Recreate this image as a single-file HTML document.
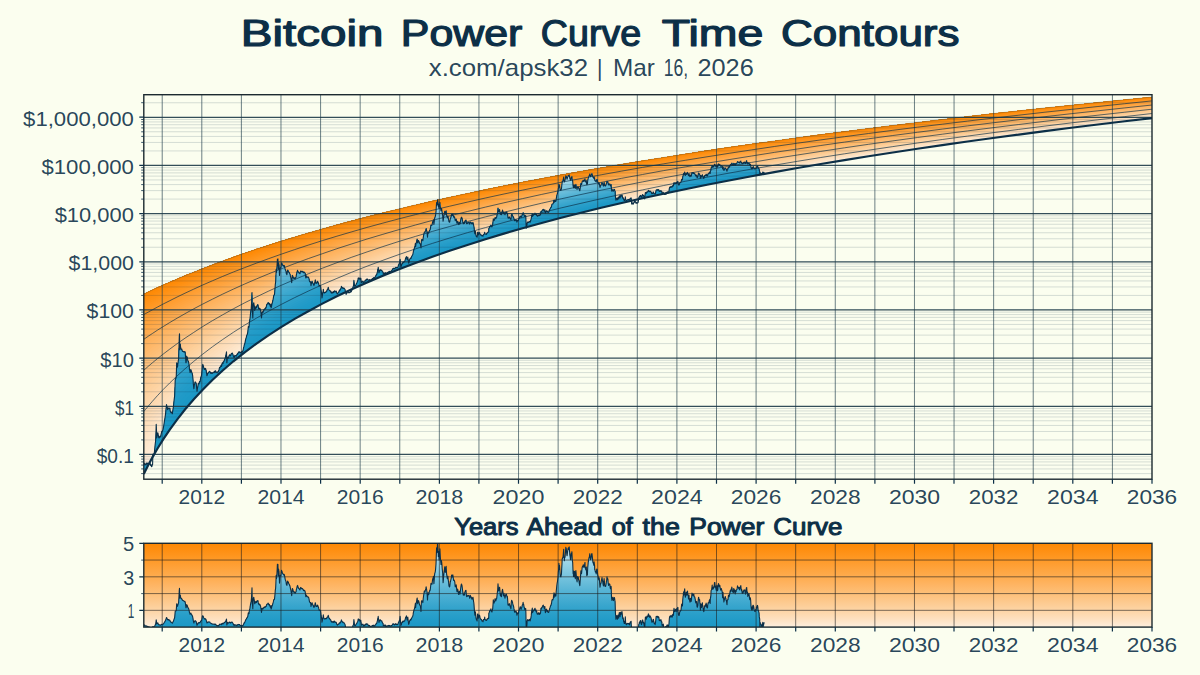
<!DOCTYPE html>
<html><head><meta charset="utf-8"><title>Bitcoin Power Curve Time Contours</title>
<style>
html,body{margin:0;padding:0;background:#fbfeef;}
body{width:1200px;height:675px;position:relative;overflow:hidden;font-family:"Liberation Sans",sans-serif;color:#0c2f47;}
.t{position:absolute;left:0;width:1200px;text-align:center;white-space:nowrap;}
#title{top:11px;font-size:35px;font-weight:bold;letter-spacing:1.2px;}
#sub{top:55px;font-size:22.5px;letter-spacing:0.4px;}
#bt{top:514px;font-size:19.5px;font-weight:bold;letter-spacing:0.4px;left:143.8px;width:1008.2px;}
</style></head><body>
<svg width="1200" height="675" viewBox="0 0 1200 675" style="position:absolute;left:0;top:0">
<defs>
<clipPath id="cm"><rect x="143.8" y="94.7" width="1008.2" height="384.5"/></clipPath>
<clipPath id="cb"><rect x="143.8" y="543.3" width="1008.2" height="83.80000000000007"/></clipPath>
<clipPath id="up"><polygon points="143.2,464.4 143.6,464.3 143.9,464.9 144.2,463.7 144.5,463.2 144.9,463.3 145.2,464.5 145.5,464.8 145.8,464.8 146,464.4 146.2,464.7 146.5,463 146.8,463.6 147.1,463.1 147.5,463.8 147.8,463.3 148.1,463.6 148.4,463.9 148.8,463.9 149,464.4 149.1,464.1 149.4,462.8 149.7,463.1 150.1,463.3 150.4,464.5 150.7,465.5 151,464.5 151.4,466.3 151.7,466.7 152,466 152.3,464.9 152.6,464.4 152.7,460.3 152.8,454.9 153,454 153.3,454.5 153.6,454.7 154,454 154.3,453.4 154.6,450.1 154.9,446.9 155.3,443.2 155.6,441 155.9,433.4 156,431.5 156.2,424.4 156.6,432.7 156.8,437.9 156.9,437.4 157.2,435.6 157.5,433.7 157.7,432.9 157.9,432.9 158.2,434.7 158.5,436.1 158.8,437.9 159.2,437.9 159.5,437.5 159.8,436.3 160.1,436.2 160.4,436.1 160.5,436.9 160.8,436 161.1,434.1 161.4,433.1 161.8,431.3 162.1,431.5 162.4,431.2 162.8,430.1 163.1,429.2 163.4,427.6 163.7,426 164.1,423.3 164.4,421.2 164.7,419.6 165,417.8 165.4,414.8 165.6,413.7 165.7,412.5 166,408.9 166.3,406.8 166.5,404.5 166.7,405.4 167,406.5 167.3,407.8 167.6,409.7 168,408.4 168.3,408.1 168.6,408 168.9,408.8 169.3,408.6 169.6,408.2 169.9,408.1 170.2,410.9 170.6,411.7 170.7,412 170.9,412.6 171.2,412.1 171.5,412 171.9,412.8 172.2,413.8 172.4,413.7 172.5,412.4 172.8,410.6 173.2,407.8 173.5,406.3 173.8,402.8 174.1,400 174.5,396.8 174.6,396.4 174.8,391.4 175.1,383 175.2,380.1 175.4,378.9 175.8,378.7 176.1,377.3 176.2,377.3 176.4,371.8 176.7,362.8 177.1,364.1 177.4,366.3 177.5,367.1 177.7,364.9 178,362.9 178.4,360.1 178.6,359.2 178.7,355.2 179,347 179.2,339.8 179.3,336.5 179.5,333.8 179.7,343.7 179.8,349.6 180,345.6 180.1,344.1 180.3,344.1 180.6,346.9 180.9,348.3 181,349 181.3,349.2 181.6,349.6 181.8,349.1 181.9,349.6 182.3,351 182.6,351.5 182.9,351.5 183.3,351.6 183.4,351.4 183.6,351.7 183.9,352 184.2,351.8 184.6,352.2 184.9,351.6 185.2,352.6 185.5,356.4 185.9,362.2 186,362.8 186.2,361.6 186.5,358.7 186.7,356.1 186.8,356.4 187.2,357.3 187.5,358.8 187.8,360.5 188.1,361.2 188.5,361.5 188.6,362.3 188.8,363 189.1,365.3 189.4,368.7 189.5,369.5 189.8,370.5 190.1,372.6 190.4,371.1 190.7,370 190.8,369.5 191.1,370.5 191.4,371.7 191.7,371.9 191.8,372.6 192,372.7 192.4,374.3 192.7,375.9 192.8,377.3 193,378.9 193.3,383.7 193.7,387.4 193.9,388.8 194,387.9 194.3,385.2 194.6,384.3 195,382.1 195.2,381.9 195.3,382 195.6,382.6 195.9,382.8 196.2,383.3 196.3,384 196.6,387.6 196.9,390 197,391.3 197.2,390.1 197.6,387.6 197.9,386.1 198.2,383.9 198.4,383.3 198.5,383.5 198.9,383.8 199.2,383.4 199.5,381.6 199.8,381.7 200,381.9 200.2,381.2 200.5,378.9 200.8,377.3 201,376.8 201.1,376.8 201.5,375.5 201.7,373.9 201.8,372.9 202.1,369.7 202.4,365.9 202.6,365.3 202.8,364.4 203.1,365.5 203.3,365.9 203.4,366 203.7,367.6 204.1,368.6 204.4,369.5 204.7,369.1 205,368.3 205.2,368.8 205.4,369.6 205.7,368.8 206,369.7 206.1,369.9 206.3,371.3 206.7,373.8 206.9,375.8 207,375.4 207.3,374.9 207.6,373.7 208,372.9 208.3,373 208.6,372.4 208.9,371.9 209.3,371.7 209.6,371.4 209.8,371.4 209.9,371.4 210.2,372.3 210.6,373.3 210.9,373.1 211.2,372.5 211.5,373.2 211.6,373 211.9,373.5 212.2,373.5 212.5,373.1 212.8,372.6 213.2,372.8 213.5,372.6 213.8,372.3 214.1,371.6 214.5,371.3 214.8,372.2 214.9,372.6 215.1,371.8 215.4,370.7 215.8,371.1 216.1,371.9 216.4,372.4 216.7,372.6 217.1,372.9 217.4,372.1 217.7,372.1 218,371.4 218.2,371.4 218.4,371.6 218.7,370.3 219,370.2 219.3,368.5 219.6,367.2 219.8,367.4 220,367.6 220.3,367.1 220.6,366.4 220.9,365.8 221.3,365.1 221.5,366.5 221.6,366.1 221.9,364.1 222.2,363.3 222.6,362.7 222.9,363.8 223,363.8 223.2,362.1 223.5,361.7 223.9,361.4 224.2,360.8 224.5,359.6 224.8,359.2 225.2,358 225.5,357.3 225.8,355.4 226.1,354.1 226.5,351.8 226.8,362.8 227.1,360.8 227.4,357.1 227.8,357.6 228.1,357.8 228.2,358.1 228.4,357.6 228.7,357.1 229.1,355.5 229.4,355.6 229.7,354.8 230,354.8 230.4,355.9 230.7,355.5 231,354.6 231.3,353.8 231.4,353.6 231.7,353.3 232,353.5 232.3,353 232.6,353.8 233,354.6 233.3,355.9 233.6,356.4 233.9,357.3 234.3,357.5 234.6,355.7 234.8,356.3 234.9,355.4 235.2,355.5 235.6,355.8 235.9,355.9 236.2,356.1 236.3,355.9 236.5,355 236.8,354.7 237.2,354.6 237.5,353.5 237.8,354 238,353.3 238.1,353 238.5,352.3 238.8,351.9 239.1,352.2 239.4,352.1 239.6,351.8 239.8,352.5 240.1,352.9 240.4,352.7 240.7,352.4 241.1,352.8 241.3,351.8 241.4,352.8 241.7,352.4 242,351.4 242.4,352.1 242.7,351.5 242.9,350.6 243,350.7 243.3,349 243.7,347.2 244,346.4 244.3,344.5 244.6,344.5 244.8,343.2 245,342.8 245.3,341.2 245.6,339.6 245.9,338.6 246.3,337.3 246.6,335.9 246.9,335 247.2,334.7 247.6,332.9 247.8,332.2 247.9,331 248.2,327.8 248.3,326.6 248.6,326.8 248.9,327.3 249,327.1 249.2,324.3 249.5,321.4 249.9,319.3 250.2,316.8 250.5,313.5 250.7,312.1 250.8,311.2 251.2,309.1 251.5,304.4 251.6,302.6 251.8,297.4 252,292.5 252.1,299 252.3,312.1 252.5,312.5 252.8,318 253.1,308.9 253.2,305.3 253.4,304.1 253.8,302.7 254.1,305.4 254.4,306.6 254.7,310.4 255.1,308.4 255.4,308.8 255.7,306.9 255.9,307.2 256,306.7 256.4,307.9 256.7,305.9 257,306 257.3,305.5 257.7,304.7 257.8,304.6 258,304.9 258.3,307.3 258.6,308.6 258.7,308.7 259,308.1 259.3,309.3 259.6,308.5 259.8,308.3 259.9,308.4 260.3,309.3 260.6,310.4 260.9,312.8 261,312.6 261.2,315.3 261.5,318 261.6,316.6 261.9,313.8 262,312.6 262.2,311.9 262.5,312.7 262.9,312.6 263.1,311.7 263.2,311.2 263.5,311.3 263.8,309.8 264.2,309.8 264.4,309.1 264.5,309.7 264.8,309.7 265.1,308.4 265.5,308.5 265.8,307.5 265.9,307.9 266.1,307.6 266.4,306.1 266.8,304.5 267.1,304.3 267.4,304 267.8,303.2 268.1,302.6 268.4,302.8 268.7,303.8 269.1,304.1 269.3,304.4 269.4,303.3 269.7,304.3 270,305.4 270.4,306.5 270.7,306.1 271,304 271.1,307.9 271.3,307.3 271.7,305.4 271.8,304.9 272,303.7 272.3,303.1 272.5,302.2 272.6,301.5 273,299.8 273.3,298.3 273.6,296.5 273.9,295.1 274.3,294.8 274.4,295 274.6,293.4 274.9,289.9 275.2,286 275.3,284.3 275.6,282.5 275.7,280.9 275.9,276.5 276.2,269.2 276.5,272.4 276.9,268.5 277,266.4 277.2,263 277.4,259.2 277.5,260.8 277.6,262.8 277.8,260.1 277.9,258.8 278.2,266 278.3,269.2 278.5,265.3 278.6,262.8 278.8,264.1 279,264.7 279.1,266.6 279.5,275.4 279.8,273.1 279.9,271.8 280.1,269.2 280.3,267.8 280.4,268 280.8,267.7 280.9,267.8 281.1,266.3 281.4,263.3 281.5,262.8 281.7,263.2 282.1,263.8 282.4,264.8 282.5,265.2 282.7,265 283,265.7 283.4,265.7 283.6,266.2 283.7,265.8 284,265.5 284.3,265.7 284.7,267.1 285,268.7 285.3,269.8 285.6,270.5 285.8,270.8 286,271.3 286.3,273.4 286.4,273.9 286.6,273.9 286.9,274.7 287.3,272.1 287.6,270.1 287.9,270.6 288.3,270.9 288.4,271.6 288.6,271.9 288.9,272.4 289.2,272.5 289.4,273 289.6,273.5 289.9,273.9 290.2,275 290.5,276.5 290.7,277.1 290.9,277.8 291.2,279.9 291.5,281.2 291.7,282.8 291.8,281.3 292.2,277 292.3,275.4 292.5,275.5 292.8,276.2 293.1,276.9 293.3,278 293.5,277.9 293.8,278.5 294,278.1 294.1,277.7 294.4,278.4 294.8,278.4 295,278.9 295.1,279 295.4,278.1 295.7,277.6 296.1,276.9 296.4,274.6 296.7,273.8 296.8,273.2 297,272 297.4,270.8 297.6,270.3 297.7,270.7 298,271.4 298.3,272.3 298.7,272.8 298.9,272.8 299,272.9 299.3,272.8 299.6,273.4 300,273.7 300.3,272.1 300.6,271.1 300.9,270.9 301.3,271.6 301.6,271.7 301.9,271.6 302.1,271.8 302.2,271.4 302.6,271.4 302.9,272 303.2,271.8 303.5,272.8 303.9,272.7 304,272.6 304.2,272.4 304.5,272.2 304.8,272.8 305,272.8 305.2,273.4 305.5,275.8 305.8,278 306.1,277.1 306.5,275.9 306.6,275.8 306.8,277.1 307.1,277 307.3,277.2 307.5,277.2 307.8,277.1 308.1,277.3 308.3,277.1 308.4,277.1 308.8,277.9 309.1,279.1 309.4,280.9 309.7,281.7 310.1,281.8 310.4,282.2 310.6,281.7 310.7,282.5 311,285.6 311.4,283.5 311.7,282.8 312,281.4 312.1,281.2 312.3,282 312.7,282.8 313,283.6 313.2,283.7 313.3,283.7 313.6,284.8 314,285.3 314.3,284.4 314.5,283.7 314.6,283.6 314.9,281.9 315.3,279.9 315.6,281.3 315.9,282.7 316,283.4 316.2,283.1 316.6,283.1 316.9,283.1 317.2,282 317.5,281.3 317.9,281.9 318.2,282.9 318.5,283 318.7,284 318.8,284.3 319.2,286 319.5,285.5 319.8,285.6 320.1,285.9 320.5,285.6 320.8,287.6 321,289.2 321.1,290.5 321.4,292.4 321.8,295.4 322,297.9 322.1,297 322.4,295.5 322.6,293.9 322.7,292.9 323.1,291.5 323.3,289.2 323.4,289.7 323.7,291.9 323.9,292.8 324,292.4 324.4,293 324.7,292.9 325,292.6 325.3,292.3 325.5,292.1 325.7,292.3 326,291.7 326.3,291.8 326.7,291.5 327,289.9 327.3,289.9 327.6,289.4 328,288.5 328.2,287.3 328.3,287.4 328.6,289 328.9,289.8 329,289.9 329.3,290.1 329.6,290.4 329.9,290.8 330.2,291 330.3,291.2 330.6,291 330.9,292 331.2,292.8 331.5,292.1 331.9,293.2 332.2,292.6 332.5,292.8 332.8,292.3 333.2,291.6 333.5,292.6 333.6,292.3 333.8,292.2 334.1,291.8 334.5,290.8 334.8,291.7 335.1,291.9 335.4,291.3 335.8,291.2 336.1,291.1 336.4,291.7 336.7,292.9 337,293 337.1,293.5 337.4,293.8 337.7,293.2 338,292.8 338.4,292.2 338.5,292.1 338.7,292.2 339,291.6 339.3,290.5 339.7,290.6 340,289.5 340.2,290.1 340.3,289.7 340.6,289 341,288 341.3,287.1 341.4,286.3 341.6,286.7 341.9,287.3 342.3,288.1 342.6,288.2 342.8,287.8 342.9,287.7 343.2,288.4 343.6,288.4 343.9,288.1 344.2,288.2 344.5,288.7 344.9,289.3 345.1,289.8 345.2,290.3 345.5,292 345.8,293.1 346.1,294.4 346.2,294.3 346.5,293.1 346.8,292.6 346.9,292.7 347.2,292.7 347.5,292.9 347.8,292.7 348.1,292.6 348.5,292.3 348.8,292.8 349.1,292.6 349.4,292.8 349.8,292.3 350.1,292.2 350.2,291.9 350.4,292.2 350.7,291.4 351.1,291.9 351.4,291.5 351.7,290.3 352,290.1 352.4,289.2 352.7,288.3 352.8,288 353,286.8 353.3,286.2 353.6,285.3 353.7,283.8 353.9,280.4 354,281.3 354.3,283.6 354.6,286.3 355,285.9 355.3,286.2 355.6,285.3 355.9,284.9 356.3,283.8 356.6,283.4 356.8,283 356.9,282.7 357.2,281.9 357.6,281.1 357.9,280.2 358,279.2 358.2,278.5 358.3,277.8 358.5,278.2 358.9,278.8 359.2,278.6 359.4,278.2 359.5,278 359.8,279.1 360.1,279.4 360.2,279.1 360.5,278.4 360.8,278.1 361.1,280.4 361.5,282.3 361.7,282.8 361.8,282.5 362.1,282 362.4,281.6 362.8,281.2 363.1,281.6 363.4,281.8 363.5,282.4 363.7,282.7 364.1,282 364.4,282 364.7,281.4 365,280.7 365.4,280.2 365.7,280.7 366,280.2 366.3,279.5 366.7,279.2 367,279.6 367.3,279.1 367.6,279.1 368,279.7 368.2,280.1 368.3,280.2 368.6,280.2 368.9,280.4 369.3,279.8 369.6,279.6 369.9,280.1 370,280.1 370.2,280.2 370.6,280.4 370.9,280 371.2,279.8 371.5,279.5 371.9,279.5 372.2,278.6 372.5,278.4 372.8,278.5 373.1,278.7 373.3,278.4 373.5,277.9 373.8,277.5 374.1,278.4 374.4,278.4 374.8,278.1 375.1,277.3 375.4,276.3 375.7,276 376.1,275.2 376.2,275.2 376.4,274.5 376.7,274.7 377,273.3 377.4,271.9 377.7,269.7 378,268.8 378.2,267.3 378.3,268.4 378.7,270.4 378.9,272.4 379,272.8 379.3,271.5 379.6,271.1 379.9,270 380,269.9 380.3,269.8 380.6,270 380.9,270.2 381.3,270.5 381.4,270.3 381.6,270.3 381.9,270.3 382.2,271.4 382.6,271.8 382.9,272.2 383.2,272.3 383.3,274.3 383.5,273.9 383.9,274 384.2,273.5 384.5,273.8 384.7,273.5 384.8,272.9 385.2,272.6 385.5,273 385.8,273.9 386.1,273.4 386.5,273 386.6,273.4 386.8,273.2 387.1,272.8 387.4,272.6 387.8,272.7 388.1,272.2 388.4,271.9 388.7,271.7 389.1,272.1 389.4,271.4 389.7,271.4 389.8,272 390,271.7 390.3,271.7 390.7,271.5 391,271 391.3,271.1 391.6,270.6 392,270.1 392.3,269.7 392.6,269.5 392.9,268.4 393.2,268.3 393.3,268.6 393.6,268.3 393.9,268.4 394.1,268.8 394.2,268.6 394.6,268.8 394.9,268.2 395.2,267.8 395.5,268 395.9,267.2 396.2,267.5 396.4,267.6 396.5,267.7 396.8,267.8 397.2,267.5 397.5,267.5 397.8,267.2 397.9,267 398.1,266.2 398.5,265.1 398.8,264.4 399,264.1 399.1,264.2 399.4,263 399.7,262.5 399.8,261.7 400.1,259.2 400.4,262.6 400.7,265.6 400.8,267 401.1,266.4 401.4,266 401.7,264.4 401.8,264.1 402,263.5 402.4,263.7 402.7,262.8 403,262.2 403.1,262.1 403.3,262.1 403.7,262.6 404,261.8 404.3,261.7 404.6,261.6 405,260.4 405.3,259.4 405.6,258.3 405.9,257.7 406.3,257.1 406.4,256.5 406.6,257.9 406.9,258.6 407.1,259.5 407.2,259.6 407.6,258.2 407.8,257.1 407.9,257.8 408.2,259.8 408.5,262.1 408.7,263.1 408.9,262.6 409.2,261.6 409.5,260.1 409.8,259.2 410.2,258.7 410.5,258 410.8,258.5 411,258.3 411.1,258 411.5,256.9 411.8,256.2 412.1,255.7 412.5,255 412.8,254.4 413.1,253 413.4,251.3 413.8,250.1 414.1,248.6 414.4,248.3 414.7,247 414.8,246.7 415.1,245.4 415.4,243.4 415.6,246.7 415.7,246 416,243.7 416.1,243.4 416.4,242.6 416.7,241.1 417,239.4 417.2,239.1 417.3,240 417.7,243 418,241.8 418.2,240.8 418.3,240.8 418.6,240.5 419,241.6 419.3,242.6 419.4,243.2 419.6,243.2 419.9,243.6 420.3,244 420.4,244 420.6,245.4 420.9,247.1 421,248 421.2,243.8 421.5,239.7 421.6,239.9 421.9,239.8 422.2,239.6 422.5,240.1 422.8,240.8 422.9,240.2 423.2,237.8 423.5,236 423.8,234.5 424.2,232.7 424.3,232 424.5,232.1 424.8,231.9 425,232.3 425.1,231.7 425.5,231 425.8,230.1 426.1,228.5 426.4,229.6 426.8,231.1 426.9,231.2 427.1,233.1 427.4,235.9 427.5,237.2 427.7,234.6 428,232.3 428.1,232.1 428.4,232.9 428.7,233.1 429,232.1 429.4,230.8 429.7,230 430,230.1 430.3,229 430.7,226.6 430.9,225.4 431,225 431.3,225.5 431.7,225.1 432,225.2 432.3,223.6 432.6,222.1 432.7,221.8 433,221.1 433.3,220.6 433.5,219.7 433.6,220.9 433.9,224.5 434.3,221.1 434.5,219.1 434.6,218.6 434.9,217.3 435.2,216.9 435.3,216.4 435.6,214.9 435.9,212.5 436,211.8 436.2,208.7 436.5,203.7 436.6,202.5 436.9,203.9 437,205.1 437.2,203.6 437.5,200.2 437.6,199.7 437.8,200.8 437.9,201.6 438.2,204.7 438.3,206.9 438.5,205.4 438.7,204 438.8,205.1 439.1,208.8 439.2,206.4 439.5,205.3 439.8,203.5 439.9,202.4 440.1,204.5 440.4,207.5 440.8,209.6 441,210.8 441.1,210.6 441.4,208.4 441.7,209.4 442,211.2 442.1,212.2 442.4,214.1 442.7,215.6 443,219.9 443.1,221.2 443.4,219.2 443.7,216.7 444,215.1 444.2,213.6 444.3,213.6 444.7,211.4 444.8,211.2 445,212.8 445.3,214.4 445.6,213 446,211.4 446.2,210.7 446.3,212.1 446.6,215.1 446.9,216.1 447.3,217.6 447.6,216.6 447.9,216 448.2,218 448.6,219.5 448.9,221.5 449.2,222 449.5,222.2 449.7,222.1 449.9,221 450.2,219.4 450.3,218.5 450.5,218.5 450.8,217.6 451.2,216.5 451.5,215.1 451.6,214.3 451.8,214.8 452.2,215.3 452.3,215.2 452.5,214.8 452.8,213.9 453.1,214.9 453.5,216.7 453.6,217.1 453.8,216.8 454.1,216.8 454.4,217 454.8,217.9 455.1,219.9 455.3,220.7 455.4,220.4 455.7,219.8 456.1,219.3 456.2,219.2 456.4,220.1 456.7,222.1 457,223.3 457.4,221.7 457.7,221.4 457.8,221.8 458,222.3 458.3,223.6 458.7,224.6 459,224.3 459.3,222.7 459.4,222.3 459.6,222.4 460,223.9 460.2,223.4 460.3,222.4 460.6,220.6 460.7,220 460.9,219 461.3,217.5 461.5,217.2 461.6,217.4 461.9,217.8 462.2,218.9 462.6,221 462.9,222.3 463.2,223.3 463.3,223.8 463.5,223.6 463.9,222.8 464.2,223.5 464.4,223.3 464.5,223.2 464.8,221.4 465.2,220.9 465.3,220.8 465.5,220.2 465.8,220.1 466,220 466.1,220.8 466.5,223.6 466.8,223.7 467.1,223.5 467.4,223.4 467.8,222.6 468.1,223 468.4,222.9 468.7,222.8 469,222.3 469.1,222.8 469.4,223.1 469.7,224.1 470,223.4 470.4,222 470.5,222.3 470.7,222.7 471,222.6 471.4,223.3 471.7,223.6 472,224 472.3,223 472.7,223.2 473,222.5 473.3,223.9 473.6,225.2 473.7,225.3 474,227 474.3,229.7 474.4,230.5 474.6,232.2 474.9,233.8 475.3,232 475.4,231.4 475.6,232.6 475.9,234.9 476.2,236.2 476.6,236.5 476.9,237 477.1,237.2 477.2,236.5 477.5,233.4 477.6,232.3 477.9,232.2 478.1,232.5 478.2,233.5 478.4,235 478.5,234.5 478.8,234.2 479.2,232.9 479.5,232.6 479.8,233.2 480.1,234.1 480.5,235 480.8,234.9 481.1,235 481.4,234.9 481.8,235.7 481.9,235.9 482.1,235.7 482.4,235.6 482.7,235.7 483,236.2 483.1,235.7 483.3,234.7 483.4,234.5 483.7,234.5 484,234.2 484.4,233.8 484.7,232.2 484.9,233.8 485,233.9 485.3,233.9 485.7,234.1 486,234.3 486.3,233.9 486.6,234.1 486.9,233.3 487,233.3 487.3,232.7 487.6,232.8 487.9,232.3 488.3,232 488.6,231.8 488.7,232 488.8,228.5 488.9,228.6 489.2,228 489.6,227 489.7,226.9 489.9,226.3 490.2,226.6 490.6,225.9 490.9,225.1 491.1,225.9 491.2,225.9 491.5,226.4 491.9,226.9 492.2,226 492.5,224.9 492.7,224.5 492.8,223.4 493.2,220.1 493.3,218.8 493.5,219.5 493.7,220.2 493.8,220 494.1,220.5 494.5,219.3 494.8,218.7 495.1,217.5 495.4,218 495.8,218.8 496.1,217.7 496.4,217.5 496.7,216.9 496.8,216.3 497.1,214.8 497.4,212.8 497.6,212.2 497.7,211.5 498,208.1 498.3,210 498.4,210.6 498.7,212 499,210.9 499.3,210.4 499.6,209.6 499.7,210.3 500,211.9 500.3,214.2 500.6,214.4 500.9,213 501,213.5 501.3,214.5 501.5,214.7 501.6,213.6 501.9,211.9 502.3,210.9 502.5,210.1 502.6,210.3 502.9,211.3 503.2,212.6 503.5,213.6 503.6,213.6 503.9,212.7 504,212.1 504.2,212.7 504.5,213.3 504.9,214.6 505,214.7 505.2,213.8 505.5,213.2 505.7,212.4 505.8,212.4 506.2,211.9 506.5,212.1 506.8,212.8 507.1,213.6 507.4,213.2 507.5,213.9 507.8,216.3 508,218 508.1,217.9 508.4,218.1 508.8,218 509.1,217 509.4,217.1 509.5,216.9 509.7,217.4 510.1,218.3 510.4,218.9 510.7,219 510.9,219.6 511.1,218.3 511.3,215.2 511.4,215 511.7,214.2 512,214.5 512.4,215.1 512.7,215.9 513,216.5 513.3,217.2 513.4,217 513.7,217.7 514,218.9 514.3,219.4 514.5,220.6 514.6,220.7 515,220.7 515.3,220.6 515.6,219.9 515.9,219.7 516.3,220 516.6,220.8 516.9,222.1 517.2,221.4 517.6,220.5 517.8,220.3 517.9,220.8 518.2,220.4 518.4,220.5 518.5,220.1 518.9,218.7 519.2,218.4 519.3,218.1 519.5,217.8 519.8,216.9 520.2,216 520.4,216 520.5,216.8 520.8,216.7 521.1,217.4 521.5,216.4 521.8,216 522.1,215 522.3,214.4 522.4,214.3 522.8,214 523.1,212.6 523.2,213 523.4,213.5 523.7,213.7 523.9,214.4 524.1,215.2 524.4,215.5 524.7,216.5 524.8,216.5 525,216 525.4,216.2 525.7,215.6 525.9,218.5 526,221.4 526.2,228.2 526.3,227.7 526.4,227.3 526.6,228 527,224.7 527.1,223.6 527.3,222.7 527.6,222 527.9,222.4 528.3,222.3 528.4,222.3 528.6,222.5 528.9,221.7 529.2,222 529.4,221.4 529.6,221.8 529.9,221.9 530.2,222.1 530.4,221.5 530.5,221 530.9,220 531.2,218.7 531.5,216.6 531.8,215.2 532.2,214.2 532.3,213.7 532.5,215.6 532.6,216.4 532.8,215.9 533.1,215.1 533.5,215.1 533.7,214.7 533.8,214.4 534.1,214.5 534.4,214.4 534.8,213.4 535,213.2 535.1,213.4 535.4,214.3 535.7,214.5 536.1,214 536.4,215.1 536.5,214.9 536.7,214.5 537,215.7 537.4,216.2 537.7,216 537.9,215.6 538,215.7 538.3,215.1 538.7,215.7 539,214.8 539.3,215 539.6,215.6 539.7,215.3 540,214.9 540.3,215 540.5,214.7 540.6,214.2 540.9,211.8 541,211.6 541.3,212.1 541.6,211.2 541.7,211.4 541.9,210.8 542.2,210.9 542.6,209.8 542.9,210 543.2,209.6 543.3,209.3 543.5,209.6 543.8,210.1 544.2,210.9 544.5,210.2 544.8,209.8 544.9,209.9 545.1,211.8 545.4,213.2 545.5,212.9 545.8,212.3 546.1,211.1 546.4,210.8 546.8,211.4 547,211.8 547.1,212 547.4,211.3 547.7,211.7 548.1,212.2 548.2,212.4 548.4,212.3 548.7,212.1 549,211.4 549.1,211 549.4,210.6 549.7,209.5 550,209.2 550.3,208.4 550.7,207.7 551,207.5 551.3,206.6 551.4,206.9 551.6,206 552,204.3 552.3,204.1 552.6,203.9 552.9,204 553,203.8 553.3,203.3 553.6,201.6 553.9,200.6 554,200.1 554.2,202.4 554.6,200.8 554.8,200.4 554.9,201.1 555.2,200.8 555.5,201.4 555.9,201.2 556.2,198.9 556.4,197.8 556.5,197.3 556.8,195.7 557.2,194.1 557.5,193.3 557.8,192 558,191.3 558.1,190.3 558.3,188.6 558.5,187.9 558.8,185.2 558.9,184.3 559.1,186.1 559.2,187.1 559.4,185.7 559.5,185.1 559.8,187 560.1,189.4 560.3,190.1 560.4,190.4 560.7,190.2 560.9,190.3 561.1,189.6 561.4,189 561.5,188.3 561.7,186.2 562,183.8 562.2,181.6 562.4,181.5 562.7,180.9 563,180.8 563.3,179.2 563.7,177 563.9,180.4 564,180.6 564.3,181.1 564.4,182 564.6,180.6 565,180.4 565.3,179 565.6,177 565.8,175.7 565.9,175.9 566.3,176.3 566.4,177 566.6,177.7 566.9,179 567.1,179.2 567.2,178.8 567.6,177.3 567.9,176.5 568.2,175.6 568.5,176.1 568.9,175.3 569.2,174.9 569.5,176.6 569.7,177.5 569.8,178.3 570.2,179.2 570.5,180.3 570.8,180.3 571.1,177.7 571.4,177.1 571.5,177.1 571.8,176.8 571.9,176.5 572.1,178.3 572.3,180.2 572.4,180.6 572.7,181.3 572.8,182.5 573.1,186.2 573.3,186.1 573.4,186.3 573.5,187.6 573.7,185.8 573.9,185 574.1,186.7 574.2,187.6 574.4,186.1 574.7,185 575,186.6 575.3,188.4 575.4,188 575.7,185.4 575.9,184.3 576,185 576.4,186.9 576.7,187.8 576.8,188.9 577,189.1 577.1,189.5 577.3,188.2 577.5,186.9 577.7,186.9 578,187.1 578.1,187.2 578.3,187 578.6,188.2 579,188.5 579.3,189.8 579.6,190.3 579.8,190.7 579.9,190.2 580.3,187.7 580.4,187.1 580.6,185.4 580.9,183.5 581.2,184.2 581.4,184.7 581.6,184.4 581.9,182.9 582.1,181.8 582.2,181.6 582.5,181.1 582.6,181.2 582.9,181.2 583.2,180.3 583.4,180.2 583.5,180.9 583.8,181.3 584.2,180.5 584.5,180.4 584.8,179.1 585,178.9 585.1,181.3 585.5,181.3 585.8,182.1 586.1,180.9 586.3,180.7 586.4,181.7 586.7,184.2 586.8,184.6 587.1,184.2 587.4,184.1 587.7,180.7 588.1,178.9 588.3,177.8 588.4,177.8 588.7,176.9 589,176.1 589.3,175.6 589.4,175.7 589.7,174.3 589.8,174.1 590,174.9 590.3,176.1 590.6,176.6 590.7,176.5 591,176.1 591.1,175.8 591.3,174.9 591.6,174 591.9,173.6 592,173.8 592.3,174.7 592.6,176.2 592.9,177.2 593.3,177.6 593.4,177.4 593.6,177.9 593.8,178.4 593.9,178.1 594.1,176.9 594.2,177.2 594.6,178.5 594.7,180.3 594.9,180.1 595.2,180.7 595.3,181.1 595.6,181 595.7,181.3 595.9,180.9 596.1,181.6 596.2,181.9 596.5,180.6 596.7,179.6 596.9,179.6 597.2,179.6 597.5,181.3 597.6,181.5 597.8,182.3 598.2,182.7 598.4,183.8 598.5,183.5 598.8,184.1 599.1,183.1 599.2,183 599.5,184.5 599.8,186.4 600,187.4 600.1,187.2 600.4,186 600.6,185.8 600.8,185.4 601.1,185 601.4,183.8 601.7,183.2 602,182.5 602.1,182.9 602.4,183.4 602.7,184.3 602.8,184.3 603,185.2 603.4,185.9 603.5,186.1 603.7,184.2 604,183 604.1,182.5 604.3,183.4 604.7,185.3 604.8,185.7 605,185.9 605.3,185.9 605.4,185.8 605.6,185.9 606,184.8 606.3,183.8 606.4,183.4 606.6,183.2 606.9,181.6 607,181.2 607.3,181.8 607.6,182.1 607.9,181.9 608.2,183.8 608.6,184.9 608.9,184.4 609.2,184.1 609.5,183.9 609.9,184.1 610.2,185.6 610.5,186 610.7,185.4 610.8,185 611.1,184.7 611.2,185.5 611.5,189.6 611.6,190.4 611.8,190.9 611.9,191.3 612.1,190.4 612.3,189.7 612.5,189.8 612.8,190.3 613.1,190.7 613.4,191.1 613.8,190.1 613.9,189.5 614.1,189.7 614.4,189.4 614.6,189.7 614.7,190.4 615.1,191.2 615.4,196.6 615.7,198.6 615.9,200.2 616.1,199.7 616.3,198.4 616.4,198.2 616.7,198.2 616.8,198.1 617,198.3 617.4,199.8 617.7,198.8 618,197.5 618.3,198.2 618.7,198.9 619,196.9 619.3,195.9 619.4,195.9 619.6,196.8 620,197.7 620.1,197.9 620.3,195.8 620.4,195.5 620.6,196.3 620.9,196.7 621.1,195.9 621.3,195.7 621.6,195.4 621.9,194.8 622,194.9 622.2,195.8 622.6,197.5 622.7,198.2 622.9,198.3 623.2,197.7 623.5,199 623.6,199.5 623.9,199.5 624.2,200.5 624.5,200.2 624.6,200.4 624.8,199.8 625.2,197.9 625.3,196.7 625.5,198.6 625.6,199.4 625.8,200.2 626.1,200.2 626.2,200.7 626.5,200.7 626.8,200 626.9,200.1 627.1,200.1 627.3,199.8 627.4,199.8 627.8,199.8 628.1,199.7 628.4,199.6 628.6,199.7 628.7,199.8 629.1,199.3 629.4,200.1 629.7,199.5 629.9,199 630,199 630.4,198.3 630.7,198.3 631,197.9 631.1,197.8 631.3,200 631.5,200.7 631.6,203.9 631.7,201.8 632,202.5 632.1,203 632.3,202.8 632.6,203.9 632.9,204 633,204.3 633.3,203.9 633.6,203.3 633.8,202.3 633.9,202.7 634.3,202.5 634.4,202.5 634.6,201.1 634.9,201.9 635.3,201.5 635.4,201.5 635.6,202.1 635.9,203.2 636.2,203.3 636.6,202.6 636.9,203.1 637.2,203.1 637.5,202.7 637.9,202.8 638.1,202.4 638.2,201.8 638.5,200.3 638.7,198.1 638.8,197.7 639.2,197.3 639.4,196.4 639.5,197 639.8,196.2 640.1,196 640.3,195.5 640.5,195.4 640.7,195.5 640.8,195.9 641.1,196.9 641.4,197.1 641.5,197.3 641.8,196.5 642.1,195.5 642.2,195 642.4,195.1 642.7,194.5 643.1,195.6 643.2,196 643.4,195.7 643.7,195.6 644,196.6 644.4,197.5 644.5,197.4 644.7,198.9 645,195.1 645.3,193.2 645.4,192.5 645.7,192.5 646,192.6 646.3,193.4 646.5,192.7 646.6,192.4 647,191.8 647.3,192.2 647.5,191.9 647.6,192 647.9,191.6 648.3,190.8 648.4,190.3 648.6,190.7 648.9,190.9 649,191.5 649.2,191.1 649.6,191.5 649.7,191.8 649.9,191 650.2,191.1 650.5,191.5 650.9,191.5 651,191.7 651.2,192 651.4,192.8 651.5,192.6 651.8,193.8 652.2,193.7 652.5,193.1 652.8,193.4 653.1,192.1 653.3,192 653.5,192.1 653.7,193 653.8,192.8 654.1,193.8 654.5,193.8 654.8,193.7 655.1,194.3 655.4,193.5 655.8,191.8 656.1,190.1 656.4,190.1 656.7,189.8 657.1,189.9 657.2,189.8 657.4,190.1 657.7,189.6 658,190.2 658.2,189.6 658.4,189.8 658.7,189.7 659,190.3 659.3,191.5 659.4,191.2 659.7,191 660,191 660.2,191.2 660.3,190.9 660.6,191.1 661,190.6 661.1,190.8 661.3,191.7 661.6,191.4 661.9,191.5 662,193.1 662.3,192.9 662.6,192.8 662.9,193.1 663.2,193.5 663.3,192.3 663.6,193.3 663.7,193.8 663.9,194.2 664.2,193.8 664.5,194.5 664.8,194.3 664.9,194.1 665.2,194 665.5,193 665.8,194.5 666.2,193.9 666.5,192.7 666.6,192.8 666.8,192.4 666.9,192.1 667.1,192.4 667.5,191.8 667.8,192.7 668,192.9 668.1,192.9 668.4,192.7 668.8,191.4 669,190.8 669.1,190.1 669.4,188.1 669.7,187.3 670.1,187.1 670.3,187.1 670.4,187.4 670.7,187.2 671,186.4 671.2,186.4 671.4,186.8 671.7,187.1 672,187.1 672.3,186.9 672.7,185.6 672.8,185.8 673,185.9 673.3,186 673.4,185.8 673.6,184.3 674,182.5 674.3,183.2 674.6,183.9 675,183.5 675.3,183.7 675.6,182.8 675.9,183.4 676.3,182.5 676.6,183.1 676.8,183.4 676.9,183.1 677,182.1 677.2,182 677.6,181.6 677.9,181.4 678.1,183.2 678.2,183.5 678.5,184.9 678.9,184.8 679.2,184.9 679.5,183.8 679.8,183 679.9,182.9 680.1,182.4 680.5,182.5 680.8,182.3 681,182 681.1,181.7 681.4,180.3 681.7,179.2 681.8,179.4 682.1,179.4 682.4,179.9 682.5,179.4 682.7,177.3 683.1,175.5 683.2,175.3 683.4,174.2 683.7,173.4 683.8,174.8 684,174 684.4,173 684.7,172 685,174.3 685.3,175.5 685.7,174.8 686,173.8 686.2,173 686.3,173.2 686.6,173.9 686.9,174.3 687,174.1 687.3,173.1 687.5,172.4 687.6,172.9 687.9,173.7 688.3,174.3 688.5,175.7 688.6,175.4 688.9,174.5 689,173.8 689.2,175 689.6,176 689.9,176.5 690,176.7 690.2,175.7 690.5,175 690.9,176 691.2,176.2 691.4,175.6 691.5,174.8 691.8,173.5 692,172.5 692.2,172.6 692.5,172.7 692.8,173.1 693.1,173.4 693.5,172.7 693.8,172.6 694.1,173.5 694.4,173.7 694.8,173.7 695.1,174.6 695.2,174.4 695.4,175.3 695.7,175.8 695.8,176 696.1,175.8 696.4,175.5 696.6,175.1 696.7,175.5 697,177.3 697.3,177.6 697.7,176.9 697.8,176.9 698,175.7 698.2,174.4 698.3,173.8 698.6,173 698.8,173.4 699,173.9 699.2,174.2 699.3,173.9 699.6,173.9 699.9,175.3 700.1,175.6 700.3,177.7 700.4,178.3 700.6,176.3 700.7,175.5 700.9,175.6 701.2,176.4 701.5,177 701.6,176.8 701.9,176.1 702.2,175 702.4,174.7 702.5,175.7 702.9,176 703,176.3 703.2,177.2 703.5,178 703.8,178.3 704.2,177 704.5,176.3 704.6,175.9 704.8,175.4 705.1,175.5 705.5,175 705.8,175.6 706.1,174.2 706.4,174.6 706.8,175.8 707.1,176 707.4,175.8 707.5,176 707.7,174.8 708.1,173.8 708.4,173.6 708.7,173.7 709,173.3 709.4,172.3 709.6,172.1 709.7,172.7 710,172.9 710.2,173.5 710.3,172.1 710.4,171.3 710.7,170.8 710.9,170 711,169.1 711.1,168.1 711.3,167.8 711.6,167.7 712,166.3 712.2,165.6 712.3,166.4 712.6,167.2 712.9,166.5 713.3,167 713.6,166.1 713.9,166.4 714,166 714.2,165.5 714.5,164.2 714.9,164.2 715.2,165.9 715.5,165.5 715.8,166.3 716.2,167 716.3,167 716.5,166.7 716.6,166.1 716.8,165 717,165 717.1,165.2 717.4,167.1 717.5,167 717.8,166.6 718.1,165 718.2,164.5 718.4,163.9 718.7,164.2 718.8,164.3 719.1,164.7 719.3,165 719.4,164.6 719.6,164.5 719.8,164.4 720.1,165.1 720.4,165.8 720.7,166.2 721.1,165.9 721.3,165.9 721.4,165.5 721.7,165.9 722,166.3 722.4,167.3 722.6,169 722.7,168.9 722.8,169 723,166.7 723.2,168.3 723.3,168.3 723.7,169.6 723.9,170.5 724,170.1 724.3,169.7 724.6,169.1 725,168.3 725.3,168 725.4,168.2 725.6,168.5 725.9,168.6 726.1,169.4 726.3,169.4 726.4,169.4 726.6,170 726.9,171 727,171.1 727.2,169.9 727.3,169.2 727.6,168.9 727.9,168.7 728,168.8 728.2,168 728.5,166.8 728.9,167.5 729.2,167.2 729.4,166.7 729.5,166.7 729.8,165.9 730.2,164.9 730.3,164.8 730.5,164.6 730.8,165.1 731,164.7 731.1,164 731.5,164.2 731.8,163.1 732.1,163.6 732.4,164.7 732.7,164.6 732.8,164.6 733.1,164.9 733.3,165.1 733.4,164.8 733.7,163.4 734.1,163.5 734.4,163.8 734.6,164.5 734.7,164.6 735,164.8 735.2,165.2 735.4,164.7 735.5,163.9 735.7,163.7 736,164.1 736.1,164.3 736.3,163.6 736.7,163.3 737,163.2 737.3,162.2 737.5,161.6 737.6,162 738,162 738.2,162.1 738.3,162.2 738.6,162.5 738.9,162.6 739.3,161.9 739.4,162.4 739.6,163 739.9,162.2 740.3,162.2 740.6,161.3 740.8,161 740.9,161.4 741.2,162.4 741.4,162.9 741.6,162.4 741.9,162.7 742.1,163.4 742.2,163.8 742.5,163.7 742.9,163.8 743.2,162.8 743.3,163.3 743.5,162.9 743.8,162.3 744,162.3 744.2,162.3 744.5,162.4 744.7,162.1 744.8,162.1 745.1,162.9 745.5,163.6 745.8,163.1 746.1,161.9 746.4,161 746.7,160.8 746.8,161.4 747.1,162.9 747.4,162.5 747.7,163.7 747.8,164.1 748.1,163.6 748.3,163.7 748.4,163.6 748.7,163.1 748.9,162.7 749,162.9 749.3,163.8 749.4,164.1 749.7,164.9 749.8,165.1 750,164.5 750.3,164.4 750.4,164.2 750.7,165.4 750.9,166.6 751,167.3 751.3,168.4 751.6,168.8 752,169 752.3,167.5 752.4,167.4 752.6,168.1 752.7,168.5 752.9,166.8 753.3,166.8 753.6,167 753.9,167.7 754.2,168.5 754.6,168.7 754.9,169 755.2,169 755.4,168.3 755.5,168.5 755.9,168.5 756,168.2 756.2,167.9 756.5,166.8 756.8,167.1 757.2,166.2 757.5,166.1 757.8,166.6 758.1,168 758.5,167.9 758.7,168.5 758.8,168.4 759.1,168.9 759.3,170.5 759.5,170.9 759.7,171.3 759.8,173.1 759.9,175.1 760,172.7 760.1,172.6 760.4,173.2 760.8,173.2 761,173.3 761.1,173.3 761.4,173.7 761.5,173.5 761.7,174 761.9,174.8 762.1,174.3 762.4,173.8 762.7,172.3 762.8,172.1 763,173 763.2,173.7 763.4,173.3 763.7,172.7 764,172.3 764.1,171.9 764.1,484.2 143.2,484.2"/></clipPath>
<clipPath id="ub"><polygon points="143.2,624.8 143.6,624.9 143.9,625.2 144.2,625.1 144.5,625.1 144.9,625.3 145.2,625.7 145.5,625.9 145.8,626 146,626 146.2,626.1 146.5,625.9 146.8,626.2 147.1,626.2 147.5,626.5 147.8,626.5 148.1,626.7 148.4,626.9 148.8,627 149,627.3 149.1,627.2 149.4,627.1 149.7,627.3 150.1,627.5 150.4,627.9 150.7,628.2 151,628.2 151.4,628.7 151.7,628.9 152,628.9 152.3,628.8 152.6,628.8 152.7,627.9 152.8,626.6 153,626.5 153.3,626.8 153.6,627 154,627 154.3,626.9 154.6,626.3 154.9,625.6 155.3,624.7 155.6,624.3 155.9,622.3 156,621.8 156.2,619.8 156.6,622.4 156.8,624 156.9,623.9 157.2,623.5 157.5,623.1 157.7,622.9 157.9,623 158.2,623.7 158.5,624.2 158.8,624.8 159.2,625 159.5,625 159.8,624.8 160.1,624.9 160.4,625 160.5,625.3 160.8,625.1 161.1,624.7 161.4,624.6 161.8,624.2 162.1,624.4 162.4,624.4 162.8,624.3 163.1,624.1 163.4,623.8 163.7,623.4 164.1,622.8 164.4,622.2 164.7,621.9 165,621.4 165.4,620.6 165.6,620.3 165.7,619.9 166,618.8 166.3,618.2 166.5,617.5 166.7,617.9 167,618.4 167.3,619 167.6,619.8 168,619.5 168.3,619.5 168.6,619.6 168.9,620.1 169.3,620.1 169.6,620.1 169.9,620.2 170.2,621.3 170.6,621.7 170.7,621.9 170.9,622.2 171.2,622.2 171.5,622.3 171.9,622.7 172.2,623.1 172.4,623.2 172.5,622.8 172.8,622.3 173.2,621.5 173.5,621.1 173.8,619.9 174.1,619.1 174.5,618 174.6,617.9 174.8,616 175.1,612.6 175.2,611.4 175.4,611 175.8,611 176.1,610.5 176.2,610.6 176.4,608.1 176.7,603.9 177.1,604.7 177.4,605.9 177.5,606.3 177.7,605.4 178,604.5 178.4,603.2 178.6,602.8 178.7,600.7 179,596.3 179.2,592.1 179.3,590.1 179.5,588.4 179.7,594.7 179.8,598.1 180,595.9 180.1,595.1 180.3,595.2 180.6,596.9 180.9,597.8 181,598.3 181.3,598.5 181.6,598.9 181.8,598.7 181.9,599 182.3,600 182.6,600.3 182.9,600.5 183.3,600.7 183.4,600.6 183.6,600.9 183.9,601.2 184.2,601.2 184.6,601.6 184.9,601.4 185.2,602.1 185.5,604.3 185.9,607.4 186,607.8 186.2,607.3 186.5,605.9 186.7,604.6 186.8,604.8 187.2,605.4 187.5,606.3 187.8,607.4 188.1,607.9 188.5,608.2 188.6,608.6 188.8,609.1 189.1,610.4 189.4,612.2 189.5,612.6 189.8,613.2 190.1,614.3 190.4,613.7 190.7,613.3 190.8,613.1 191.1,613.7 191.4,614.4 191.7,614.7 191.8,615 192,615.1 192.4,616 192.7,616.9 192.8,617.6 193,618.4 193.3,620.6 193.7,622.3 193.9,623 194,622.7 194.3,621.7 194.6,621.5 195,620.6 195.2,620.7 195.3,620.8 195.6,621.1 195.9,621.3 196.2,621.7 196.3,622 196.6,623.6 196.9,624.8 197,625.3 197.2,625 197.6,624.1 197.9,623.6 198.2,622.8 198.4,622.6 198.5,622.8 198.9,623 199.2,623 199.5,622.4 199.8,622.6 200,622.7 200.2,622.4 200.5,621.6 200.8,621 201,620.8 201.1,620.9 201.5,620.5 201.7,619.8 201.8,619.4 202.1,618 202.4,616.3 202.6,616 202.8,615.7 203.1,616.4 203.3,616.7 203.4,616.8 203.7,617.7 204.1,618.3 204.4,618.9 204.7,618.8 205,618.6 205.2,618.9 205.4,619.3 205.7,619.1 206,619.6 206.1,619.8 206.3,620.6 206.7,621.9 206.9,622.9 207,622.7 207.3,622.7 207.6,622.2 208,622 208.3,622.2 208.6,622.1 208.9,621.9 209.3,622 209.6,622 209.8,622.1 209.9,622.1 210.2,622.7 210.6,623.3 210.9,623.3 211.2,623.2 211.5,623.7 211.6,623.6 211.9,623.9 212.2,624.1 212.5,624 212.8,623.9 213.2,624.2 213.5,624.2 213.8,624.2 214.1,624 214.5,624 214.8,624.6 214.9,624.8 215.1,624.5 215.4,624.1 215.8,624.5 216.1,625 216.4,625.3 216.7,625.6 217.1,625.9 217.4,625.6 217.7,625.8 218,625.5 218.2,625.6 218.4,625.8 218.7,625.3 219,625.4 219.3,624.7 219.6,624.2 219.8,624.4 220,624.6 220.3,624.4 220.6,624.2 220.9,624.1 221.3,623.9 221.5,624.7 221.6,624.5 221.9,623.7 222.2,623.4 222.6,623.2 222.9,623.9 223,624 223.2,623.2 223.5,623.1 223.9,623.1 224.2,622.9 224.5,622.4 224.8,622.4 225.2,621.9 225.5,621.7 225.8,620.8 226.1,620.2 226.5,619.1 226.8,625 227.1,624.2 227.4,622.4 227.8,622.8 228.1,623 228.2,623.2 228.4,623.1 228.7,622.9 229.1,622.2 229.4,622.4 229.7,622.1 230,622.2 230.4,623 230.7,622.9 231,622.5 231.3,622.2 231.4,622.2 231.7,622.1 232,622.4 232.3,622.2 232.6,622.8 233,623.4 233.3,624.2 233.6,624.6 233.9,625.2 234.3,625.5 234.6,624.6 234.8,625.1 234.9,624.7 235.2,624.8 235.6,625.1 235.9,625.3 236.2,625.6 236.3,625.5 236.5,625.1 236.8,625.1 237.2,625.1 237.5,624.7 237.8,625.1 238,624.8 238.1,624.7 238.5,624.5 238.8,624.4 239.1,624.7 239.4,624.7 239.6,624.6 239.8,625.1 240.1,625.5 240.4,625.5 240.7,625.5 241.1,625.8 241.3,625.4 241.4,626 241.7,625.9 242,625.5 242.4,626 242.7,625.8 242.9,625.4 243,625.5 243.3,624.7 243.7,623.8 244,623.5 244.3,622.5 244.6,622.7 244.8,621.9 245,621.8 245.3,620.9 245.6,620.1 245.9,619.6 246.3,619 246.6,618.2 246.9,617.8 247.2,617.8 247.6,616.7 247.8,616.4 247.9,615.6 248.2,613.6 248.3,612.9 248.6,613.1 248.9,613.6 249,613.5 249.2,611.7 249.5,609.8 249.9,608.4 250.2,606.7 250.5,604.4 250.7,603.5 250.8,602.8 251.2,601.3 251.5,597.7 251.6,596.3 251.8,592 252,587.8 252.1,593.5 252.3,604.2 252.5,604.5 252.8,608.7 253.1,602 253.2,599.1 253.4,598.3 253.8,597.3 254.1,599.7 254.4,600.8 254.7,603.8 255.1,602.4 255.4,602.9 255.7,601.5 255.9,601.8 256,601.5 256.4,602.6 256.7,601.1 257,601.3 257.3,601.1 257.7,600.6 257.8,600.5 258,600.8 258.3,602.9 258.6,604.1 258.7,604.2 259,603.9 259.3,604.9 259.6,604.4 259.8,604.4 259.9,604.5 260.3,605.4 260.6,606.3 260.9,608.3 261,608.2 261.2,610.3 261.5,612.4 261.6,611.4 261.9,609.5 262,608.6 262.2,608.2 262.5,608.9 262.9,609 263.1,608.4 263.2,608 263.5,608.2 263.8,607.3 264.2,607.4 264.4,606.9 264.5,607.4 264.8,607.6 265.1,606.7 265.5,606.9 265.8,606.3 265.9,606.6 266.1,606.5 266.4,605.4 266.8,604.2 267.1,604.3 267.4,604.1 267.8,603.6 268.1,603.2 268.4,603.6 268.7,604.5 269.1,604.9 269.3,605.3 269.4,604.4 269.7,605.3 270,606.3 270.4,607.4 270.7,607.2 271,605.6 271.1,608.9 271.3,608.5 271.7,607 271.8,606.7 272,605.8 272.3,605.5 272.5,604.8 272.6,604.3 273,603 273.3,601.9 273.6,600.5 273.9,599.4 274.3,599.2 274.4,599.5 274.6,598.2 274.9,595.2 275.2,591.7 275.3,590.1 275.6,588.5 275.7,587 275.9,582.7 276.2,575.2 276.5,578.7 276.9,574.7 277,572.4 277.2,568.7 277.4,564.4 277.5,566.4 277.6,568.7 277.8,565.7 277.9,564.2 278.2,572.5 278.3,576 278.5,571.9 278.6,569.1 278.8,570.6 279,571.4 279.1,573.5 279.5,583.1 279.8,580.8 279.9,579.4 280.1,576.8 280.3,575.3 280.4,575.6 280.8,575.5 280.9,575.6 281.1,574 281.4,570.8 281.5,570.3 281.7,570.8 282.1,571.7 282.4,573 282.5,573.4 282.7,573.3 283,574.2 283.4,574.3 283.6,575 283.7,574.6 284,574.4 284.3,574.7 284.7,576.4 285,578.3 285.3,579.7 285.6,580.5 285.8,580.9 286,581.5 286.3,583.9 286.4,584.4 286.6,584.5 286.9,585.4 287.3,582.9 287.6,581 287.9,581.6 288.3,582.1 288.4,582.8 288.6,583.3 288.9,584 289.2,584.1 289.4,584.7 289.6,585.4 289.9,585.9 290.2,587.2 290.5,588.8 290.7,589.6 290.9,590.3 291.2,592.5 291.5,593.9 291.7,595.6 291.8,594.2 292.2,590 292.3,588.5 292.5,588.7 292.8,589.5 293.1,590.3 293.3,591.6 293.5,591.5 293.8,592.2 294,591.9 294.1,591.6 294.4,592.4 294.8,592.5 295,593.2 295.1,593.3 295.4,592.5 295.7,592.1 296.1,591.6 296.4,589.3 296.7,588.6 296.8,588.1 297,586.9 297.4,585.8 297.6,585.4 297.7,585.8 298,586.8 298.3,587.8 298.7,588.5 298.9,588.6 299,588.8 299.3,588.8 299.6,589.6 300,590 300.3,588.4 300.6,587.5 300.9,587.4 301.3,588.3 301.6,588.6 301.9,588.6 302.1,588.8 302.2,588.5 302.6,588.7 302.9,589.4 303.2,589.4 303.5,590.5 303.9,590.6 304,590.5 304.2,590.4 304.5,590.3 304.8,591 305,591.1 305.2,591.9 305.5,594.4 305.8,596.8 306.1,596.1 306.5,595 306.6,595 306.8,596.3 307.1,596.4 307.3,596.7 307.5,596.7 307.8,596.8 308.1,597.1 308.3,597 308.4,597 308.8,598 309.1,599.3 309.4,601.3 309.7,602.2 310.1,602.4 310.4,603 310.6,602.5 310.7,603.3 311,606.4 311.4,604.6 311.7,604.1 312,602.9 312.1,602.7 312.3,603.5 312.7,604.4 313,605.3 313.2,605.6 313.3,605.5 313.6,606.7 314,607.4 314.3,606.7 314.5,606.1 314.6,606 314.9,604.6 315.3,602.7 315.6,604.2 315.9,605.7 316,606.5 316.2,606.2 316.6,606.4 316.9,606.5 317.2,605.6 317.5,605.1 317.9,605.8 318.2,606.9 318.5,607.2 318.7,608.2 318.8,608.5 319.2,610.3 319.5,610 319.8,610.2 320.1,610.6 320.5,610.4 320.8,612.4 321,614 321.1,615.2 321.4,617.1 321.8,619.9 322,622.1 322.1,621.5 322.4,620.3 322.6,619 322.7,618.1 323.1,617 323.3,614.9 323.4,615.5 323.7,617.6 323.9,618.5 324,618.2 324.4,618.9 324.7,618.9 325,618.8 325.3,618.7 325.5,618.5 325.7,618.8 326,618.4 326.3,618.6 326.7,618.5 327,617.2 327.3,617.4 327.6,617 328,616.3 328.2,615.3 328.3,615.5 328.6,617 328.9,617.9 329,618.1 329.3,618.3 329.6,618.7 329.9,619.2 330.2,619.5 330.3,619.8 330.6,619.7 330.9,620.7 331.2,621.6 331.5,621.1 331.9,622.3 332.2,621.9 332.5,622.1 332.8,621.8 333.2,621.3 333.5,622.4 333.6,622.2 333.8,622.1 334.1,622 334.5,621.1 334.8,622.1 335.1,622.4 335.4,622.1 335.8,622.1 336.1,622.2 336.4,622.8 336.7,624 337,624.2 337.1,624.7 337.4,625.1 337.7,624.7 338,624.5 338.4,624.1 338.5,624 338.7,624.2 339,623.8 339.3,623 339.7,623.2 340,622.3 340.2,623 340.3,622.6 340.6,622.1 341,621.3 341.3,620.6 341.4,619.9 341.6,620.4 341.9,621.1 342.3,622 342.6,622.2 342.8,622 342.9,621.9 343.2,622.7 343.6,622.8 343.9,622.7 344.2,622.9 344.5,623.5 344.9,624.2 345.1,624.7 345.2,625.3 345.5,627 345.8,628 346.1,629.3 346.2,629.3 346.5,628.4 346.8,628 346.9,628.1 347.2,628.3 347.5,628.5 347.8,628.5 348.1,628.6 348.5,628.5 348.8,629 349.1,629 349.4,629.3 349.8,629 350.1,629.1 350.2,628.8 350.4,629.2 350.7,628.6 351.1,629.2 351.4,628.9 351.7,628.1 352,627.9 352.4,627.3 352.7,626.6 352.8,626.4 353,625.4 353.3,625 353.6,624.1 353.7,622.8 353.9,619.6 354,620.5 354.3,622.9 354.6,625.5 355,625.3 355.3,625.7 355.6,625 355.9,624.8 356.3,623.9 356.6,623.6 356.8,623.4 356.9,623.1 357.2,622.4 357.6,621.8 357.9,621 358,620.1 358.2,619.5 358.3,618.8 358.5,619.4 358.9,620.1 359.2,620 359.4,619.8 359.5,619.6 359.8,620.8 360.1,621.2 360.2,621 360.5,620.4 360.8,620.2 361.1,622.7 361.5,624.6 361.7,625.3 361.8,624.9 362.1,624.6 362.4,624.4 362.8,624.1 363.1,624.7 363.4,624.9 363.5,625.6 363.7,626 364.1,625.5 364.4,625.6 364.7,625.1 365,624.6 365.4,624.2 365.7,624.9 366,624.5 366.3,623.9 366.7,623.8 367,624.3 367.3,624 367.6,624.1 368,624.8 368.2,625.3 368.3,625.5 368.6,625.6 368.9,625.9 369.3,625.5 369.6,625.4 369.9,626.1 370,626.1 370.2,626.3 370.6,626.6 370.9,626.4 371.2,626.3 371.5,626.2 371.9,626.3 372.2,625.5 372.5,625.4 372.8,625.7 373.1,626 373.3,625.8 373.5,625.4 373.8,625.1 374.1,626.2 374.4,626.3 374.8,626.2 375.1,625.4 375.4,624.6 375.7,624.4 376.1,623.7 376.2,623.8 376.4,623.2 376.7,623.5 377,622.2 377.4,620.8 377.7,618.7 378,617.8 378.2,616.3 378.3,617.5 378.7,619.8 378.9,622.1 379,622.4 379.3,621.2 379.6,621 379.9,619.9 380,619.8 380.3,619.8 380.6,620.2 380.9,620.6 381.3,621 381.4,620.8 381.6,620.9 381.9,621 382.2,622.4 382.6,622.9 382.9,623.5 383.2,623.7 383.3,625.8 383.5,625.6 383.9,625.7 384.2,625.4 384.5,625.9 384.7,625.7 384.8,625.1 385.2,624.9 385.5,625.5 385.8,626.5 386.1,626.1 386.5,625.9 386.6,626.4 386.8,626.2 387.1,625.9 387.4,625.8 387.8,626.1 388.1,625.7 388.4,625.5 388.7,625.4 389.1,626 389.4,625.4 389.7,625.5 389.8,626.2 390,626 390.3,626.1 390.7,626 391,625.6 391.3,625.9 391.6,625.5 392,625.2 392.3,624.8 392.6,624.7 392.9,623.7 393.2,623.7 393.3,624.1 393.6,623.9 393.9,624.1 394.1,624.6 394.2,624.4 394.6,624.8 394.9,624.3 395.2,624 395.5,624.3 395.9,623.6 396.2,624.1 396.4,624.3 396.5,624.4 396.8,624.7 397.2,624.5 397.5,624.6 397.8,624.4 397.9,624.2 398.1,623.5 398.5,622.4 398.8,621.8 399,621.5 399.1,621.6 399.4,620.4 399.7,620 399.8,619.1 400.1,616.4 400.4,620.4 400.7,623.9 400.8,625.5 401.1,624.9 401.4,624.6 401.7,623 401.8,622.7 402,622.1 402.4,622.5 402.7,621.6 403,621.1 403.1,621 403.3,621 403.7,621.8 404,621 404.3,621 404.6,621 405,619.8 405.3,618.8 405.6,617.6 405.9,617 406.3,616.5 406.4,615.8 406.6,617.5 406.9,618.6 407.1,619.7 407.2,619.9 407.6,618.4 407.8,617.1 407.9,618 408.2,620.5 408.5,623.3 408.7,624.4 408.9,623.9 409.2,623 409.5,621.4 409.8,620.4 410.2,620 410.5,619.3 410.8,620.1 411,619.9 411.1,619.6 411.5,618.4 411.8,617.7 412.1,617.3 412.5,616.6 412.8,616 413.1,614.4 413.4,612.4 413.8,611 414.1,609.4 414.4,609.1 414.7,607.6 414.8,607.3 415.1,605.6 415.4,603.2 415.6,607.6 415.7,606.7 416,603.7 416.1,603.5 416.4,602.5 416.7,600.5 417,598.5 417.2,598.1 417.3,599.4 417.7,603.6 418,602.1 418.2,600.9 418.3,600.9 418.6,600.6 419,602.2 419.3,603.7 419.4,604.5 419.6,604.7 419.9,605.3 420.3,606 420.4,606 420.6,608 420.9,610.3 421,611.5 421.2,606.2 421.5,600.7 421.6,601.1 421.9,601 422.2,600.9 422.5,601.7 422.8,602.7 422.9,601.9 423.2,598.8 423.5,596.5 423.8,594.4 424.2,592 424.3,591 424.5,591.2 424.8,591.2 425,591.9 425.1,590.9 425.5,590.1 425.8,588.9 426.1,586.7 426.4,588.4 426.8,590.7 426.9,591 427.1,593.8 427.4,598 427.5,599.9 427.7,596.2 428,593.1 428.1,592.8 428.4,594.1 428.7,594.6 429,593.2 429.4,591.4 429.7,590.4 430,590.6 430.3,589.2 430.7,585.7 430.9,584 431,583.4 431.3,584.3 431.7,583.9 432,584.1 432.3,581.8 432.6,579.6 432.7,579.2 433,578.2 433.3,577.5 433.5,576.2 433.6,578.2 433.9,583.8 434.3,578.7 434.5,575.5 434.6,574.7 434.9,572.7 435.2,572.2 435.3,571.5 435.6,569.1 435.9,565.3 436,564 436.2,558.8 436.5,550 436.6,547.8 436.9,550.5 437,552.7 437.2,550 437.5,543.9 437.6,543 437.8,545.2 437.9,546.8 438.2,552.5 438.3,556.4 438.5,553.9 438.7,551.5 438.8,553.5 439.1,560.1 439.2,556 439.5,554.1 439.8,550.9 439.9,548.9 440.1,552.9 440.4,558.4 440.8,562.2 441,564.5 441.1,564.2 441.4,560.5 441.7,562.3 442,565.6 442.1,567.3 442.4,570.7 442.7,573.3 443,580.5 443.1,582.6 443.4,579.6 443.7,575.6 444,573 444.2,570.6 444.3,570.7 444.7,567 444.8,566.8 445,569.6 445.3,572.5 445.6,570.3 446,567.6 446.2,566.4 446.3,569 446.6,574.2 446.9,575.9 447.3,578.6 447.6,577 447.9,576.2 448.2,579.6 448.6,582.2 448.9,585.5 449.2,586.5 449.5,586.9 449.7,586.8 449.9,585.1 450.2,582.7 450.3,581.3 450.5,581.4 450.8,580.1 451.2,578.3 451.5,576.1 451.6,575 451.8,575.8 452.2,576.9 452.3,576.7 452.5,576 452.8,574.8 453.1,576.6 453.5,579.7 453.6,580.4 453.8,579.9 454.1,580.2 454.4,580.6 454.8,582.2 455.1,585.6 455.3,586.9 455.4,586.5 455.7,585.7 456.1,585 456.2,584.9 456.4,586.4 456.7,589.8 457,591.7 457.4,589.5 457.7,589.1 457.8,589.8 458,590.6 458.3,592.8 458.7,594.5 459,594.2 459.3,591.8 459.4,591.2 459.6,591.5 460,594 460.2,593.3 460.3,591.8 460.6,589 460.7,588.2 460.9,586.6 461.3,584.3 461.5,584 461.6,584.4 461.9,585 462.2,587 462.6,590.5 462.9,592.7 463.2,594.4 463.3,595.2 463.5,595 463.9,594 464.2,595.2 464.4,594.8 464.5,594.8 464.8,592 465.2,591.5 465.3,591.3 465.5,590.5 465.8,590.4 466,590.4 466.1,591.7 466.5,596.2 466.8,596.6 467.1,596.3 467.4,596.3 467.8,595.2 468.1,596 468.4,596 468.7,595.9 469,595.2 469.1,596.1 469.4,596.7 469.7,598.3 470,597.5 470.4,595.4 470.5,595.9 470.7,596.7 471,596.6 471.4,597.8 471.7,598.5 472,599.3 472.3,597.8 472.7,598.2 473,597.3 473.3,599.6 473.6,601.8 473.7,602 474,604.6 474.3,608.9 474.4,610.1 474.6,612.7 474.9,615.1 475.3,612.7 475.4,611.8 475.6,613.6 475.9,617.1 476.2,619 476.6,619.7 476.9,620.5 477.1,620.9 477.2,619.8 477.5,615.6 477.6,614.1 477.9,614 478.1,614.5 478.2,616 478.4,618.2 478.5,617.6 478.8,617.3 479.2,615.6 479.5,615.2 479.8,616.3 480.1,617.7 480.5,619.1 480.8,619.1 481.1,619.4 481.4,619.4 481.8,620.7 481.9,620.9 482.1,620.9 482.4,620.8 482.7,621 483,621.8 483.1,621.3 483.3,619.9 483.4,619.6 483.7,619.8 484,619.5 484.4,619.1 484.7,617 484.9,619.4 485,619.5 485.3,619.6 485.7,620 486,620.5 486.3,620 486.6,620.4 486.9,619.4 487,619.4 487.3,618.7 487.6,619.1 487.9,618.5 488.3,618.1 488.6,618 488.7,618.4 488.8,613.2 488.9,613.3 489.2,612.6 489.6,611.2 489.7,611.1 489.9,610.4 490.2,610.9 490.6,610 490.9,608.9 491.1,610.2 491.2,610.2 491.5,611.2 491.9,612 492.2,610.8 492.5,609.3 492.7,608.7 492.8,607.2 493.2,602 493.3,599.9 493.5,601.1 493.7,602.4 493.8,602.1 494.1,603 494.5,601.3 494.8,600.4 495.1,598.6 495.4,599.6 495.8,601 496.1,599.4 496.4,599.1 496.7,598.3 496.8,597.3 497.1,595 497.4,591.8 497.6,590.8 497.7,589.6 498,583.9 498.3,587.2 498.4,588.4 498.7,590.9 499,589.2 499.3,588.5 499.6,587.2 499.7,588.4 500,591.2 500.3,595.4 500.6,595.8 500.9,593.5 501,594.4 501.3,596.4 501.5,596.6 501.6,594.9 501.9,592.2 502.3,590.5 502.5,589.3 502.6,589.7 502.9,591.6 503.2,593.9 503.5,595.7 503.6,595.8 503.9,594.3 504,593.3 504.2,594.4 504.5,595.6 504.9,598 505,598.1 505.2,596.8 505.5,595.8 505.7,594.6 505.8,594.7 506.2,594 506.5,594.5 506.8,595.8 507.1,597.2 507.4,596.6 507.5,597.8 507.8,602.1 508,604.9 508.1,604.8 508.4,605.3 508.8,605.2 509.1,603.8 509.4,604.1 509.5,603.7 509.7,604.7 510.1,606.3 510.4,607.4 510.7,607.6 510.9,608.8 511.1,606.6 511.3,601.7 511.4,601.4 511.7,600.2 512,600.9 512.4,601.9 512.7,603.4 513,604.6 513.3,605.8 513.4,605.6 513.7,606.8 514,608.9 514.3,609.8 514.5,611.9 514.6,612.1 515,612.2 515.3,612.1 515.6,611.2 515.9,611.1 516.3,611.7 516.6,613.1 516.9,615.3 517.2,614.3 517.6,613 517.8,612.8 517.9,613.5 518.2,613 518.4,613.3 518.5,612.7 518.9,610.7 519.2,610.3 519.3,609.9 519.5,609.4 519.8,608.2 520.2,606.7 520.4,606.9 520.5,608.3 520.8,608.3 521.1,609.4 521.5,607.9 521.8,607.4 522.1,605.9 522.3,605.1 522.4,604.9 522.8,604.5 523.1,602.3 523.2,603 523.4,604 523.7,604.5 523.9,605.8 524.1,607.1 524.4,607.7 524.7,609.5 524.8,609.6 525,608.9 525.4,609.3 525.7,608.4 525.9,613.3 526,618 526.2,628.6 526.3,627.8 526.4,627.3 526.6,628.4 527,623.6 527.1,621.9 527.3,620.5 527.6,619.6 527.9,620.4 528.3,620.4 528.4,620.4 528.6,620.8 528.9,619.7 529.2,620.3 529.4,619.3 529.6,620.1 529.9,620.4 530.2,620.9 530.4,620 530.5,619.2 530.9,617.8 531.2,615.9 531.5,612.6 531.8,610.4 532.2,608.8 532.3,608 532.5,611.4 532.6,612.7 532.8,611.9 533.1,610.7 533.5,610.9 533.7,610.3 533.8,609.8 534.1,610.2 534.4,610.1 534.8,608.6 535,608.3 535.1,608.7 535.4,610.4 535.7,610.8 536.1,610.1 536.4,612.1 536.5,611.8 536.7,611.2 537,613.4 537.4,614.3 537.7,614.1 537.9,613.5 538,613.9 538.3,612.9 538.7,614.2 539,612.8 539.3,613.3 539.6,614.4 539.7,613.9 540,613.3 540.3,613.7 540.5,613.1 540.6,612.5 540.9,608.5 541,608.2 541.3,609.2 541.6,607.7 541.7,608.1 541.9,607.2 542.2,607.4 542.6,605.7 542.9,606.2 543.2,605.7 543.3,605.1 543.5,605.8 543.8,606.7 544.2,608.4 544.5,607.2 544.8,606.6 544.9,606.8 545.1,610.2 545.4,612.7 545.5,612.3 545.8,611.4 546.1,609.5 546.4,609.1 546.8,610.3 547,611 547.1,611.4 547.4,610.4 547.7,611.1 548.1,612.2 548.2,612.5 548.4,612.4 548.7,612.3 549,611.2 549.1,610.6 549.4,609.9 549.7,608.3 550,607.7 550.3,606.6 550.7,605.5 551,605.3 551.3,603.7 551.4,604.3 551.6,602.8 552,599.9 552.3,599.7 552.6,599.5 552.9,599.8 553,599.4 553.3,598.6 553.6,595.7 553.9,593.9 554,592.9 554.2,597.3 554.6,594.5 554.8,593.9 554.9,595.2 555.2,594.8 555.5,596.1 555.9,595.9 556.2,591.6 556.4,589.6 556.5,588.8 556.8,585.8 557.2,582.8 557.5,581.3 557.8,578.8 558,577.6 558.1,575.6 558.3,572.2 558.5,570.8 558.8,565.3 558.9,563.3 559.1,567.2 559.2,569.4 559.4,566.5 559.5,565.2 559.8,569.4 560.1,574.5 560.3,576 560.4,576.6 560.7,576.4 560.9,576.8 561.1,575.4 561.4,574.3 561.5,572.8 561.7,568.6 562,563.7 562.2,558.9 562.4,558.7 562.7,557.5 563,557.4 563.3,554.1 563.7,549.3 563.9,556.9 564,557.5 564.3,558.6 564.4,560.8 564.6,557.7 565,557.4 565.3,554.5 565.6,550.1 565.8,547.2 565.9,547.7 566.3,548.8 566.4,550.3 566.6,552.1 566.9,555.2 567.1,555.7 567.2,554.8 567.6,551.7 567.9,549.8 568.2,548.1 568.5,549.4 568.9,547.5 569.2,546.9 569.5,550.9 569.7,552.9 569.8,554.7 570.2,556.9 570.5,559.6 570.8,559.6 571.1,554.1 571.4,552.8 571.5,552.8 571.8,552.2 571.9,551.7 572.1,555.7 572.3,560 572.4,561 572.7,562.7 572.8,565.4 573.1,573.4 573.3,573.2 573.4,573.8 573.5,576.4 573.7,572.9 573.9,571.1 574.1,574.8 574.2,576.8 574.4,573.7 574.7,571.6 575,575 575.3,578.8 575.4,578.1 575.7,572.7 575.9,570.6 576,572.1 576.4,576.2 576.7,578.2 576.8,580.6 577,581 577.1,582 577.3,579.3 577.5,576.6 577.7,576.8 578,577.4 578.1,577.6 578.3,577.3 578.6,579.8 579,580.8 579.3,583.4 579.6,584.7 579.8,585.6 579.9,584.6 580.3,579.5 580.4,578.4 580.6,574.9 580.9,570.9 581.2,572.6 581.4,573.8 581.6,573.1 581.9,570.1 582.1,567.9 582.2,567.4 582.5,566.4 582.6,566.7 582.9,566.7 583.2,564.8 583.4,564.8 583.5,566.3 583.8,567.3 584.2,565.7 584.5,565.8 584.8,563 585,562.5 585.1,568 585.5,568.1 585.8,570 586.1,567.5 586.3,567.1 586.4,569.4 586.7,574.9 586.8,575.7 587.1,575.1 587.4,574.9 587.7,567.8 588.1,563.9 588.3,561.5 588.4,561.6 588.7,559.5 589,557.9 589.3,556.8 589.4,557.3 589.7,554.2 589.8,553.7 590,555.5 590.3,558.5 590.6,559.8 590.7,559.6 591,558.8 591.1,558.1 591.3,556.1 591.6,554.2 591.9,553.5 592,554 592.3,556.2 592.6,559.6 592.9,562.2 593.3,563.2 593.4,562.8 593.6,564 593.8,565.3 593.9,564.6 594.1,561.9 594.2,562.7 594.6,565.7 594.7,569.7 594.9,569.5 595.2,571 595.3,571.9 595.6,571.7 595.7,572.5 595.9,571.6 596.1,573.2 596.2,574 596.5,571.2 596.7,569.1 596.9,569.1 597.2,569.4 597.5,573.3 597.6,573.7 597.8,575.5 598.2,576.6 598.4,579 598.5,578.5 598.8,579.9 599.1,577.7 599.2,577.7 599.5,580.9 599.8,585 600,587.2 600.1,586.8 600.4,584.5 600.6,584.1 600.8,583.5 601.1,582.7 601.4,580.3 601.7,579.1 602,577.6 602.1,578.7 602.4,579.9 602.7,581.9 602.8,582 603,583.9 603.4,585.5 603.5,585.9 603.7,582.1 604,579.6 604.1,578.5 604.3,580.6 604.7,584.8 604.8,585.7 605,586.2 605.3,586.4 605.4,586.2 605.6,586.4 606,584.4 606.3,582.4 606.4,581.4 606.6,581.2 606.9,577.7 607,576.9 607.3,578.5 607.6,579.3 607.9,578.9 608.2,583.2 608.6,585.5 608.9,584.8 609.2,584.2 609.5,583.9 609.9,584.5 610.2,587.8 610.5,588.8 610.7,587.6 610.8,586.8 611.1,586.4 611.2,588.1 611.5,596.8 611.6,598.4 611.8,599.4 611.9,600.4 612.1,598.6 612.3,597.3 612.5,597.4 612.8,598.7 613.1,599.7 613.4,600.6 613.8,598.6 613.9,597.4 614.1,597.9 614.4,597.6 614.6,598.1 614.7,599.7 615.1,601.6 615.4,612.3 615.7,616.3 615.9,619.3 616.1,618.4 616.3,616.1 616.4,615.8 616.7,616 616.8,615.7 617,616.2 617.4,619.3 617.7,617.5 618,615.1 618.3,616.7 618.7,618.1 619,614.4 619.3,612.6 619.4,612.6 619.6,614.5 620,616.4 620.1,616.7 620.3,612.8 620.4,612.2 620.6,614 620.9,614.8 621.1,613.4 621.3,613 621.6,612.6 621.9,611.6 622,611.8 622.2,613.6 622.6,617.1 622.7,618.4 622.9,618.7 623.2,617.7 623.5,620.3 623.6,621.4 623.9,621.4 624.2,623.5 624.5,623.1 624.6,623.4 624.8,622.3 625.2,618.9 625.3,616.7 625.5,620.4 625.6,622 625.8,623.6 626.1,623.7 626.2,624.7 626.5,624.8 626.8,623.5 626.9,623.8 627.1,623.9 627.3,623.5 627.4,623.4 627.8,623.7 628.1,623.7 628.4,623.6 628.6,623.9 628.7,624 629.1,623.2 629.4,624.9 629.7,624 629.9,623 630,623.1 630.4,621.8 630.7,622 631,621.4 631.1,621.2 631.3,625.6 631.5,626.9 631.6,632.1 631.7,629 632,630.4 632.1,631.4 632.3,631.2 632.6,632.1 632.9,632.1 633,632.1 633.3,632.1 633.6,632.1 633.8,630.9 633.9,631.6 634.3,631.4 634.4,631.5 634.6,629 634.9,630.5 635.3,630 635.4,630.1 635.6,631.3 635.9,632.1 636.2,632.1 636.6,632.1 636.9,632.1 637.2,632.1 637.5,632.1 637.9,632.1 638.1,632.1 638.2,631.7 638.5,629.1 638.7,625 638.8,624.4 639.2,623.8 639.4,622.1 639.5,623.3 639.8,621.9 640.1,621.6 640.3,620.7 640.5,620.6 640.7,620.9 640.8,621.6 641.1,623.8 641.4,624.2 641.5,624.7 641.8,623.2 642.1,621.4 642.2,620.6 642.4,620.8 642.7,619.9 643.1,622 643.2,622.9 643.4,622.4 643.7,622.4 644,624.4 644.4,626.4 644.5,626.1 644.7,629.1 645,621.9 645.3,618.3 645.4,617 645.7,617 646,617.3 646.3,619.1 646.5,617.9 646.6,617.3 647,616.1 647.3,617.1 647.5,616.6 647.6,616.8 647.9,616.2 648.3,614.7 648.4,613.8 648.6,614.6 648.9,615.1 649,616.4 649.2,615.7 649.6,616.7 649.7,617.4 649.9,615.8 650.2,616.2 650.5,617 650.9,617.2 651,617.7 651.2,618.5 651.4,620.1 651.5,619.8 651.8,622.3 652.2,622.1 652.5,621.1 652.8,621.8 653.1,619.5 653.3,619.3 653.5,619.5 653.7,621.4 653.8,621 654.1,623.2 654.5,623.4 654.8,623.3 655.1,624.7 655.4,623.1 655.8,620 656.1,616.6 656.4,616.7 656.7,616.3 657.1,616.6 657.2,616.5 657.4,617.1 657.7,616.2 658,617.5 658.2,616.5 658.4,617 658.7,617 659,618.2 659.3,620.7 659.4,620.2 659.7,620 660,620 660.2,620.5 660.3,619.9 660.6,620.5 661,619.7 661.1,620.1 661.3,622 661.6,621.6 661.9,622 662,625.2 662.3,624.9 662.6,624.8 662.9,625.6 663.2,626.5 663.3,624.1 663.6,626.2 663.7,627.2 663.9,628.2 664.2,627.5 664.5,629.1 664.8,628.6 664.9,628.3 665.2,628.4 665.5,626.5 665.8,629.5 666.2,628.5 666.5,626.2 666.6,626.5 666.8,625.8 666.9,625.1 667.1,625.9 667.5,624.9 667.8,626.7 668,627.4 668.1,627.4 668.4,627 668.8,624.6 669,623.5 669.1,622 669.4,618 669.7,616.7 670.1,616.2 670.3,616.5 670.4,617 670.7,616.9 671,615.3 671.2,615.3 671.4,616.2 671.7,616.9 672,617.2 672.3,616.8 672.7,614.3 672.8,614.8 673,615 673.3,615.4 673.4,615.1 673.6,612 674,608.3 674.3,609.8 674.6,611.6 675,610.7 675.3,611.3 675.6,609.4 675.9,610.9 676.3,609.1 676.6,610.5 676.8,611.4 676.9,610.8 677,608.7 677.2,608.4 677.6,607.7 677.9,607.4 678.1,611.4 678.2,612 678.5,615.2 678.9,615.3 679.2,615.4 679.5,613.4 679.8,611.7 679.9,611.6 680.1,610.6 680.5,611 680.8,610.7 681,610 681.1,609.4 681.4,606.5 681.7,604.1 681.8,604.8 682.1,604.8 682.4,606 682.5,604.9 682.7,600.3 683.1,596.4 683.2,595.9 683.4,593.6 683.7,591.8 683.8,595.2 684,593.4 684.4,591.1 684.7,588.9 685,594.5 685.3,597.3 685.7,595.9 686,593.8 686.2,592 686.3,592.6 686.6,594.3 686.9,595.2 687,594.7 687.3,592.7 687.5,591.1 687.6,592.4 687.9,594.4 688.3,595.8 688.5,599 688.6,598.6 688.9,596.5 689,595.1 689.2,597.9 689.6,600.3 689.9,601.6 690,602.1 690.2,599.8 690.5,598.4 690.9,600.9 691.2,601.4 691.4,600.1 691.5,598.4 691.8,595.4 692,593.1 692.2,593.6 692.5,593.9 692.8,594.9 693.1,595.8 693.5,594.2 693.8,594.1 694.1,596.3 694.4,597 694.8,597.1 695.1,599.3 695.2,598.9 695.4,601 695.7,602.5 695.8,602.9 696.1,602.6 696.4,602 696.6,601.3 696.7,602.2 697,606.4 697.3,607.3 697.7,605.7 697.8,605.7 698,603.2 698.2,600.3 698.3,598.9 698.6,597.2 698.8,598.2 699,599.3 699.2,600.2 699.3,599.6 699.6,599.6 699.9,603.1 700.1,603.9 700.3,608.6 700.4,610.1 700.6,605.5 700.7,603.9 700.9,604.1 701.2,606.2 701.5,607.6 701.6,607.2 701.9,605.8 702.2,603.3 702.4,602.7 702.5,605 702.9,606 703,606.7 703.2,608.7 703.5,610.8 703.8,611.7 704.2,608.7 704.5,607.4 704.6,606.4 704.8,605.5 705.1,605.7 705.5,604.6 705.8,606.3 706.1,603.1 706.4,604.2 706.8,607.2 707.1,607.6 707.4,607.5 707.5,607.9 707.7,605.3 708.1,603 708.4,602.7 708.7,603 709,602.2 709.4,600 709.6,599.7 709.7,601.1 710,601.8 710.2,603.4 710.3,600.1 710.4,598.1 710.7,597 710.9,595.1 711,593 711.1,590.7 711.3,590.1 711.6,589.9 712,586.7 712.2,585.1 712.3,587 712.6,589.2 712.9,587.5 713.3,589 713.6,586.8 713.9,587.7 714,586.8 714.2,585.8 714.5,582.6 714.9,582.6 715.2,587.1 715.5,586.1 715.8,588.4 716.2,590.2 716.3,590.3 716.5,589.5 716.6,588.1 716.8,585.6 717,585.6 717.1,586.2 717.4,590.8 717.5,590.7 717.8,589.9 718.1,586 718.2,584.9 718.4,583.6 718.7,584.2 718.8,584.6 719.1,585.8 719.3,586.6 719.4,585.7 719.6,585.4 719.8,585.3 720.1,587.3 720.4,589.1 720.7,590.1 721.1,589.6 721.3,589.8 721.4,588.6 721.7,589.9 722,590.8 722.4,593.6 722.6,597.8 722.7,597.5 722.8,597.8 723,592.3 723.2,596.3 723.3,596.5 723.7,599.6 723.9,601.9 724,601.1 724.3,600.2 724.6,598.8 725,597.2 725.3,596.6 725.4,597.1 725.6,598 725.9,598.4 726.1,600.4 726.3,600.3 726.4,600.5 726.6,602 726.9,604.4 727,604.7 727.2,601.8 727.3,600.3 727.6,599.8 727.9,599.2 728,599.7 728.2,597.6 728.5,595.1 728.9,596.7 729.2,596.3 729.4,595 729.5,595.1 729.8,593.3 730.2,590.9 730.3,590.6 730.5,590.2 730.8,591.6 731,590.7 731.1,589 731.5,589.7 731.8,587.1 732.1,588.5 732.4,591.4 732.7,591.2 732.8,591.4 733.1,592.3 733.3,592.8 733.4,592.1 733.7,588.6 734.1,589.1 734.4,589.9 734.6,591.7 734.7,592.1 735,592.9 735.2,593.9 735.4,592.5 735.5,590.8 735.7,590.2 736,591.5 736.1,591.8 736.3,590.2 736.7,589.7 737,589.5 737.3,587.2 737.5,585.8 737.6,586.8 738,587 738.2,587.2 738.3,587.4 738.6,588.3 738.9,588.8 739.3,587.2 739.4,588.4 739.6,590 739.9,588.2 740.3,588.3 740.6,586.1 740.8,585.6 740.9,586.5 741.2,589.2 741.4,590.6 741.6,589.5 741.9,590.2 742.1,592.2 742.2,593.3 742.5,593.2 742.9,593.5 743.2,591.2 743.3,592.5 743.5,591.4 743.8,590.1 744,590.2 744.2,590.2 744.5,590.7 744.7,590 744.8,589.9 745.1,592.3 745.5,594.2 745.8,593 746.1,589.9 746.4,587.9 746.7,587.5 746.8,589.1 747.1,592.9 747.4,592.1 747.7,595.2 747.8,596.4 748.1,595.3 748.3,595.6 748.4,595.4 748.7,594.3 748.9,593.2 749,594 749.3,596.1 749.4,597.1 749.7,599.2 749.8,599.7 750,598.4 750.3,598.2 750.4,597.8 750.7,600.8 750.9,604 751,605.7 751.3,608.5 751.6,609.7 752,610.2 752.3,606.8 752.4,606.6 752.6,608.3 752.7,609.3 752.9,605.3 753.3,605.4 753.6,606.1 753.9,608 754.2,609.9 754.6,610.6 754.9,611.5 755.2,611.6 755.4,609.9 755.5,610.5 755.9,610.6 756,610 756.2,609.2 756.5,606.7 756.8,607.8 757.2,605.5 757.5,605.4 757.8,606.9 758.1,610.4 758.5,610.3 758.7,611.8 758.8,611.8 759.1,613.1 759.3,616.9 759.5,618.1 759.7,618.9 759.8,623.2 759.9,628 760,622.5 760.1,622.2 760.4,623.9 760.8,623.9 761,624.2 761.1,624.2 761.4,625.3 761.5,625 761.7,626.3 761.9,628.1 762.1,627 762.4,626.1 762.7,622.6 762.8,622.3 763,624.5 763.2,626.2 763.4,625.2 763.7,624.1 764,623.2 764.1,622.2 764.1,632.1 143.2,632.1"/></clipPath>
<linearGradient id="go" x1="0" y1="0" x2="0" y2="1"><stop offset="0.0000" stop-color="#fe8802"/><stop offset="0.0833" stop-color="#fe8f12"/><stop offset="0.1667" stop-color="#fe9721"/><stop offset="0.2500" stop-color="#fe9e32"/><stop offset="0.3333" stop-color="#fea642"/><stop offset="0.4167" stop-color="#fead52"/><stop offset="0.5000" stop-color="#feb564"/><stop offset="0.5833" stop-color="#fdbe75"/><stop offset="0.6667" stop-color="#fdc687"/><stop offset="0.7500" stop-color="#fdcf9a"/><stop offset="0.8333" stop-color="#fdd8ad"/><stop offset="0.9167" stop-color="#fde2c3"/><stop offset="1.0000" stop-color="#fdeedd"/></linearGradient><linearGradient id="gb" x1="0" y1="0" x2="0" y2="1"><stop offset="0.0000" stop-color="#d2eef5"/><stop offset="0.0833" stop-color="#bee4f0"/><stop offset="0.1667" stop-color="#aadbeb"/><stop offset="0.2500" stop-color="#97d2e6"/><stop offset="0.3333" stop-color="#85cae1"/><stop offset="0.4167" stop-color="#73c2dd"/><stop offset="0.5000" stop-color="#63bad8"/><stop offset="0.5833" stop-color="#53b2d4"/><stop offset="0.6667" stop-color="#45acd1"/><stop offset="0.7500" stop-color="#37a5cd"/><stop offset="0.8333" stop-color="#2ba0ca"/><stop offset="0.9167" stop-color="#219bc8"/><stop offset="1.0000" stop-color="#1b98c6"/></linearGradient>
</defs>
<g clip-path="url(#cm)">
<defs>
<path id="b0" d="M143.8,473.9 145.3,470.9 148.3,465 152.4,457.4 157.4,448.8 163.2,439.4 169.8,429.6 177.1,419.6 185,409.5 193.6,399.5 202.7,389.7 212.4,380 222.7,370.5 233.4,361.3 244.7,352.3 256.5,343.6 268.8,335.1 281.5,326.9 294.7,318.9 308.3,311.2 322.4,303.6 336.9,296.3 351.8,289.3 367.1,282.4 382.9,275.7 399,269.2 415.5,262.9 432.4,256.7 449.7,250.7 467.4,244.9 485.4,239.2 503.9,233.6 522.6,228.2 541.7,223 561.2,217.8 581,212.8 601.2,207.8 621.7,203 642.5,198.3 663.7,193.7 685.2,189.2 707,184.8 729.1,180.5 751.6,176.2 774.3,172.1 797.4,168 820.8,164 844.5,160.1 868.5,156.3 892.8,152.5 917.4,148.8 942.3,145.1 967.5,141.5 993,138 1018.8,134.6 1044.9,131.1 1071.2,127.8 1097.9,124.5 1124.8,121.2 1152,118.1 L1152,97 1124.8,99.7 1097.9,102.4 1071.2,105.2 1044.9,107.9 1018.8,110.8 993,113.6 967.5,116.5 942.3,119.4 917.4,122.4 892.8,125.4 868.5,128.4 844.5,131.5 820.8,134.6 797.4,137.7 774.3,140.9 751.6,144.1 729.1,147.3 707,150.6 685.2,154 663.7,157.4 642.5,160.8 621.7,164.2 601.2,167.7 581,171.3 561.2,174.8 541.7,178.5 522.6,182.1 503.9,185.8 485.4,189.6 467.4,193.4 449.7,197.2 432.4,201 415.5,204.9 399,208.9 382.9,212.8 367.1,216.8 351.8,220.8 336.9,224.8 322.4,228.9 308.3,232.9 294.7,237 281.5,241.1 268.8,245.1 256.5,249.1 244.7,253.1 233.4,257.1 222.7,261 212.4,264.8 202.7,268.5 193.6,272.2 185,275.6 177.1,279 169.8,282.1 163.2,285 157.4,287.6 152.4,289.9 148.3,291.8 145.3,293.3 143.8,294Z"/>
<path id="b1" d="M143.8,466 145.3,463.2 148.3,457.7 152.4,450.5 157.4,442.3 163.2,433.4 169.8,424 177.1,414.4 185,404.8 193.6,395.1 202.7,385.6 212.4,376.2 222.7,367 233.4,358.1 244.7,349.3 256.5,340.8 268.8,332.5 281.5,324.4 294.7,316.6 308.3,309 322.4,301.6 336.9,294.4 351.8,287.4 367.1,280.7 382.9,274.1 399,267.6 415.5,261.4 432.4,255.3 449.7,249.4 467.4,243.6 485.4,238 503.9,232.5 522.6,227.1 541.7,221.9 561.2,216.8 581,211.8 601.2,206.9 621.7,202.1 642.5,197.5 663.7,192.9 685.2,188.4 707,184 729.1,179.7 751.6,175.5 774.3,171.4 797.4,167.3 820.8,163.4 844.5,159.5 868.5,155.6 892.8,151.9 917.4,148.2 942.3,144.6 967.5,141 993,137.5 1018.8,134 1044.9,130.6 1071.2,127.3 1097.9,124 1124.8,120.8 1152,117.6 L1152,97 1124.8,99.7 1097.9,102.4 1071.2,105.2 1044.9,107.9 1018.8,110.8 993,113.6 967.5,116.5 942.3,119.4 917.4,122.4 892.8,125.4 868.5,128.4 844.5,131.5 820.8,134.6 797.4,137.7 774.3,140.9 751.6,144.1 729.1,147.3 707,150.6 685.2,154 663.7,157.4 642.5,160.8 621.7,164.2 601.2,167.7 581,171.3 561.2,174.8 541.7,178.5 522.6,182.1 503.9,185.8 485.4,189.6 467.4,193.4 449.7,197.2 432.4,201 415.5,204.9 399,208.9 382.9,212.8 367.1,216.8 351.8,220.8 336.9,224.8 322.4,228.9 308.3,232.9 294.7,237 281.5,241.1 268.8,245.1 256.5,249.1 244.7,253.1 233.4,257.1 222.7,261 212.4,264.8 202.7,268.5 193.6,272.2 185,275.6 177.1,279 169.8,282.1 163.2,285 157.4,287.6 152.4,289.9 148.3,291.8 145.3,293.3 143.8,294Z"/>
<path id="b2" d="M143.8,458.6 145.3,456 148.3,450.8 152.4,444 157.4,436.2 163.2,427.7 169.8,418.7 177.1,409.5 185,400.2 193.6,390.9 202.7,381.7 212.4,372.6 222.7,363.7 233.4,354.9 244.7,346.4 256.5,338 268.8,329.9 281.5,322 294.7,314.3 308.3,306.9 322.4,299.6 336.9,292.5 351.8,285.7 367.1,279 382.9,272.5 399,266.1 415.5,259.9 432.4,253.9 449.7,248.1 467.4,242.3 485.4,236.8 503.9,231.3 522.6,226 541.7,220.8 561.2,215.8 581,210.8 601.2,206 621.7,201.2 642.5,196.6 663.7,192 685.2,187.6 707,183.2 729.1,179 751.6,174.8 774.3,170.7 797.4,166.7 820.8,162.7 844.5,158.8 868.5,155 892.8,151.3 917.4,147.6 942.3,144 967.5,140.4 993,136.9 1018.8,133.5 1044.9,130.1 1071.2,126.8 1097.9,123.5 1124.8,120.3 1152,117.1 L1152,97 1124.8,99.7 1097.9,102.4 1071.2,105.2 1044.9,107.9 1018.8,110.8 993,113.6 967.5,116.5 942.3,119.4 917.4,122.4 892.8,125.4 868.5,128.4 844.5,131.5 820.8,134.6 797.4,137.7 774.3,140.9 751.6,144.1 729.1,147.3 707,150.6 685.2,154 663.7,157.4 642.5,160.8 621.7,164.2 601.2,167.7 581,171.3 561.2,174.8 541.7,178.5 522.6,182.1 503.9,185.8 485.4,189.6 467.4,193.4 449.7,197.2 432.4,201 415.5,204.9 399,208.9 382.9,212.8 367.1,216.8 351.8,220.8 336.9,224.8 322.4,228.9 308.3,232.9 294.7,237 281.5,241.1 268.8,245.1 256.5,249.1 244.7,253.1 233.4,257.1 222.7,261 212.4,264.8 202.7,268.5 193.6,272.2 185,275.6 177.1,279 169.8,282.1 163.2,285 157.4,287.6 152.4,289.9 148.3,291.8 145.3,293.3 143.8,294Z"/>
<path id="b3" d="M143.8,451.7 145.3,449.2 148.3,444.2 152.4,437.8 157.4,430.3 163.2,422.2 169.8,413.6 177.1,404.8 185,395.8 193.6,386.8 202.7,377.9 212.4,369.1 222.7,360.4 233.4,351.8 244.7,343.5 256.5,335.4 268.8,327.4 281.5,319.7 294.7,312.1 308.3,304.8 322.4,297.6 336.9,290.7 351.8,283.9 367.1,277.3 382.9,270.9 399,264.6 415.5,258.5 432.4,252.6 449.7,246.8 467.4,241.1 485.4,235.6 503.9,230.2 522.6,224.9 541.7,219.8 561.2,214.8 581,209.8 601.2,205 621.7,200.3 642.5,195.7 663.7,191.2 685.2,186.8 707,182.5 729.1,178.2 751.6,174.1 774.3,170 797.4,166 820.8,162 844.5,158.2 868.5,154.4 892.8,150.7 917.4,147 942.3,143.4 967.5,139.9 993,136.4 1018.8,133 1044.9,129.6 1071.2,126.3 1097.9,123.1 1124.8,119.8 1152,116.7 L1152,97 1124.8,99.7 1097.9,102.4 1071.2,105.2 1044.9,107.9 1018.8,110.8 993,113.6 967.5,116.5 942.3,119.4 917.4,122.4 892.8,125.4 868.5,128.4 844.5,131.5 820.8,134.6 797.4,137.7 774.3,140.9 751.6,144.1 729.1,147.3 707,150.6 685.2,154 663.7,157.4 642.5,160.8 621.7,164.2 601.2,167.7 581,171.3 561.2,174.8 541.7,178.5 522.6,182.1 503.9,185.8 485.4,189.6 467.4,193.4 449.7,197.2 432.4,201 415.5,204.9 399,208.9 382.9,212.8 367.1,216.8 351.8,220.8 336.9,224.8 322.4,228.9 308.3,232.9 294.7,237 281.5,241.1 268.8,245.1 256.5,249.1 244.7,253.1 233.4,257.1 222.7,261 212.4,264.8 202.7,268.5 193.6,272.2 185,275.6 177.1,279 169.8,282.1 163.2,285 157.4,287.6 152.4,289.9 148.3,291.8 145.3,293.3 143.8,294Z"/>
<path id="b4" d="M143.8,445.1 145.3,442.7 148.3,438 152.4,431.9 157.4,424.8 163.2,417 169.8,408.8 177.1,400.2 185,391.6 193.6,382.9 202.7,374.2 212.4,365.6 222.7,357.2 233.4,348.9 244.7,340.7 256.5,332.7 268.8,324.9 281.5,317.4 294.7,309.9 308.3,302.7 322.4,295.7 336.9,288.8 351.8,282.2 367.1,275.6 382.9,269.3 399,263.1 415.5,257.1 432.4,251.2 449.7,245.5 467.4,239.9 485.4,234.4 503.9,229.1 522.6,223.8 541.7,218.7 561.2,213.8 581,208.9 601.2,204.1 621.7,199.4 642.5,194.9 663.7,190.4 685.2,186 707,181.7 729.1,177.5 751.6,173.3 774.3,169.3 797.4,165.3 820.8,161.4 844.5,157.6 868.5,153.8 892.8,150.1 917.4,146.4 942.3,142.9 967.5,139.3 993,135.9 1018.8,132.5 1044.9,129.1 1071.2,125.8 1097.9,122.6 1124.8,119.4 1152,116.2 L1152,97 1124.8,99.7 1097.9,102.4 1071.2,105.2 1044.9,107.9 1018.8,110.8 993,113.6 967.5,116.5 942.3,119.4 917.4,122.4 892.8,125.4 868.5,128.4 844.5,131.5 820.8,134.6 797.4,137.7 774.3,140.9 751.6,144.1 729.1,147.3 707,150.6 685.2,154 663.7,157.4 642.5,160.8 621.7,164.2 601.2,167.7 581,171.3 561.2,174.8 541.7,178.5 522.6,182.1 503.9,185.8 485.4,189.6 467.4,193.4 449.7,197.2 432.4,201 415.5,204.9 399,208.9 382.9,212.8 367.1,216.8 351.8,220.8 336.9,224.8 322.4,228.9 308.3,232.9 294.7,237 281.5,241.1 268.8,245.1 256.5,249.1 244.7,253.1 233.4,257.1 222.7,261 212.4,264.8 202.7,268.5 193.6,272.2 185,275.6 177.1,279 169.8,282.1 163.2,285 157.4,287.6 152.4,289.9 148.3,291.8 145.3,293.3 143.8,294Z"/>
<path id="b5" d="M143.8,438.8 145.3,436.6 148.3,432.1 152.4,426.2 157.4,419.4 163.2,412 169.8,404 177.1,395.8 185,387.5 193.6,379.1 202.7,370.7 212.4,362.3 222.7,354.1 233.4,345.9 244.7,338 256.5,330.2 268.8,322.5 281.5,315.1 294.7,307.8 308.3,300.7 322.4,293.8 336.9,287 351.8,280.4 367.1,274 382.9,267.8 399,261.6 415.5,255.7 432.4,249.9 449.7,244.2 467.4,238.6 485.4,233.2 503.9,227.9 522.6,222.8 541.7,217.7 561.2,212.8 581,207.9 601.2,203.2 621.7,198.6 642.5,194 663.7,189.6 685.2,185.2 707,180.9 729.1,176.7 751.6,172.6 774.3,168.6 797.4,164.6 820.8,160.7 844.5,156.9 868.5,153.2 892.8,149.5 917.4,145.9 942.3,142.3 967.5,138.8 993,135.3 1018.8,132 1044.9,128.6 1071.2,125.3 1097.9,122.1 1124.8,118.9 1152,115.8 L1152,97 1124.8,99.7 1097.9,102.4 1071.2,105.2 1044.9,107.9 1018.8,110.8 993,113.6 967.5,116.5 942.3,119.4 917.4,122.4 892.8,125.4 868.5,128.4 844.5,131.5 820.8,134.6 797.4,137.7 774.3,140.9 751.6,144.1 729.1,147.3 707,150.6 685.2,154 663.7,157.4 642.5,160.8 621.7,164.2 601.2,167.7 581,171.3 561.2,174.8 541.7,178.5 522.6,182.1 503.9,185.8 485.4,189.6 467.4,193.4 449.7,197.2 432.4,201 415.5,204.9 399,208.9 382.9,212.8 367.1,216.8 351.8,220.8 336.9,224.8 322.4,228.9 308.3,232.9 294.7,237 281.5,241.1 268.8,245.1 256.5,249.1 244.7,253.1 233.4,257.1 222.7,261 212.4,264.8 202.7,268.5 193.6,272.2 185,275.6 177.1,279 169.8,282.1 163.2,285 157.4,287.6 152.4,289.9 148.3,291.8 145.3,293.3 143.8,294Z"/>
<path id="b6" d="M143.8,432.9 145.3,430.7 148.3,426.4 152.4,420.8 157.4,414.3 163.2,407.1 169.8,399.5 177.1,391.6 185,383.5 193.6,375.3 202.7,367.2 212.4,359.1 222.7,351 233.4,343.1 244.7,335.3 256.5,327.7 268.8,320.2 281.5,312.9 294.7,305.7 308.3,298.7 322.4,291.9 336.9,285.2 351.8,278.7 367.1,272.4 382.9,266.2 399,260.2 415.5,254.3 432.4,248.5 449.7,242.9 467.4,237.4 485.4,232.1 503.9,226.8 522.6,221.7 541.7,216.7 561.2,211.8 581,207 601.2,202.3 621.7,197.7 642.5,193.2 663.7,188.8 685.2,184.4 707,180.2 729.1,176 751.6,171.9 774.3,167.9 797.4,164 820.8,160.1 844.5,156.3 868.5,152.6 892.8,148.9 917.4,145.3 942.3,141.7 967.5,138.3 993,134.8 1018.8,131.4 1044.9,128.1 1071.2,124.8 1097.9,121.6 1124.8,118.5 1152,115.3 L1152,97 1124.8,99.7 1097.9,102.4 1071.2,105.2 1044.9,107.9 1018.8,110.8 993,113.6 967.5,116.5 942.3,119.4 917.4,122.4 892.8,125.4 868.5,128.4 844.5,131.5 820.8,134.6 797.4,137.7 774.3,140.9 751.6,144.1 729.1,147.3 707,150.6 685.2,154 663.7,157.4 642.5,160.8 621.7,164.2 601.2,167.7 581,171.3 561.2,174.8 541.7,178.5 522.6,182.1 503.9,185.8 485.4,189.6 467.4,193.4 449.7,197.2 432.4,201 415.5,204.9 399,208.9 382.9,212.8 367.1,216.8 351.8,220.8 336.9,224.8 322.4,228.9 308.3,232.9 294.7,237 281.5,241.1 268.8,245.1 256.5,249.1 244.7,253.1 233.4,257.1 222.7,261 212.4,264.8 202.7,268.5 193.6,272.2 185,275.6 177.1,279 169.8,282.1 163.2,285 157.4,287.6 152.4,289.9 148.3,291.8 145.3,293.3 143.8,294Z"/>
<path id="b7" d="M143.8,427.2 145.3,425.1 148.3,421 152.4,415.7 157.4,409.4 163.2,402.5 169.8,395.2 177.1,387.5 185,379.7 193.6,371.7 202.7,363.8 212.4,355.9 222.7,348 233.4,340.3 244.7,332.7 256.5,325.2 268.8,317.8 281.5,310.7 294.7,303.6 308.3,296.8 322.4,290 336.9,283.5 351.8,277.1 367.1,270.8 382.9,264.7 399,258.8 415.5,252.9 432.4,247.2 449.7,241.7 467.4,236.2 485.4,230.9 503.9,225.7 522.6,220.7 541.7,215.7 561.2,210.8 581,206.1 601.2,201.4 621.7,196.8 642.5,192.3 663.7,187.9 685.2,183.6 707,179.4 729.1,175.3 751.6,171.2 774.3,167.2 797.4,163.3 820.8,159.5 844.5,155.7 868.5,152 892.8,148.3 917.4,144.7 942.3,141.2 967.5,137.7 993,134.3 1018.8,130.9 1044.9,127.6 1071.2,124.4 1097.9,121.2 1124.8,118 1152,114.9 L1152,97 1124.8,99.7 1097.9,102.4 1071.2,105.2 1044.9,107.9 1018.8,110.8 993,113.6 967.5,116.5 942.3,119.4 917.4,122.4 892.8,125.4 868.5,128.4 844.5,131.5 820.8,134.6 797.4,137.7 774.3,140.9 751.6,144.1 729.1,147.3 707,150.6 685.2,154 663.7,157.4 642.5,160.8 621.7,164.2 601.2,167.7 581,171.3 561.2,174.8 541.7,178.5 522.6,182.1 503.9,185.8 485.4,189.6 467.4,193.4 449.7,197.2 432.4,201 415.5,204.9 399,208.9 382.9,212.8 367.1,216.8 351.8,220.8 336.9,224.8 322.4,228.9 308.3,232.9 294.7,237 281.5,241.1 268.8,245.1 256.5,249.1 244.7,253.1 233.4,257.1 222.7,261 212.4,264.8 202.7,268.5 193.6,272.2 185,275.6 177.1,279 169.8,282.1 163.2,285 157.4,287.6 152.4,289.9 148.3,291.8 145.3,293.3 143.8,294Z"/>
<path id="b8" d="M143.8,421.7 145.3,419.8 148.3,415.8 152.4,410.7 157.4,404.7 163.2,398 169.8,390.9 177.1,383.5 185,375.9 193.6,368.2 202.7,360.5 212.4,352.8 222.7,345.1 233.4,337.6 244.7,330.1 256.5,322.8 268.8,315.6 281.5,308.5 294.7,301.6 308.3,294.8 322.4,288.2 336.9,281.8 351.8,275.4 367.1,269.3 382.9,263.2 399,257.3 415.5,251.6 432.4,245.9 449.7,240.4 467.4,235.1 485.4,229.8 503.9,224.6 522.6,219.6 541.7,214.7 561.2,209.8 581,205.1 601.2,200.5 621.7,196 642.5,191.5 663.7,187.1 685.2,182.9 707,178.7 729.1,174.5 751.6,170.5 774.3,166.5 797.4,162.6 820.8,158.8 844.5,155.1 868.5,151.4 892.8,147.7 917.4,144.1 942.3,140.6 967.5,137.2 993,133.8 1018.8,130.4 1044.9,127.1 1071.2,123.9 1097.9,120.7 1124.8,117.5 1152,114.4 L1152,97 1124.8,99.7 1097.9,102.4 1071.2,105.2 1044.9,107.9 1018.8,110.8 993,113.6 967.5,116.5 942.3,119.4 917.4,122.4 892.8,125.4 868.5,128.4 844.5,131.5 820.8,134.6 797.4,137.7 774.3,140.9 751.6,144.1 729.1,147.3 707,150.6 685.2,154 663.7,157.4 642.5,160.8 621.7,164.2 601.2,167.7 581,171.3 561.2,174.8 541.7,178.5 522.6,182.1 503.9,185.8 485.4,189.6 467.4,193.4 449.7,197.2 432.4,201 415.5,204.9 399,208.9 382.9,212.8 367.1,216.8 351.8,220.8 336.9,224.8 322.4,228.9 308.3,232.9 294.7,237 281.5,241.1 268.8,245.1 256.5,249.1 244.7,253.1 233.4,257.1 222.7,261 212.4,264.8 202.7,268.5 193.6,272.2 185,275.6 177.1,279 169.8,282.1 163.2,285 157.4,287.6 152.4,289.9 148.3,291.8 145.3,293.3 143.8,294Z"/>
<path id="b9" d="M143.8,416.5 145.3,414.6 148.3,410.9 152.4,405.9 157.4,400.1 163.2,393.7 169.8,386.8 177.1,379.7 185,372.3 193.6,364.8 202.7,357.3 212.4,349.8 222.7,342.3 233.4,334.9 244.7,327.6 256.5,320.4 268.8,313.3 281.5,306.4 294.7,299.6 308.3,292.9 322.4,286.4 336.9,280 351.8,273.8 367.1,267.7 382.9,261.8 399,255.9 415.5,250.2 432.4,244.7 449.7,239.2 467.4,233.9 485.4,228.7 503.9,223.6 522.6,218.6 541.7,213.7 561.2,208.9 581,204.2 601.2,199.6 621.7,195.1 642.5,190.7 663.7,186.3 685.2,182.1 707,177.9 729.1,173.8 751.6,169.8 774.3,165.9 797.4,162 820.8,158.2 844.5,154.4 868.5,150.8 892.8,147.1 917.4,143.6 942.3,140.1 967.5,136.6 993,133.3 1018.8,129.9 1044.9,126.6 1071.2,123.4 1097.9,120.2 1124.8,117.1 1152,114 L1152,97 1124.8,99.7 1097.9,102.4 1071.2,105.2 1044.9,107.9 1018.8,110.8 993,113.6 967.5,116.5 942.3,119.4 917.4,122.4 892.8,125.4 868.5,128.4 844.5,131.5 820.8,134.6 797.4,137.7 774.3,140.9 751.6,144.1 729.1,147.3 707,150.6 685.2,154 663.7,157.4 642.5,160.8 621.7,164.2 601.2,167.7 581,171.3 561.2,174.8 541.7,178.5 522.6,182.1 503.9,185.8 485.4,189.6 467.4,193.4 449.7,197.2 432.4,201 415.5,204.9 399,208.9 382.9,212.8 367.1,216.8 351.8,220.8 336.9,224.8 322.4,228.9 308.3,232.9 294.7,237 281.5,241.1 268.8,245.1 256.5,249.1 244.7,253.1 233.4,257.1 222.7,261 212.4,264.8 202.7,268.5 193.6,272.2 185,275.6 177.1,279 169.8,282.1 163.2,285 157.4,287.6 152.4,289.9 148.3,291.8 145.3,293.3 143.8,294Z"/>
<path id="b10" d="M143.8,411.5 145.3,409.7 148.3,406.1 152.4,401.3 157.4,395.7 163.2,389.5 169.8,382.9 177.1,375.9 185,368.8 193.6,361.5 202.7,354.2 212.4,346.8 222.7,339.5 233.4,332.3 244.7,325.1 256.5,318.1 268.8,311.1 281.5,304.3 294.7,297.6 308.3,291.1 322.4,284.6 336.9,278.4 351.8,272.2 367.1,266.2 382.9,260.3 399,254.5 415.5,248.9 432.4,243.4 449.7,238 467.4,232.7 485.4,227.6 503.9,222.5 522.6,217.5 541.7,212.7 561.2,207.9 581,203.3 601.2,198.7 621.7,194.2 642.5,189.9 663.7,185.5 685.2,181.3 707,177.2 729.1,173.1 751.6,169.1 774.3,165.2 797.4,161.3 820.8,157.5 844.5,153.8 868.5,150.2 892.8,146.6 917.4,143 942.3,139.5 967.5,136.1 993,132.7 1018.8,129.4 1044.9,126.1 1071.2,122.9 1097.9,119.8 1124.8,116.6 1152,113.5 L1152,97 1124.8,99.7 1097.9,102.4 1071.2,105.2 1044.9,107.9 1018.8,110.8 993,113.6 967.5,116.5 942.3,119.4 917.4,122.4 892.8,125.4 868.5,128.4 844.5,131.5 820.8,134.6 797.4,137.7 774.3,140.9 751.6,144.1 729.1,147.3 707,150.6 685.2,154 663.7,157.4 642.5,160.8 621.7,164.2 601.2,167.7 581,171.3 561.2,174.8 541.7,178.5 522.6,182.1 503.9,185.8 485.4,189.6 467.4,193.4 449.7,197.2 432.4,201 415.5,204.9 399,208.9 382.9,212.8 367.1,216.8 351.8,220.8 336.9,224.8 322.4,228.9 308.3,232.9 294.7,237 281.5,241.1 268.8,245.1 256.5,249.1 244.7,253.1 233.4,257.1 222.7,261 212.4,264.8 202.7,268.5 193.6,272.2 185,275.6 177.1,279 169.8,282.1 163.2,285 157.4,287.6 152.4,289.9 148.3,291.8 145.3,293.3 143.8,294Z"/>
<path id="b11" d="M143.8,406.7 145.3,405 148.3,401.5 152.4,396.9 157.4,391.5 163.2,385.5 169.8,379.1 177.1,372.3 185,365.4 193.6,358.3 202.7,351.1 212.4,344 222.7,336.8 233.4,329.7 244.7,322.7 256.5,315.8 268.8,309 281.5,302.3 294.7,295.7 308.3,289.2 322.4,282.9 336.9,276.7 351.8,270.6 367.1,264.7 382.9,258.9 399,253.2 415.5,247.6 432.4,242.1 449.7,236.8 467.4,231.6 485.4,226.4 503.9,221.4 522.6,216.5 541.7,211.7 561.2,207 581,202.4 601.2,197.8 621.7,193.4 642.5,189 663.7,184.8 685.2,180.6 707,176.4 729.1,172.4 751.6,168.4 774.3,164.5 797.4,160.7 820.8,156.9 844.5,153.2 868.5,149.6 892.8,146 917.4,142.5 942.3,139 967.5,135.6 993,132.2 1018.8,128.9 1044.9,125.7 1071.2,122.4 1097.9,119.3 1124.8,116.2 1152,113.1 L1152,97 1124.8,99.7 1097.9,102.4 1071.2,105.2 1044.9,107.9 1018.8,110.8 993,113.6 967.5,116.5 942.3,119.4 917.4,122.4 892.8,125.4 868.5,128.4 844.5,131.5 820.8,134.6 797.4,137.7 774.3,140.9 751.6,144.1 729.1,147.3 707,150.6 685.2,154 663.7,157.4 642.5,160.8 621.7,164.2 601.2,167.7 581,171.3 561.2,174.8 541.7,178.5 522.6,182.1 503.9,185.8 485.4,189.6 467.4,193.4 449.7,197.2 432.4,201 415.5,204.9 399,208.9 382.9,212.8 367.1,216.8 351.8,220.8 336.9,224.8 322.4,228.9 308.3,232.9 294.7,237 281.5,241.1 268.8,245.1 256.5,249.1 244.7,253.1 233.4,257.1 222.7,261 212.4,264.8 202.7,268.5 193.6,272.2 185,275.6 177.1,279 169.8,282.1 163.2,285 157.4,287.6 152.4,289.9 148.3,291.8 145.3,293.3 143.8,294Z"/>
<path id="b12" d="M143.8,402.1 145.3,400.4 148.3,397 152.4,392.6 157.4,387.4 163.2,381.6 169.8,375.3 177.1,368.8 185,362 193.6,355.1 202.7,348.2 212.4,341.2 222.7,334.2 233.4,327.2 244.7,320.3 256.5,313.5 268.8,306.8 281.5,300.2 294.7,293.8 308.3,287.4 322.4,281.2 336.9,275.1 351.8,269.1 367.1,263.2 382.9,257.4 399,251.8 415.5,246.3 432.4,240.9 449.7,235.6 467.4,230.4 485.4,225.4 503.9,220.4 522.6,215.5 541.7,210.7 561.2,206.1 581,201.5 601.2,197 621.7,192.6 642.5,188.2 663.7,184 685.2,179.8 707,175.7 729.1,171.7 751.6,167.7 774.3,163.9 797.4,160 820.8,156.3 844.5,152.6 868.5,149 892.8,145.4 917.4,141.9 942.3,138.4 967.5,135.1 993,131.7 1018.8,128.4 1044.9,125.2 1071.2,122 1097.9,118.8 1124.8,115.7 1152,112.7 L1152,97 1124.8,99.7 1097.9,102.4 1071.2,105.2 1044.9,107.9 1018.8,110.8 993,113.6 967.5,116.5 942.3,119.4 917.4,122.4 892.8,125.4 868.5,128.4 844.5,131.5 820.8,134.6 797.4,137.7 774.3,140.9 751.6,144.1 729.1,147.3 707,150.6 685.2,154 663.7,157.4 642.5,160.8 621.7,164.2 601.2,167.7 581,171.3 561.2,174.8 541.7,178.5 522.6,182.1 503.9,185.8 485.4,189.6 467.4,193.4 449.7,197.2 432.4,201 415.5,204.9 399,208.9 382.9,212.8 367.1,216.8 351.8,220.8 336.9,224.8 322.4,228.9 308.3,232.9 294.7,237 281.5,241.1 268.8,245.1 256.5,249.1 244.7,253.1 233.4,257.1 222.7,261 212.4,264.8 202.7,268.5 193.6,272.2 185,275.6 177.1,279 169.8,282.1 163.2,285 157.4,287.6 152.4,289.9 148.3,291.8 145.3,293.3 143.8,294Z"/>
<path id="b13" d="M143.8,397.6 145.3,396 148.3,392.8 152.4,388.5 157.4,383.4 163.2,377.8 169.8,371.7 177.1,365.4 185,358.8 193.6,352.1 202.7,345.3 212.4,338.4 222.7,331.6 233.4,324.8 244.7,318 256.5,311.3 268.8,304.8 281.5,298.3 294.7,291.9 308.3,285.6 322.4,279.5 336.9,273.4 351.8,267.5 367.1,261.7 382.9,256 399,250.5 415.5,245 432.4,239.7 449.7,234.4 467.4,229.3 485.4,224.3 503.9,219.3 522.6,214.5 541.7,209.8 561.2,205.1 581,200.6 601.2,196.1 621.7,191.7 642.5,187.4 663.7,183.2 685.2,179 707,175 729.1,171 751.6,167.1 774.3,163.2 797.4,159.4 820.8,155.7 844.5,152 868.5,148.4 892.8,144.8 917.4,141.3 942.3,137.9 967.5,134.5 993,131.2 1018.8,127.9 1044.9,124.7 1071.2,121.5 1097.9,118.4 1124.8,115.3 1152,112.2 L1152,97 1124.8,99.7 1097.9,102.4 1071.2,105.2 1044.9,107.9 1018.8,110.8 993,113.6 967.5,116.5 942.3,119.4 917.4,122.4 892.8,125.4 868.5,128.4 844.5,131.5 820.8,134.6 797.4,137.7 774.3,140.9 751.6,144.1 729.1,147.3 707,150.6 685.2,154 663.7,157.4 642.5,160.8 621.7,164.2 601.2,167.7 581,171.3 561.2,174.8 541.7,178.5 522.6,182.1 503.9,185.8 485.4,189.6 467.4,193.4 449.7,197.2 432.4,201 415.5,204.9 399,208.9 382.9,212.8 367.1,216.8 351.8,220.8 336.9,224.8 322.4,228.9 308.3,232.9 294.7,237 281.5,241.1 268.8,245.1 256.5,249.1 244.7,253.1 233.4,257.1 222.7,261 212.4,264.8 202.7,268.5 193.6,272.2 185,275.6 177.1,279 169.8,282.1 163.2,285 157.4,287.6 152.4,289.9 148.3,291.8 145.3,293.3 143.8,294Z"/>
<path id="b14" d="M143.8,393.3 145.3,391.7 148.3,388.6 152.4,384.5 157.4,379.6 163.2,374.1 169.8,368.2 177.1,362 185,355.6 193.6,349.1 202.7,342.4 212.4,335.7 222.7,329 233.4,322.3 244.7,315.7 256.5,309.2 268.8,302.7 281.5,296.3 294.7,290 308.3,283.9 322.4,277.8 336.9,271.8 351.8,266 367.1,260.3 382.9,254.6 399,249.1 415.5,243.7 432.4,238.4 449.7,233.3 467.4,228.2 485.4,223.2 503.9,218.3 522.6,213.5 541.7,208.8 561.2,204.2 581,199.7 601.2,195.2 621.7,190.9 642.5,186.6 663.7,182.4 685.2,178.3 707,174.3 729.1,170.3 751.6,166.4 774.3,162.5 797.4,158.8 820.8,155 844.5,151.4 868.5,147.8 892.8,144.3 917.4,140.8 942.3,137.4 967.5,134 993,130.7 1018.8,127.4 1044.9,124.2 1071.2,121 1097.9,117.9 1124.8,114.8 1152,111.8 L1152,97 1124.8,99.7 1097.9,102.4 1071.2,105.2 1044.9,107.9 1018.8,110.8 993,113.6 967.5,116.5 942.3,119.4 917.4,122.4 892.8,125.4 868.5,128.4 844.5,131.5 820.8,134.6 797.4,137.7 774.3,140.9 751.6,144.1 729.1,147.3 707,150.6 685.2,154 663.7,157.4 642.5,160.8 621.7,164.2 601.2,167.7 581,171.3 561.2,174.8 541.7,178.5 522.6,182.1 503.9,185.8 485.4,189.6 467.4,193.4 449.7,197.2 432.4,201 415.5,204.9 399,208.9 382.9,212.8 367.1,216.8 351.8,220.8 336.9,224.8 322.4,228.9 308.3,232.9 294.7,237 281.5,241.1 268.8,245.1 256.5,249.1 244.7,253.1 233.4,257.1 222.7,261 212.4,264.8 202.7,268.5 193.6,272.2 185,275.6 177.1,279 169.8,282.1 163.2,285 157.4,287.6 152.4,289.9 148.3,291.8 145.3,293.3 143.8,294Z"/>
<path id="b15" d="M143.8,389.2 145.3,387.6 148.3,384.6 152.4,380.6 157.4,375.8 163.2,370.5 169.8,364.8 177.1,358.8 185,352.5 193.6,346.1 202.7,339.6 212.4,333.1 222.7,326.5 233.4,320 244.7,313.5 256.5,307 268.8,300.7 281.5,294.4 294.7,288.2 308.3,282.1 322.4,276.1 336.9,270.3 351.8,264.5 367.1,258.8 382.9,253.3 399,247.8 415.5,242.5 432.4,237.2 449.7,232.1 467.4,227.1 485.4,222.1 503.9,217.3 522.6,212.5 541.7,207.9 561.2,203.3 581,198.8 601.2,194.4 621.7,190.1 642.5,185.8 663.7,181.7 685.2,177.6 707,173.5 729.1,169.6 751.6,165.7 774.3,161.9 797.4,158.1 820.8,154.4 844.5,150.8 868.5,147.2 892.8,143.7 917.4,140.2 942.3,136.8 967.5,133.5 993,130.2 1018.8,126.9 1044.9,123.7 1071.2,120.6 1097.9,117.4 1124.8,114.4 1152,111.4 L1152,97 1124.8,99.7 1097.9,102.4 1071.2,105.2 1044.9,107.9 1018.8,110.8 993,113.6 967.5,116.5 942.3,119.4 917.4,122.4 892.8,125.4 868.5,128.4 844.5,131.5 820.8,134.6 797.4,137.7 774.3,140.9 751.6,144.1 729.1,147.3 707,150.6 685.2,154 663.7,157.4 642.5,160.8 621.7,164.2 601.2,167.7 581,171.3 561.2,174.8 541.7,178.5 522.6,182.1 503.9,185.8 485.4,189.6 467.4,193.4 449.7,197.2 432.4,201 415.5,204.9 399,208.9 382.9,212.8 367.1,216.8 351.8,220.8 336.9,224.8 322.4,228.9 308.3,232.9 294.7,237 281.5,241.1 268.8,245.1 256.5,249.1 244.7,253.1 233.4,257.1 222.7,261 212.4,264.8 202.7,268.5 193.6,272.2 185,275.6 177.1,279 169.8,282.1 163.2,285 157.4,287.6 152.4,289.9 148.3,291.8 145.3,293.3 143.8,294Z"/>
<path id="b16" d="M143.8,385.1 145.3,383.7 148.3,380.7 152.4,376.8 157.4,372.2 163.2,367.1 169.8,361.5 177.1,355.6 185,349.5 193.6,343.3 202.7,336.9 212.4,330.5 222.7,324.1 233.4,317.7 244.7,311.3 256.5,305 268.8,298.7 281.5,292.5 294.7,286.4 308.3,280.4 322.4,274.5 336.9,268.7 351.8,263 367.1,257.4 382.9,251.9 399,246.5 415.5,241.2 432.4,236 449.7,231 467.4,226 485.4,221.1 503.9,216.3 522.6,211.5 541.7,206.9 561.2,202.4 581,197.9 601.2,193.5 621.7,189.2 642.5,185 663.7,180.9 685.2,176.8 707,172.8 729.1,168.9 751.6,165 774.3,161.2 797.4,157.5 820.8,153.8 844.5,150.2 868.5,146.6 892.8,143.1 917.4,139.7 942.3,136.3 967.5,133 993,129.7 1018.8,126.4 1044.9,123.2 1071.2,120.1 1097.9,117 1124.8,113.9 1152,110.9 L1152,97 1124.8,99.7 1097.9,102.4 1071.2,105.2 1044.9,107.9 1018.8,110.8 993,113.6 967.5,116.5 942.3,119.4 917.4,122.4 892.8,125.4 868.5,128.4 844.5,131.5 820.8,134.6 797.4,137.7 774.3,140.9 751.6,144.1 729.1,147.3 707,150.6 685.2,154 663.7,157.4 642.5,160.8 621.7,164.2 601.2,167.7 581,171.3 561.2,174.8 541.7,178.5 522.6,182.1 503.9,185.8 485.4,189.6 467.4,193.4 449.7,197.2 432.4,201 415.5,204.9 399,208.9 382.9,212.8 367.1,216.8 351.8,220.8 336.9,224.8 322.4,228.9 308.3,232.9 294.7,237 281.5,241.1 268.8,245.1 256.5,249.1 244.7,253.1 233.4,257.1 222.7,261 212.4,264.8 202.7,268.5 193.6,272.2 185,275.6 177.1,279 169.8,282.1 163.2,285 157.4,287.6 152.4,289.9 148.3,291.8 145.3,293.3 143.8,294Z"/>
<path id="b17" d="M143.8,381.2 145.3,379.8 148.3,377 152.4,373.2 157.4,368.7 163.2,363.7 169.8,358.3 177.1,352.6 185,346.6 193.6,340.5 202.7,334.3 212.4,328 222.7,321.7 233.4,315.4 244.7,309.1 256.5,302.9 268.8,296.7 281.5,290.6 294.7,284.6 308.3,278.7 322.4,272.9 336.9,267.2 351.8,261.5 367.1,256 382.9,250.6 399,245.2 415.5,240 432.4,234.9 449.7,229.8 467.4,224.9 485.4,220 503.9,215.2 522.6,210.6 541.7,206 561.2,201.5 581,197 601.2,192.7 621.7,188.4 642.5,184.2 663.7,180.1 685.2,176.1 707,172.1 729.1,168.2 751.6,164.4 774.3,160.6 797.4,156.9 820.8,153.2 844.5,149.6 868.5,146.1 892.8,142.6 917.4,139.1 942.3,135.8 967.5,132.4 993,129.2 1018.8,125.9 1044.9,122.8 1071.2,119.6 1097.9,116.5 1124.8,113.5 1152,110.5 L1152,97 1124.8,99.7 1097.9,102.4 1071.2,105.2 1044.9,107.9 1018.8,110.8 993,113.6 967.5,116.5 942.3,119.4 917.4,122.4 892.8,125.4 868.5,128.4 844.5,131.5 820.8,134.6 797.4,137.7 774.3,140.9 751.6,144.1 729.1,147.3 707,150.6 685.2,154 663.7,157.4 642.5,160.8 621.7,164.2 601.2,167.7 581,171.3 561.2,174.8 541.7,178.5 522.6,182.1 503.9,185.8 485.4,189.6 467.4,193.4 449.7,197.2 432.4,201 415.5,204.9 399,208.9 382.9,212.8 367.1,216.8 351.8,220.8 336.9,224.8 322.4,228.9 308.3,232.9 294.7,237 281.5,241.1 268.8,245.1 256.5,249.1 244.7,253.1 233.4,257.1 222.7,261 212.4,264.8 202.7,268.5 193.6,272.2 185,275.6 177.1,279 169.8,282.1 163.2,285 157.4,287.6 152.4,289.9 148.3,291.8 145.3,293.3 143.8,294Z"/>
<path id="b18" d="M143.8,377.5 145.3,376.1 148.3,373.3 152.4,369.6 157.4,365.3 163.2,360.4 169.8,355.1 177.1,349.5 185,343.7 193.6,337.8 202.7,331.7 212.4,325.5 222.7,319.3 233.4,313.2 244.7,307 256.5,300.9 268.8,294.8 281.5,288.8 294.7,282.9 308.3,277.1 322.4,271.3 336.9,265.6 351.8,260.1 367.1,254.6 382.9,249.2 399,244 415.5,238.8 432.4,233.7 449.7,228.7 467.4,223.8 485.4,219 503.9,214.2 522.6,209.6 541.7,205 561.2,200.6 581,196.2 601.2,191.9 621.7,187.6 642.5,183.5 663.7,179.4 685.2,175.3 707,171.4 729.1,167.5 751.6,163.7 774.3,159.9 797.4,156.2 820.8,152.6 844.5,149 868.5,145.5 892.8,142 917.4,138.6 942.3,135.2 967.5,131.9 993,128.7 1018.8,125.5 1044.9,122.3 1071.2,119.2 1097.9,116.1 1124.8,113 1152,110.1 L1152,97 1124.8,99.7 1097.9,102.4 1071.2,105.2 1044.9,107.9 1018.8,110.8 993,113.6 967.5,116.5 942.3,119.4 917.4,122.4 892.8,125.4 868.5,128.4 844.5,131.5 820.8,134.6 797.4,137.7 774.3,140.9 751.6,144.1 729.1,147.3 707,150.6 685.2,154 663.7,157.4 642.5,160.8 621.7,164.2 601.2,167.7 581,171.3 561.2,174.8 541.7,178.5 522.6,182.1 503.9,185.8 485.4,189.6 467.4,193.4 449.7,197.2 432.4,201 415.5,204.9 399,208.9 382.9,212.8 367.1,216.8 351.8,220.8 336.9,224.8 322.4,228.9 308.3,232.9 294.7,237 281.5,241.1 268.8,245.1 256.5,249.1 244.7,253.1 233.4,257.1 222.7,261 212.4,264.8 202.7,268.5 193.6,272.2 185,275.6 177.1,279 169.8,282.1 163.2,285 157.4,287.6 152.4,289.9 148.3,291.8 145.3,293.3 143.8,294Z"/>
<path id="b19" d="M143.8,373.8 145.3,372.4 148.3,369.8 152.4,366.2 157.4,362 163.2,357.2 169.8,352.1 177.1,346.6 185,340.9 193.6,335.1 202.7,329.1 212.4,323.1 222.7,317 233.4,311 244.7,304.9 256.5,298.9 268.8,292.9 281.5,287 294.7,281.2 308.3,275.4 322.4,269.7 336.9,264.1 351.8,258.6 367.1,253.2 382.9,247.9 399,242.7 415.5,237.6 432.4,232.5 449.7,227.6 467.4,222.7 485.4,217.9 503.9,213.3 522.6,208.6 541.7,204.1 561.2,199.7 581,195.3 601.2,191 621.7,186.8 642.5,182.7 663.7,178.6 685.2,174.6 707,170.7 729.1,166.8 751.6,163 774.3,159.3 797.4,155.6 820.8,152 844.5,148.4 868.5,144.9 892.8,141.5 917.4,138.1 942.3,134.7 967.5,131.4 993,128.2 1018.8,125 1044.9,121.8 1071.2,118.7 1097.9,115.6 1124.8,112.6 1152,109.6 L1152,97 1124.8,99.7 1097.9,102.4 1071.2,105.2 1044.9,107.9 1018.8,110.8 993,113.6 967.5,116.5 942.3,119.4 917.4,122.4 892.8,125.4 868.5,128.4 844.5,131.5 820.8,134.6 797.4,137.7 774.3,140.9 751.6,144.1 729.1,147.3 707,150.6 685.2,154 663.7,157.4 642.5,160.8 621.7,164.2 601.2,167.7 581,171.3 561.2,174.8 541.7,178.5 522.6,182.1 503.9,185.8 485.4,189.6 467.4,193.4 449.7,197.2 432.4,201 415.5,204.9 399,208.9 382.9,212.8 367.1,216.8 351.8,220.8 336.9,224.8 322.4,228.9 308.3,232.9 294.7,237 281.5,241.1 268.8,245.1 256.5,249.1 244.7,253.1 233.4,257.1 222.7,261 212.4,264.8 202.7,268.5 193.6,272.2 185,275.6 177.1,279 169.8,282.1 163.2,285 157.4,287.6 152.4,289.9 148.3,291.8 145.3,293.3 143.8,294Z"/>
<path id="b20" d="M143.8,370.2 145.3,368.9 148.3,366.3 152.4,362.8 157.4,358.7 163.2,354.1 169.8,349.1 177.1,343.7 185,338.2 193.6,332.5 202.7,326.6 212.4,320.7 222.7,314.8 233.4,308.8 244.7,302.8 256.5,296.9 268.8,291 281.5,285.2 294.7,279.5 308.3,273.8 322.4,268.2 336.9,262.7 351.8,257.2 367.1,251.9 382.9,246.6 399,241.4 415.5,236.4 432.4,231.4 449.7,226.5 467.4,221.6 485.4,216.9 503.9,212.3 522.6,207.7 541.7,203.2 561.2,198.8 581,194.5 601.2,190.2 621.7,186 642.5,181.9 663.7,177.9 685.2,173.9 707,170 729.1,166.1 751.6,162.4 774.3,158.6 797.4,155 820.8,151.4 844.5,147.8 868.5,144.3 892.8,140.9 917.4,137.5 942.3,134.2 967.5,130.9 993,127.7 1018.8,124.5 1044.9,121.3 1071.2,118.2 1097.9,115.2 1124.8,112.2 1152,109.2 L1152,97 1124.8,99.7 1097.9,102.4 1071.2,105.2 1044.9,107.9 1018.8,110.8 993,113.6 967.5,116.5 942.3,119.4 917.4,122.4 892.8,125.4 868.5,128.4 844.5,131.5 820.8,134.6 797.4,137.7 774.3,140.9 751.6,144.1 729.1,147.3 707,150.6 685.2,154 663.7,157.4 642.5,160.8 621.7,164.2 601.2,167.7 581,171.3 561.2,174.8 541.7,178.5 522.6,182.1 503.9,185.8 485.4,189.6 467.4,193.4 449.7,197.2 432.4,201 415.5,204.9 399,208.9 382.9,212.8 367.1,216.8 351.8,220.8 336.9,224.8 322.4,228.9 308.3,232.9 294.7,237 281.5,241.1 268.8,245.1 256.5,249.1 244.7,253.1 233.4,257.1 222.7,261 212.4,264.8 202.7,268.5 193.6,272.2 185,275.6 177.1,279 169.8,282.1 163.2,285 157.4,287.6 152.4,289.9 148.3,291.8 145.3,293.3 143.8,294Z"/>
<path id="b21" d="M143.8,366.8 145.3,365.5 148.3,363 152.4,359.6 157.4,355.6 163.2,351 169.8,346.1 177.1,340.9 185,335.5 193.6,329.9 202.7,324.2 212.4,318.4 222.7,312.5 233.4,306.7 244.7,300.8 256.5,295 268.8,289.2 281.5,283.5 294.7,277.8 308.3,272.2 322.4,266.7 336.9,261.2 351.8,255.8 367.1,250.5 382.9,245.3 399,240.2 415.5,235.2 432.4,230.2 449.7,225.4 467.4,220.6 485.4,215.9 503.9,211.3 522.6,206.8 541.7,202.3 561.2,197.9 581,193.6 601.2,189.4 621.7,185.2 642.5,181.2 663.7,177.1 685.2,173.2 707,169.3 729.1,165.5 751.6,161.7 774.3,158 797.4,154.4 820.8,150.8 844.5,147.3 868.5,143.8 892.8,140.4 917.4,137 942.3,133.7 967.5,130.4 993,127.2 1018.8,124 1044.9,120.9 1071.2,117.8 1097.9,114.7 1124.8,111.7 1152,108.8 L1152,97 1124.8,99.7 1097.9,102.4 1071.2,105.2 1044.9,107.9 1018.8,110.8 993,113.6 967.5,116.5 942.3,119.4 917.4,122.4 892.8,125.4 868.5,128.4 844.5,131.5 820.8,134.6 797.4,137.7 774.3,140.9 751.6,144.1 729.1,147.3 707,150.6 685.2,154 663.7,157.4 642.5,160.8 621.7,164.2 601.2,167.7 581,171.3 561.2,174.8 541.7,178.5 522.6,182.1 503.9,185.8 485.4,189.6 467.4,193.4 449.7,197.2 432.4,201 415.5,204.9 399,208.9 382.9,212.8 367.1,216.8 351.8,220.8 336.9,224.8 322.4,228.9 308.3,232.9 294.7,237 281.5,241.1 268.8,245.1 256.5,249.1 244.7,253.1 233.4,257.1 222.7,261 212.4,264.8 202.7,268.5 193.6,272.2 185,275.6 177.1,279 169.8,282.1 163.2,285 157.4,287.6 152.4,289.9 148.3,291.8 145.3,293.3 143.8,294Z"/>
<path id="b22" d="M143.8,363.4 145.3,362.2 148.3,359.7 152.4,356.4 157.4,352.5 163.2,348.1 169.8,343.3 177.1,338.2 185,332.9 193.6,327.4 202.7,321.8 212.4,316.1 222.7,310.4 233.4,304.6 244.7,298.8 256.5,293.1 268.8,287.4 281.5,281.7 294.7,276.1 308.3,270.6 322.4,265.1 336.9,259.7 351.8,254.4 367.1,249.2 382.9,244.1 399,239 415.5,234 432.4,229.1 449.7,224.3 467.4,219.5 485.4,214.9 503.9,210.3 522.6,205.8 541.7,201.4 561.2,197.1 581,192.8 601.2,188.6 621.7,184.4 642.5,180.4 663.7,176.4 685.2,172.5 707,168.6 729.1,164.8 751.6,161.1 774.3,157.4 797.4,153.8 820.8,150.2 844.5,146.7 868.5,143.2 892.8,139.8 917.4,136.5 942.3,133.2 967.5,129.9 993,126.7 1018.8,123.5 1044.9,120.4 1071.2,117.3 1097.9,114.3 1124.8,111.3 1152,108.3 L1152,97 1124.8,99.7 1097.9,102.4 1071.2,105.2 1044.9,107.9 1018.8,110.8 993,113.6 967.5,116.5 942.3,119.4 917.4,122.4 892.8,125.4 868.5,128.4 844.5,131.5 820.8,134.6 797.4,137.7 774.3,140.9 751.6,144.1 729.1,147.3 707,150.6 685.2,154 663.7,157.4 642.5,160.8 621.7,164.2 601.2,167.7 581,171.3 561.2,174.8 541.7,178.5 522.6,182.1 503.9,185.8 485.4,189.6 467.4,193.4 449.7,197.2 432.4,201 415.5,204.9 399,208.9 382.9,212.8 367.1,216.8 351.8,220.8 336.9,224.8 322.4,228.9 308.3,232.9 294.7,237 281.5,241.1 268.8,245.1 256.5,249.1 244.7,253.1 233.4,257.1 222.7,261 212.4,264.8 202.7,268.5 193.6,272.2 185,275.6 177.1,279 169.8,282.1 163.2,285 157.4,287.6 152.4,289.9 148.3,291.8 145.3,293.3 143.8,294Z"/>
<path id="b23" d="M143.8,360.1 145.3,358.9 148.3,356.5 152.4,353.3 157.4,349.5 163.2,345.2 169.8,340.5 177.1,335.5 185,330.3 193.6,324.9 202.7,319.4 212.4,313.8 222.7,308.2 233.4,302.5 244.7,296.9 256.5,291.2 268.8,285.6 281.5,280 294.7,274.5 308.3,269 322.4,263.6 336.9,258.3 351.8,253.1 367.1,247.9 382.9,242.8 399,237.8 415.5,232.8 432.4,228 449.7,223.2 467.4,218.5 485.4,213.9 503.9,209.4 522.6,204.9 541.7,200.5 561.2,196.2 581,191.9 601.2,187.8 621.7,183.7 642.5,179.6 663.7,175.7 685.2,171.8 707,167.9 729.1,164.1 751.6,160.4 774.3,156.8 797.4,153.1 820.8,149.6 844.5,146.1 868.5,142.7 892.8,139.3 917.4,135.9 942.3,132.6 967.5,129.4 993,126.2 1018.8,123 1044.9,119.9 1071.2,116.9 1097.9,113.8 1124.8,110.9 1152,107.9 L1152,97 1124.8,99.7 1097.9,102.4 1071.2,105.2 1044.9,107.9 1018.8,110.8 993,113.6 967.5,116.5 942.3,119.4 917.4,122.4 892.8,125.4 868.5,128.4 844.5,131.5 820.8,134.6 797.4,137.7 774.3,140.9 751.6,144.1 729.1,147.3 707,150.6 685.2,154 663.7,157.4 642.5,160.8 621.7,164.2 601.2,167.7 581,171.3 561.2,174.8 541.7,178.5 522.6,182.1 503.9,185.8 485.4,189.6 467.4,193.4 449.7,197.2 432.4,201 415.5,204.9 399,208.9 382.9,212.8 367.1,216.8 351.8,220.8 336.9,224.8 322.4,228.9 308.3,232.9 294.7,237 281.5,241.1 268.8,245.1 256.5,249.1 244.7,253.1 233.4,257.1 222.7,261 212.4,264.8 202.7,268.5 193.6,272.2 185,275.6 177.1,279 169.8,282.1 163.2,285 157.4,287.6 152.4,289.9 148.3,291.8 145.3,293.3 143.8,294Z"/>
<path id="b24" d="M143.8,356.9 145.3,355.7 148.3,353.4 152.4,350.3 157.4,346.5 163.2,342.3 169.8,337.8 177.1,332.9 185,327.8 193.6,322.5 202.7,317.1 212.4,311.6 222.7,306.1 233.4,300.5 244.7,294.9 256.5,289.4 268.8,283.8 281.5,278.3 294.7,272.9 308.3,267.5 322.4,262.2 336.9,256.9 351.8,251.7 367.1,246.6 382.9,241.5 399,236.6 415.5,231.7 432.4,226.9 449.7,222.1 467.4,217.5 485.4,212.9 503.9,208.4 522.6,204 541.7,199.6 561.2,195.3 581,191.1 601.2,187 621.7,182.9 642.5,178.9 663.7,174.9 685.2,171.1 707,167.2 729.1,163.5 751.6,159.8 774.3,156.1 797.4,152.5 820.8,149 844.5,145.5 868.5,142.1 892.8,138.7 917.4,135.4 942.3,132.1 967.5,128.9 993,125.7 1018.8,122.6 1044.9,119.5 1071.2,116.4 1097.9,113.4 1124.8,110.4 1152,107.5 L1152,97 1124.8,99.7 1097.9,102.4 1071.2,105.2 1044.9,107.9 1018.8,110.8 993,113.6 967.5,116.5 942.3,119.4 917.4,122.4 892.8,125.4 868.5,128.4 844.5,131.5 820.8,134.6 797.4,137.7 774.3,140.9 751.6,144.1 729.1,147.3 707,150.6 685.2,154 663.7,157.4 642.5,160.8 621.7,164.2 601.2,167.7 581,171.3 561.2,174.8 541.7,178.5 522.6,182.1 503.9,185.8 485.4,189.6 467.4,193.4 449.7,197.2 432.4,201 415.5,204.9 399,208.9 382.9,212.8 367.1,216.8 351.8,220.8 336.9,224.8 322.4,228.9 308.3,232.9 294.7,237 281.5,241.1 268.8,245.1 256.5,249.1 244.7,253.1 233.4,257.1 222.7,261 212.4,264.8 202.7,268.5 193.6,272.2 185,275.6 177.1,279 169.8,282.1 163.2,285 157.4,287.6 152.4,289.9 148.3,291.8 145.3,293.3 143.8,294Z"/>
<path id="b25" d="M143.8,353.8 145.3,352.7 148.3,350.4 152.4,347.3 157.4,343.7 163.2,339.6 169.8,335.1 177.1,330.3 185,325.3 193.6,320.1 202.7,314.9 212.4,309.5 222.7,304 233.4,298.5 244.7,293 256.5,287.6 268.8,282.1 281.5,276.7 294.7,271.3 308.3,266 322.4,260.7 336.9,255.5 351.8,250.4 367.1,245.3 382.9,240.3 399,235.4 415.5,230.5 432.4,225.8 449.7,221.1 467.4,216.5 485.4,211.9 503.9,207.4 522.6,203.1 541.7,198.7 561.2,194.5 581,190.3 601.2,186.2 621.7,182.1 642.5,178.1 663.7,174.2 685.2,170.3 707,166.5 729.1,162.8 751.6,159.1 774.3,155.5 797.4,151.9 820.8,148.4 844.5,145 868.5,141.5 892.8,138.2 917.4,134.9 942.3,131.6 967.5,128.4 993,125.2 1018.8,122.1 1044.9,119 1071.2,116 1097.9,113 1124.8,110 1152,107.1 L1152,97 1124.8,99.7 1097.9,102.4 1071.2,105.2 1044.9,107.9 1018.8,110.8 993,113.6 967.5,116.5 942.3,119.4 917.4,122.4 892.8,125.4 868.5,128.4 844.5,131.5 820.8,134.6 797.4,137.7 774.3,140.9 751.6,144.1 729.1,147.3 707,150.6 685.2,154 663.7,157.4 642.5,160.8 621.7,164.2 601.2,167.7 581,171.3 561.2,174.8 541.7,178.5 522.6,182.1 503.9,185.8 485.4,189.6 467.4,193.4 449.7,197.2 432.4,201 415.5,204.9 399,208.9 382.9,212.8 367.1,216.8 351.8,220.8 336.9,224.8 322.4,228.9 308.3,232.9 294.7,237 281.5,241.1 268.8,245.1 256.5,249.1 244.7,253.1 233.4,257.1 222.7,261 212.4,264.8 202.7,268.5 193.6,272.2 185,275.6 177.1,279 169.8,282.1 163.2,285 157.4,287.6 152.4,289.9 148.3,291.8 145.3,293.3 143.8,294Z"/>
<path id="b26" d="M143.8,350.8 145.3,349.6 148.3,347.4 152.4,344.4 157.4,340.9 163.2,336.8 169.8,332.5 177.1,327.8 185,322.9 193.6,317.8 202.7,312.6 212.4,307.3 222.7,302 233.4,296.6 244.7,291.2 256.5,285.8 268.8,280.4 281.5,275 294.7,269.7 308.3,264.5 322.4,259.3 336.9,254.1 351.8,249 367.1,244 382.9,239.1 399,234.2 415.5,229.4 432.4,224.7 449.7,220 467.4,215.5 485.4,210.9 503.9,206.5 522.6,202.1 541.7,197.9 561.2,193.6 581,189.5 601.2,185.4 621.7,181.4 642.5,177.4 663.7,173.5 685.2,169.7 707,165.9 729.1,162.2 751.6,158.5 774.3,154.9 797.4,151.3 820.8,147.8 844.5,144.4 868.5,141 892.8,137.6 917.4,134.3 942.3,131.1 967.5,127.9 993,124.7 1018.8,121.6 1044.9,118.5 1071.2,115.5 1097.9,112.5 1124.8,109.6 1152,106.7 L1152,97 1124.8,99.7 1097.9,102.4 1071.2,105.2 1044.9,107.9 1018.8,110.8 993,113.6 967.5,116.5 942.3,119.4 917.4,122.4 892.8,125.4 868.5,128.4 844.5,131.5 820.8,134.6 797.4,137.7 774.3,140.9 751.6,144.1 729.1,147.3 707,150.6 685.2,154 663.7,157.4 642.5,160.8 621.7,164.2 601.2,167.7 581,171.3 561.2,174.8 541.7,178.5 522.6,182.1 503.9,185.8 485.4,189.6 467.4,193.4 449.7,197.2 432.4,201 415.5,204.9 399,208.9 382.9,212.8 367.1,216.8 351.8,220.8 336.9,224.8 322.4,228.9 308.3,232.9 294.7,237 281.5,241.1 268.8,245.1 256.5,249.1 244.7,253.1 233.4,257.1 222.7,261 212.4,264.8 202.7,268.5 193.6,272.2 185,275.6 177.1,279 169.8,282.1 163.2,285 157.4,287.6 152.4,289.9 148.3,291.8 145.3,293.3 143.8,294Z"/>
<path id="b27" d="M143.8,347.8 145.3,346.7 148.3,344.5 152.4,341.6 157.4,338.1 163.2,334.2 169.8,329.9 177.1,325.3 185,320.5 193.6,315.5 202.7,310.4 212.4,305.2 222.7,300 233.4,294.7 244.7,289.3 256.5,284 268.8,278.7 281.5,273.4 294.7,268.2 308.3,263 322.4,257.8 336.9,252.7 351.8,247.7 367.1,242.8 382.9,237.9 399,233 415.5,228.3 432.4,223.6 449.7,219 467.4,214.4 485.4,210 503.9,205.6 522.6,201.2 541.7,197 561.2,192.8 581,188.7 601.2,184.6 621.7,180.6 642.5,176.6 663.7,172.8 685.2,169 707,165.2 729.1,161.5 751.6,157.9 774.3,154.3 797.4,150.7 820.8,147.3 844.5,143.8 868.5,140.4 892.8,137.1 917.4,133.8 942.3,130.6 967.5,127.4 993,124.2 1018.8,121.1 1044.9,118.1 1071.2,115.1 1097.9,112.1 1124.8,109.1 1152,106.2 L1152,97 1124.8,99.7 1097.9,102.4 1071.2,105.2 1044.9,107.9 1018.8,110.8 993,113.6 967.5,116.5 942.3,119.4 917.4,122.4 892.8,125.4 868.5,128.4 844.5,131.5 820.8,134.6 797.4,137.7 774.3,140.9 751.6,144.1 729.1,147.3 707,150.6 685.2,154 663.7,157.4 642.5,160.8 621.7,164.2 601.2,167.7 581,171.3 561.2,174.8 541.7,178.5 522.6,182.1 503.9,185.8 485.4,189.6 467.4,193.4 449.7,197.2 432.4,201 415.5,204.9 399,208.9 382.9,212.8 367.1,216.8 351.8,220.8 336.9,224.8 322.4,228.9 308.3,232.9 294.7,237 281.5,241.1 268.8,245.1 256.5,249.1 244.7,253.1 233.4,257.1 222.7,261 212.4,264.8 202.7,268.5 193.6,272.2 185,275.6 177.1,279 169.8,282.1 163.2,285 157.4,287.6 152.4,289.9 148.3,291.8 145.3,293.3 143.8,294Z"/>
<path id="b28" d="M143.8,344.9 145.3,343.8 148.3,341.7 152.4,338.8 157.4,335.4 163.2,331.6 169.8,327.4 177.1,322.9 185,318.2 193.6,313.3 202.7,308.3 212.4,303.2 222.7,298 233.4,292.8 244.7,287.5 256.5,282.3 268.8,277 281.5,271.8 294.7,266.6 308.3,261.5 322.4,256.4 336.9,251.4 351.8,246.4 367.1,241.5 382.9,236.7 399,231.9 415.5,227.2 432.4,222.5 449.7,218 467.4,213.5 485.4,209 503.9,204.6 522.6,200.3 541.7,196.1 561.2,191.9 581,187.8 601.2,183.8 621.7,179.8 642.5,175.9 663.7,172.1 685.2,168.3 707,164.5 729.1,160.8 751.6,157.2 774.3,153.7 797.4,150.1 820.8,146.7 844.5,143.3 868.5,139.9 892.8,136.6 917.4,133.3 942.3,130.1 967.5,126.9 993,123.8 1018.8,120.7 1044.9,117.6 1071.2,114.6 1097.9,111.6 1124.8,108.7 1152,105.8 L1152,97 1124.8,99.7 1097.9,102.4 1071.2,105.2 1044.9,107.9 1018.8,110.8 993,113.6 967.5,116.5 942.3,119.4 917.4,122.4 892.8,125.4 868.5,128.4 844.5,131.5 820.8,134.6 797.4,137.7 774.3,140.9 751.6,144.1 729.1,147.3 707,150.6 685.2,154 663.7,157.4 642.5,160.8 621.7,164.2 601.2,167.7 581,171.3 561.2,174.8 541.7,178.5 522.6,182.1 503.9,185.8 485.4,189.6 467.4,193.4 449.7,197.2 432.4,201 415.5,204.9 399,208.9 382.9,212.8 367.1,216.8 351.8,220.8 336.9,224.8 322.4,228.9 308.3,232.9 294.7,237 281.5,241.1 268.8,245.1 256.5,249.1 244.7,253.1 233.4,257.1 222.7,261 212.4,264.8 202.7,268.5 193.6,272.2 185,275.6 177.1,279 169.8,282.1 163.2,285 157.4,287.6 152.4,289.9 148.3,291.8 145.3,293.3 143.8,294Z"/>
<path id="b29" d="M143.8,342.1 145.3,341 148.3,338.9 152.4,336.2 157.4,332.8 163.2,329 169.8,324.9 177.1,320.5 185,315.9 193.6,311.1 202.7,306.2 212.4,301.1 222.7,296 233.4,290.9 244.7,285.7 256.5,280.6 268.8,275.4 281.5,270.2 294.7,265.1 308.3,260.1 322.4,255 336.9,250.1 351.8,245.1 367.1,240.3 382.9,235.5 399,230.7 415.5,226.1 432.4,221.5 449.7,216.9 467.4,212.5 485.4,208.1 503.9,203.7 522.6,199.5 541.7,195.3 561.2,191.1 581,187 601.2,183 621.7,179.1 642.5,175.2 663.7,171.4 685.2,167.6 707,163.9 729.1,160.2 751.6,156.6 774.3,153 797.4,149.5 820.8,146.1 844.5,142.7 868.5,139.3 892.8,136 917.4,132.8 942.3,129.6 967.5,126.4 993,123.3 1018.8,120.2 1044.9,117.2 1071.2,114.2 1097.9,111.2 1124.8,108.3 1152,105.4 L1152,97 1124.8,99.7 1097.9,102.4 1071.2,105.2 1044.9,107.9 1018.8,110.8 993,113.6 967.5,116.5 942.3,119.4 917.4,122.4 892.8,125.4 868.5,128.4 844.5,131.5 820.8,134.6 797.4,137.7 774.3,140.9 751.6,144.1 729.1,147.3 707,150.6 685.2,154 663.7,157.4 642.5,160.8 621.7,164.2 601.2,167.7 581,171.3 561.2,174.8 541.7,178.5 522.6,182.1 503.9,185.8 485.4,189.6 467.4,193.4 449.7,197.2 432.4,201 415.5,204.9 399,208.9 382.9,212.8 367.1,216.8 351.8,220.8 336.9,224.8 322.4,228.9 308.3,232.9 294.7,237 281.5,241.1 268.8,245.1 256.5,249.1 244.7,253.1 233.4,257.1 222.7,261 212.4,264.8 202.7,268.5 193.6,272.2 185,275.6 177.1,279 169.8,282.1 163.2,285 157.4,287.6 152.4,289.9 148.3,291.8 145.3,293.3 143.8,294Z"/>
<path id="b30" d="M143.8,339.3 145.3,338.3 148.3,336.2 152.4,333.5 157.4,330.2 163.2,326.6 169.8,322.5 177.1,318.2 185,313.7 193.6,308.9 202.7,304.1 212.4,299.2 222.7,294.1 233.4,289.1 244.7,284 256.5,278.9 268.8,273.8 281.5,268.7 294.7,263.6 308.3,258.6 322.4,253.7 336.9,248.7 351.8,243.9 367.1,239 382.9,234.3 399,229.6 415.5,225 432.4,220.4 449.7,215.9 467.4,211.5 485.4,207.1 503.9,202.8 522.6,198.6 541.7,194.4 561.2,190.3 581,186.2 601.2,182.3 621.7,178.3 642.5,174.5 663.7,170.6 685.2,166.9 707,163.2 729.1,159.6 751.6,156 774.3,152.4 797.4,149 820.8,145.5 844.5,142.1 868.5,138.8 892.8,135.5 917.4,132.3 942.3,129.1 967.5,125.9 993,122.8 1018.8,119.7 1044.9,116.7 1071.2,113.7 1097.9,110.8 1124.8,107.9 1152,105 L1152,97 1124.8,99.7 1097.9,102.4 1071.2,105.2 1044.9,107.9 1018.8,110.8 993,113.6 967.5,116.5 942.3,119.4 917.4,122.4 892.8,125.4 868.5,128.4 844.5,131.5 820.8,134.6 797.4,137.7 774.3,140.9 751.6,144.1 729.1,147.3 707,150.6 685.2,154 663.7,157.4 642.5,160.8 621.7,164.2 601.2,167.7 581,171.3 561.2,174.8 541.7,178.5 522.6,182.1 503.9,185.8 485.4,189.6 467.4,193.4 449.7,197.2 432.4,201 415.5,204.9 399,208.9 382.9,212.8 367.1,216.8 351.8,220.8 336.9,224.8 322.4,228.9 308.3,232.9 294.7,237 281.5,241.1 268.8,245.1 256.5,249.1 244.7,253.1 233.4,257.1 222.7,261 212.4,264.8 202.7,268.5 193.6,272.2 185,275.6 177.1,279 169.8,282.1 163.2,285 157.4,287.6 152.4,289.9 148.3,291.8 145.3,293.3 143.8,294Z"/>
<path id="b31" d="M143.8,336.6 145.3,335.6 148.3,333.6 152.4,330.9 157.4,327.7 163.2,324.1 169.8,320.1 177.1,315.9 185,311.5 193.6,306.8 202.7,302.1 212.4,297.2 222.7,292.2 233.4,287.3 244.7,282.2 256.5,277.2 268.8,272.2 281.5,267.2 294.7,262.2 308.3,257.2 322.4,252.3 336.9,247.4 351.8,242.6 367.1,237.8 382.9,233.1 399,228.5 415.5,223.9 432.4,219.4 449.7,214.9 467.4,210.5 485.4,206.2 503.9,201.9 522.6,197.7 541.7,193.6 561.2,189.5 581,185.4 601.2,181.5 621.7,177.6 642.5,173.7 663.7,169.9 685.2,166.2 707,162.5 729.1,158.9 751.6,155.3 774.3,151.8 797.4,148.4 820.8,144.9 844.5,141.6 868.5,138.3 892.8,135 917.4,131.8 942.3,128.6 967.5,125.4 993,122.3 1018.8,119.3 1044.9,116.3 1071.2,113.3 1097.9,110.3 1124.8,107.4 1152,104.6 L1152,97 1124.8,99.7 1097.9,102.4 1071.2,105.2 1044.9,107.9 1018.8,110.8 993,113.6 967.5,116.5 942.3,119.4 917.4,122.4 892.8,125.4 868.5,128.4 844.5,131.5 820.8,134.6 797.4,137.7 774.3,140.9 751.6,144.1 729.1,147.3 707,150.6 685.2,154 663.7,157.4 642.5,160.8 621.7,164.2 601.2,167.7 581,171.3 561.2,174.8 541.7,178.5 522.6,182.1 503.9,185.8 485.4,189.6 467.4,193.4 449.7,197.2 432.4,201 415.5,204.9 399,208.9 382.9,212.8 367.1,216.8 351.8,220.8 336.9,224.8 322.4,228.9 308.3,232.9 294.7,237 281.5,241.1 268.8,245.1 256.5,249.1 244.7,253.1 233.4,257.1 222.7,261 212.4,264.8 202.7,268.5 193.6,272.2 185,275.6 177.1,279 169.8,282.1 163.2,285 157.4,287.6 152.4,289.9 148.3,291.8 145.3,293.3 143.8,294Z"/>
<path id="b32" d="M143.8,334 145.3,333 148.3,331 152.4,328.4 157.4,325.3 163.2,321.7 169.8,317.8 177.1,313.7 185,309.3 193.6,304.7 202.7,300 212.4,295.3 222.7,290.4 233.4,285.5 244.7,280.5 256.5,275.5 268.8,270.6 281.5,265.6 294.7,260.7 308.3,255.8 322.4,250.9 336.9,246.1 351.8,241.4 367.1,236.6 382.9,232 399,227.4 415.5,222.8 432.4,218.3 449.7,213.9 467.4,209.5 485.4,205.2 503.9,201 522.6,196.8 541.7,192.7 561.2,188.7 581,184.7 601.2,180.7 621.7,176.8 642.5,173 663.7,169.3 685.2,165.5 707,161.9 729.1,158.3 751.6,154.7 774.3,151.2 797.4,147.8 820.8,144.4 844.5,141 868.5,137.7 892.8,134.5 917.4,131.2 942.3,128.1 967.5,124.9 993,121.9 1018.8,118.8 1044.9,115.8 1071.2,112.8 1097.9,109.9 1124.8,107 1152,104.2 L1152,97 1124.8,99.7 1097.9,102.4 1071.2,105.2 1044.9,107.9 1018.8,110.8 993,113.6 967.5,116.5 942.3,119.4 917.4,122.4 892.8,125.4 868.5,128.4 844.5,131.5 820.8,134.6 797.4,137.7 774.3,140.9 751.6,144.1 729.1,147.3 707,150.6 685.2,154 663.7,157.4 642.5,160.8 621.7,164.2 601.2,167.7 581,171.3 561.2,174.8 541.7,178.5 522.6,182.1 503.9,185.8 485.4,189.6 467.4,193.4 449.7,197.2 432.4,201 415.5,204.9 399,208.9 382.9,212.8 367.1,216.8 351.8,220.8 336.9,224.8 322.4,228.9 308.3,232.9 294.7,237 281.5,241.1 268.8,245.1 256.5,249.1 244.7,253.1 233.4,257.1 222.7,261 212.4,264.8 202.7,268.5 193.6,272.2 185,275.6 177.1,279 169.8,282.1 163.2,285 157.4,287.6 152.4,289.9 148.3,291.8 145.3,293.3 143.8,294Z"/>
<path id="b33" d="M143.8,331.4 145.3,330.4 148.3,328.5 152.4,325.9 157.4,322.8 163.2,319.4 169.8,315.5 177.1,311.5 185,307.2 193.6,302.7 202.7,298.1 212.4,293.4 222.7,288.6 233.4,283.7 244.7,278.8 256.5,273.9 268.8,269 281.5,264.1 294.7,259.3 308.3,254.4 322.4,249.6 336.9,244.8 351.8,240.1 367.1,235.4 382.9,230.8 399,226.3 415.5,221.8 432.4,217.3 449.7,212.9 467.4,208.6 485.4,204.3 503.9,200.1 522.6,196 541.7,191.9 561.2,187.8 581,183.9 601.2,180 621.7,176.1 642.5,172.3 663.7,168.6 685.2,164.9 707,161.2 729.1,157.6 751.6,154.1 774.3,150.6 797.4,147.2 820.8,143.8 844.5,140.5 868.5,137.2 892.8,133.9 917.4,130.7 942.3,127.6 967.5,124.5 993,121.4 1018.8,118.3 1044.9,115.4 1071.2,112.4 1097.9,109.5 1124.8,106.6 1152,103.8 L1152,97 1124.8,99.7 1097.9,102.4 1071.2,105.2 1044.9,107.9 1018.8,110.8 993,113.6 967.5,116.5 942.3,119.4 917.4,122.4 892.8,125.4 868.5,128.4 844.5,131.5 820.8,134.6 797.4,137.7 774.3,140.9 751.6,144.1 729.1,147.3 707,150.6 685.2,154 663.7,157.4 642.5,160.8 621.7,164.2 601.2,167.7 581,171.3 561.2,174.8 541.7,178.5 522.6,182.1 503.9,185.8 485.4,189.6 467.4,193.4 449.7,197.2 432.4,201 415.5,204.9 399,208.9 382.9,212.8 367.1,216.8 351.8,220.8 336.9,224.8 322.4,228.9 308.3,232.9 294.7,237 281.5,241.1 268.8,245.1 256.5,249.1 244.7,253.1 233.4,257.1 222.7,261 212.4,264.8 202.7,268.5 193.6,272.2 185,275.6 177.1,279 169.8,282.1 163.2,285 157.4,287.6 152.4,289.9 148.3,291.8 145.3,293.3 143.8,294Z"/>
<path id="b34" d="M143.8,328.8 145.3,327.9 148.3,326 152.4,323.5 157.4,320.5 163.2,317.1 169.8,313.3 177.1,309.3 185,305.1 193.6,300.7 202.7,296.1 212.4,291.5 222.7,286.8 233.4,282 244.7,277.2 256.5,272.3 268.8,267.5 281.5,262.6 294.7,257.8 308.3,253 322.4,248.3 336.9,243.6 351.8,238.9 367.1,234.3 382.9,229.7 399,225.2 415.5,220.7 432.4,216.3 449.7,211.9 467.4,207.6 485.4,203.4 503.9,199.2 522.6,195.1 541.7,191 561.2,187 581,183.1 601.2,179.2 621.7,175.4 642.5,171.6 663.7,167.9 685.2,164.2 707,160.6 729.1,157 751.6,153.5 774.3,150 797.4,146.6 820.8,143.2 844.5,139.9 868.5,136.6 892.8,133.4 917.4,130.2 942.3,127.1 967.5,124 993,120.9 1018.8,117.9 1044.9,114.9 1071.2,112 1097.9,109.1 1124.8,106.2 1152,103.3 L1152,97 1124.8,99.7 1097.9,102.4 1071.2,105.2 1044.9,107.9 1018.8,110.8 993,113.6 967.5,116.5 942.3,119.4 917.4,122.4 892.8,125.4 868.5,128.4 844.5,131.5 820.8,134.6 797.4,137.7 774.3,140.9 751.6,144.1 729.1,147.3 707,150.6 685.2,154 663.7,157.4 642.5,160.8 621.7,164.2 601.2,167.7 581,171.3 561.2,174.8 541.7,178.5 522.6,182.1 503.9,185.8 485.4,189.6 467.4,193.4 449.7,197.2 432.4,201 415.5,204.9 399,208.9 382.9,212.8 367.1,216.8 351.8,220.8 336.9,224.8 322.4,228.9 308.3,232.9 294.7,237 281.5,241.1 268.8,245.1 256.5,249.1 244.7,253.1 233.4,257.1 222.7,261 212.4,264.8 202.7,268.5 193.6,272.2 185,275.6 177.1,279 169.8,282.1 163.2,285 157.4,287.6 152.4,289.9 148.3,291.8 145.3,293.3 143.8,294Z"/>
<path id="b35" d="M143.8,326.3 145.3,325.4 148.3,323.6 152.4,321.1 157.4,318.1 163.2,314.8 169.8,311.1 177.1,307.2 185,303 193.6,298.7 202.7,294.2 212.4,289.6 222.7,285 233.4,280.3 244.7,275.5 256.5,270.7 268.8,266 281.5,261.2 294.7,256.4 308.3,251.7 322.4,247 336.9,242.3 351.8,237.7 367.1,233.1 382.9,228.6 399,224.1 415.5,219.7 432.4,215.3 449.7,211 467.4,206.7 485.4,202.5 503.9,198.3 522.6,194.3 541.7,190.2 561.2,186.2 581,182.3 601.2,178.5 621.7,174.6 642.5,170.9 663.7,167.2 685.2,163.5 707,159.9 729.1,156.4 751.6,152.9 774.3,149.4 797.4,146 820.8,142.7 844.5,139.4 868.5,136.1 892.8,132.9 917.4,129.7 942.3,126.6 967.5,123.5 993,120.4 1018.8,117.4 1044.9,114.5 1071.2,111.5 1097.9,108.6 1124.8,105.8 1152,102.9 L1152,97 1124.8,99.7 1097.9,102.4 1071.2,105.2 1044.9,107.9 1018.8,110.8 993,113.6 967.5,116.5 942.3,119.4 917.4,122.4 892.8,125.4 868.5,128.4 844.5,131.5 820.8,134.6 797.4,137.7 774.3,140.9 751.6,144.1 729.1,147.3 707,150.6 685.2,154 663.7,157.4 642.5,160.8 621.7,164.2 601.2,167.7 581,171.3 561.2,174.8 541.7,178.5 522.6,182.1 503.9,185.8 485.4,189.6 467.4,193.4 449.7,197.2 432.4,201 415.5,204.9 399,208.9 382.9,212.8 367.1,216.8 351.8,220.8 336.9,224.8 322.4,228.9 308.3,232.9 294.7,237 281.5,241.1 268.8,245.1 256.5,249.1 244.7,253.1 233.4,257.1 222.7,261 212.4,264.8 202.7,268.5 193.6,272.2 185,275.6 177.1,279 169.8,282.1 163.2,285 157.4,287.6 152.4,289.9 148.3,291.8 145.3,293.3 143.8,294Z"/>
<path id="b36" d="M143.8,323.9 145.3,323 148.3,321.2 152.4,318.8 157.4,315.9 163.2,312.6 169.8,308.9 177.1,305.1 185,301 193.6,296.7 202.7,292.3 212.4,287.8 222.7,283.2 233.4,278.6 244.7,273.9 256.5,269.2 268.8,264.5 281.5,259.7 294.7,255 308.3,250.3 322.4,245.7 336.9,241.1 351.8,236.5 367.1,231.9 382.9,227.5 399,223 415.5,218.6 432.4,214.3 449.7,210 467.4,205.8 485.4,201.6 503.9,197.5 522.6,193.4 541.7,189.4 561.2,185.5 581,181.6 601.2,177.7 621.7,173.9 642.5,170.2 663.7,166.5 685.2,162.9 707,159.3 729.1,155.8 751.6,152.3 774.3,148.9 797.4,145.5 820.8,142.1 844.5,138.8 868.5,135.6 892.8,132.4 917.4,129.2 942.3,126.1 967.5,123 993,120 1018.8,117 1044.9,114 1071.2,111.1 1097.9,108.2 1124.8,105.4 1152,102.5 L1152,97 1124.8,99.7 1097.9,102.4 1071.2,105.2 1044.9,107.9 1018.8,110.8 993,113.6 967.5,116.5 942.3,119.4 917.4,122.4 892.8,125.4 868.5,128.4 844.5,131.5 820.8,134.6 797.4,137.7 774.3,140.9 751.6,144.1 729.1,147.3 707,150.6 685.2,154 663.7,157.4 642.5,160.8 621.7,164.2 601.2,167.7 581,171.3 561.2,174.8 541.7,178.5 522.6,182.1 503.9,185.8 485.4,189.6 467.4,193.4 449.7,197.2 432.4,201 415.5,204.9 399,208.9 382.9,212.8 367.1,216.8 351.8,220.8 336.9,224.8 322.4,228.9 308.3,232.9 294.7,237 281.5,241.1 268.8,245.1 256.5,249.1 244.7,253.1 233.4,257.1 222.7,261 212.4,264.8 202.7,268.5 193.6,272.2 185,275.6 177.1,279 169.8,282.1 163.2,285 157.4,287.6 152.4,289.9 148.3,291.8 145.3,293.3 143.8,294Z"/>
<path id="b37" d="M143.8,321.5 145.3,320.6 148.3,318.8 152.4,316.5 157.4,313.6 163.2,310.4 169.8,306.8 177.1,303 185,299 193.6,294.8 202.7,290.5 212.4,286 222.7,281.5 233.4,276.9 244.7,272.3 256.5,267.6 268.8,263 281.5,258.3 294.7,253.6 308.3,249 322.4,244.4 336.9,239.8 351.8,235.3 367.1,230.8 382.9,226.3 399,221.9 415.5,217.6 432.4,213.3 449.7,209 467.4,204.8 485.4,200.7 503.9,196.6 522.6,192.6 541.7,188.6 561.2,184.7 581,180.8 601.2,177 621.7,173.2 642.5,169.5 663.7,165.8 685.2,162.2 707,158.7 729.1,155.1 751.6,151.7 774.3,148.3 797.4,144.9 820.8,141.6 844.5,138.3 868.5,135.1 892.8,131.9 917.4,128.7 942.3,125.6 967.5,122.5 993,119.5 1018.8,116.5 1044.9,113.6 1071.2,110.7 1097.9,107.8 1124.8,104.9 1152,102.1 L1152,97 1124.8,99.7 1097.9,102.4 1071.2,105.2 1044.9,107.9 1018.8,110.8 993,113.6 967.5,116.5 942.3,119.4 917.4,122.4 892.8,125.4 868.5,128.4 844.5,131.5 820.8,134.6 797.4,137.7 774.3,140.9 751.6,144.1 729.1,147.3 707,150.6 685.2,154 663.7,157.4 642.5,160.8 621.7,164.2 601.2,167.7 581,171.3 561.2,174.8 541.7,178.5 522.6,182.1 503.9,185.8 485.4,189.6 467.4,193.4 449.7,197.2 432.4,201 415.5,204.9 399,208.9 382.9,212.8 367.1,216.8 351.8,220.8 336.9,224.8 322.4,228.9 308.3,232.9 294.7,237 281.5,241.1 268.8,245.1 256.5,249.1 244.7,253.1 233.4,257.1 222.7,261 212.4,264.8 202.7,268.5 193.6,272.2 185,275.6 177.1,279 169.8,282.1 163.2,285 157.4,287.6 152.4,289.9 148.3,291.8 145.3,293.3 143.8,294Z"/>
<path id="b38" d="M143.8,319.1 145.3,318.3 148.3,316.5 152.4,314.2 157.4,311.4 163.2,308.2 169.8,304.7 177.1,301 185,297 193.6,292.9 202.7,288.6 212.4,284.2 222.7,279.8 233.4,275.3 244.7,270.7 256.5,266.1 268.8,261.5 281.5,256.9 294.7,252.3 308.3,247.7 322.4,243.1 336.9,238.6 351.8,234.1 367.1,229.7 382.9,225.3 399,220.9 415.5,216.6 432.4,212.3 449.7,208.1 467.4,203.9 485.4,199.8 503.9,195.7 522.6,191.7 541.7,187.8 561.2,183.9 581,180 601.2,176.2 621.7,172.5 642.5,168.8 663.7,165.2 685.2,161.6 707,158 729.1,154.5 751.6,151.1 774.3,147.7 797.4,144.3 820.8,141 844.5,137.8 868.5,134.5 892.8,131.4 917.4,128.2 942.3,125.1 967.5,122.1 993,119 1018.8,116.1 1044.9,113.1 1071.2,110.2 1097.9,107.4 1124.8,104.5 1152,101.7 L1152,97 1124.8,99.7 1097.9,102.4 1071.2,105.2 1044.9,107.9 1018.8,110.8 993,113.6 967.5,116.5 942.3,119.4 917.4,122.4 892.8,125.4 868.5,128.4 844.5,131.5 820.8,134.6 797.4,137.7 774.3,140.9 751.6,144.1 729.1,147.3 707,150.6 685.2,154 663.7,157.4 642.5,160.8 621.7,164.2 601.2,167.7 581,171.3 561.2,174.8 541.7,178.5 522.6,182.1 503.9,185.8 485.4,189.6 467.4,193.4 449.7,197.2 432.4,201 415.5,204.9 399,208.9 382.9,212.8 367.1,216.8 351.8,220.8 336.9,224.8 322.4,228.9 308.3,232.9 294.7,237 281.5,241.1 268.8,245.1 256.5,249.1 244.7,253.1 233.4,257.1 222.7,261 212.4,264.8 202.7,268.5 193.6,272.2 185,275.6 177.1,279 169.8,282.1 163.2,285 157.4,287.6 152.4,289.9 148.3,291.8 145.3,293.3 143.8,294Z"/>
<path id="b39" d="M143.8,316.8 145.3,316 148.3,314.3 152.4,312 157.4,309.2 163.2,306.1 169.8,302.7 177.1,299 185,295.1 193.6,291 202.7,286.8 212.4,282.5 222.7,278.1 233.4,273.6 244.7,269.1 256.5,264.6 268.8,260 281.5,255.5 294.7,250.9 308.3,246.4 322.4,241.9 336.9,237.4 351.8,233 367.1,228.5 382.9,224.2 399,219.8 415.5,215.6 432.4,211.3 449.7,207.1 467.4,203 485.4,198.9 503.9,194.9 522.6,190.9 541.7,187 561.2,183.1 581,179.3 601.2,175.5 621.7,171.8 642.5,168.1 663.7,164.5 685.2,160.9 707,157.4 729.1,153.9 751.6,150.5 774.3,147.1 797.4,143.8 820.8,140.5 844.5,137.2 868.5,134 892.8,130.8 917.4,127.7 942.3,124.6 967.5,121.6 993,118.6 1018.8,115.6 1044.9,112.7 1071.2,109.8 1097.9,106.9 1124.8,104.1 1152,101.3 L1152,97 1124.8,99.7 1097.9,102.4 1071.2,105.2 1044.9,107.9 1018.8,110.8 993,113.6 967.5,116.5 942.3,119.4 917.4,122.4 892.8,125.4 868.5,128.4 844.5,131.5 820.8,134.6 797.4,137.7 774.3,140.9 751.6,144.1 729.1,147.3 707,150.6 685.2,154 663.7,157.4 642.5,160.8 621.7,164.2 601.2,167.7 581,171.3 561.2,174.8 541.7,178.5 522.6,182.1 503.9,185.8 485.4,189.6 467.4,193.4 449.7,197.2 432.4,201 415.5,204.9 399,208.9 382.9,212.8 367.1,216.8 351.8,220.8 336.9,224.8 322.4,228.9 308.3,232.9 294.7,237 281.5,241.1 268.8,245.1 256.5,249.1 244.7,253.1 233.4,257.1 222.7,261 212.4,264.8 202.7,268.5 193.6,272.2 185,275.6 177.1,279 169.8,282.1 163.2,285 157.4,287.6 152.4,289.9 148.3,291.8 145.3,293.3 143.8,294Z"/>
<path id="b40" d="M143.8,314.6 145.3,313.7 148.3,312.1 152.4,309.8 157.4,307.1 163.2,304 169.8,300.7 177.1,297 185,293.2 193.6,289.2 202.7,285 212.4,280.8 222.7,276.4 233.4,272 244.7,267.6 256.5,263.1 268.8,258.6 281.5,254.1 294.7,249.6 308.3,245.1 322.4,240.6 336.9,236.2 351.8,231.8 367.1,227.4 382.9,223.1 399,218.8 415.5,214.6 432.4,210.3 449.7,206.2 467.4,202.1 485.4,198 503.9,194 522.6,190.1 541.7,186.2 561.2,182.3 581,178.5 601.2,174.8 621.7,171.1 642.5,167.4 663.7,163.8 685.2,160.3 707,156.8 729.1,153.3 751.6,149.9 774.3,146.5 797.4,143.2 820.8,139.9 844.5,136.7 868.5,133.5 892.8,130.3 917.4,127.2 942.3,124.2 967.5,121.1 993,118.1 1018.8,115.2 1044.9,112.2 1071.2,109.4 1097.9,106.5 1124.8,103.7 1152,100.9 L1152,97 1124.8,99.7 1097.9,102.4 1071.2,105.2 1044.9,107.9 1018.8,110.8 993,113.6 967.5,116.5 942.3,119.4 917.4,122.4 892.8,125.4 868.5,128.4 844.5,131.5 820.8,134.6 797.4,137.7 774.3,140.9 751.6,144.1 729.1,147.3 707,150.6 685.2,154 663.7,157.4 642.5,160.8 621.7,164.2 601.2,167.7 581,171.3 561.2,174.8 541.7,178.5 522.6,182.1 503.9,185.8 485.4,189.6 467.4,193.4 449.7,197.2 432.4,201 415.5,204.9 399,208.9 382.9,212.8 367.1,216.8 351.8,220.8 336.9,224.8 322.4,228.9 308.3,232.9 294.7,237 281.5,241.1 268.8,245.1 256.5,249.1 244.7,253.1 233.4,257.1 222.7,261 212.4,264.8 202.7,268.5 193.6,272.2 185,275.6 177.1,279 169.8,282.1 163.2,285 157.4,287.6 152.4,289.9 148.3,291.8 145.3,293.3 143.8,294Z"/>
<path id="b41" d="M143.8,312.4 145.3,311.5 148.3,309.9 152.4,307.7 157.4,305 163.2,302 169.8,298.7 177.1,295.1 185,291.3 193.6,287.4 202.7,283.3 212.4,279.1 222.7,274.8 233.4,270.5 244.7,266.1 256.5,261.6 268.8,257.2 281.5,252.7 294.7,248.3 308.3,243.8 322.4,239.4 336.9,235 351.8,230.7 367.1,226.3 382.9,222 399,217.8 415.5,213.6 432.4,209.4 449.7,205.3 467.4,201.2 485.4,197.2 503.9,193.2 522.6,189.3 541.7,185.4 561.2,181.6 581,177.8 601.2,174.1 621.7,170.4 642.5,166.7 663.7,163.2 685.2,159.6 707,156.1 729.1,152.7 751.6,149.3 774.3,145.9 797.4,142.6 820.8,139.4 844.5,136.1 868.5,133 892.8,129.8 917.4,126.7 942.3,123.7 967.5,120.6 993,117.7 1018.8,114.7 1044.9,111.8 1071.2,108.9 1097.9,106.1 1124.8,103.3 1152,100.5 L1152,97 1124.8,99.7 1097.9,102.4 1071.2,105.2 1044.9,107.9 1018.8,110.8 993,113.6 967.5,116.5 942.3,119.4 917.4,122.4 892.8,125.4 868.5,128.4 844.5,131.5 820.8,134.6 797.4,137.7 774.3,140.9 751.6,144.1 729.1,147.3 707,150.6 685.2,154 663.7,157.4 642.5,160.8 621.7,164.2 601.2,167.7 581,171.3 561.2,174.8 541.7,178.5 522.6,182.1 503.9,185.8 485.4,189.6 467.4,193.4 449.7,197.2 432.4,201 415.5,204.9 399,208.9 382.9,212.8 367.1,216.8 351.8,220.8 336.9,224.8 322.4,228.9 308.3,232.9 294.7,237 281.5,241.1 268.8,245.1 256.5,249.1 244.7,253.1 233.4,257.1 222.7,261 212.4,264.8 202.7,268.5 193.6,272.2 185,275.6 177.1,279 169.8,282.1 163.2,285 157.4,287.6 152.4,289.9 148.3,291.8 145.3,293.3 143.8,294Z"/>
<path id="b42" d="M143.8,310.2 145.3,309.4 148.3,307.7 152.4,305.6 157.4,303 163.2,300 169.8,296.7 177.1,293.2 185,289.5 193.6,285.6 202.7,281.6 212.4,277.4 222.7,273.2 233.4,268.9 244.7,264.6 256.5,260.2 268.8,255.8 281.5,251.4 294.7,247 308.3,242.6 322.4,238.2 336.9,233.8 351.8,229.5 367.1,225.2 382.9,221 399,216.7 415.5,212.6 432.4,208.4 449.7,204.3 467.4,200.3 485.4,196.3 503.9,192.4 522.6,188.5 541.7,184.6 561.2,180.8 581,177 601.2,173.3 621.7,169.7 642.5,166.1 663.7,162.5 685.2,159 707,155.5 729.1,152.1 751.6,148.7 774.3,145.4 797.4,142.1 820.8,138.8 844.5,135.6 868.5,132.5 892.8,129.3 917.4,126.2 942.3,123.2 967.5,120.2 993,117.2 1018.8,114.3 1044.9,111.4 1071.2,108.5 1097.9,105.7 1124.8,102.9 1152,100.1 L1152,97 1124.8,99.7 1097.9,102.4 1071.2,105.2 1044.9,107.9 1018.8,110.8 993,113.6 967.5,116.5 942.3,119.4 917.4,122.4 892.8,125.4 868.5,128.4 844.5,131.5 820.8,134.6 797.4,137.7 774.3,140.9 751.6,144.1 729.1,147.3 707,150.6 685.2,154 663.7,157.4 642.5,160.8 621.7,164.2 601.2,167.7 581,171.3 561.2,174.8 541.7,178.5 522.6,182.1 503.9,185.8 485.4,189.6 467.4,193.4 449.7,197.2 432.4,201 415.5,204.9 399,208.9 382.9,212.8 367.1,216.8 351.8,220.8 336.9,224.8 322.4,228.9 308.3,232.9 294.7,237 281.5,241.1 268.8,245.1 256.5,249.1 244.7,253.1 233.4,257.1 222.7,261 212.4,264.8 202.7,268.5 193.6,272.2 185,275.6 177.1,279 169.8,282.1 163.2,285 157.4,287.6 152.4,289.9 148.3,291.8 145.3,293.3 143.8,294Z"/>
<path id="b43" d="M143.8,308 145.3,307.2 148.3,305.6 152.4,303.5 157.4,300.9 163.2,298 169.8,294.8 177.1,291.3 185,287.7 193.6,283.8 202.7,279.9 212.4,275.8 222.7,271.6 233.4,267.4 244.7,263.1 256.5,258.7 268.8,254.4 281.5,250 294.7,245.7 308.3,241.3 322.4,237 336.9,232.7 351.8,228.4 367.1,224.1 382.9,219.9 399,215.7 415.5,211.6 432.4,207.5 449.7,203.4 467.4,199.4 485.4,195.4 503.9,191.5 522.6,187.6 541.7,183.8 561.2,180 581,176.3 601.2,172.6 621.7,169 642.5,165.4 663.7,161.8 685.2,158.3 707,154.9 729.1,151.5 751.6,148.1 774.3,144.8 797.4,141.5 820.8,138.3 844.5,135.1 868.5,131.9 892.8,128.8 917.4,125.7 942.3,122.7 967.5,119.7 993,116.8 1018.8,113.8 1044.9,110.9 1071.2,108.1 1097.9,105.3 1124.8,102.5 1152,99.7 L1152,97 1124.8,99.7 1097.9,102.4 1071.2,105.2 1044.9,107.9 1018.8,110.8 993,113.6 967.5,116.5 942.3,119.4 917.4,122.4 892.8,125.4 868.5,128.4 844.5,131.5 820.8,134.6 797.4,137.7 774.3,140.9 751.6,144.1 729.1,147.3 707,150.6 685.2,154 663.7,157.4 642.5,160.8 621.7,164.2 601.2,167.7 581,171.3 561.2,174.8 541.7,178.5 522.6,182.1 503.9,185.8 485.4,189.6 467.4,193.4 449.7,197.2 432.4,201 415.5,204.9 399,208.9 382.9,212.8 367.1,216.8 351.8,220.8 336.9,224.8 322.4,228.9 308.3,232.9 294.7,237 281.5,241.1 268.8,245.1 256.5,249.1 244.7,253.1 233.4,257.1 222.7,261 212.4,264.8 202.7,268.5 193.6,272.2 185,275.6 177.1,279 169.8,282.1 163.2,285 157.4,287.6 152.4,289.9 148.3,291.8 145.3,293.3 143.8,294Z"/>
<path id="b44" d="M143.8,305.9 145.3,305.1 148.3,303.6 152.4,301.5 157.4,298.9 163.2,296.1 169.8,292.9 177.1,289.5 185,285.9 193.6,282.1 202.7,278.2 212.4,274.1 222.7,270 233.4,265.8 244.7,261.6 256.5,257.3 268.8,253 281.5,248.7 294.7,244.4 308.3,240.1 322.4,235.8 336.9,231.5 351.8,227.3 367.1,223.1 382.9,218.9 399,214.7 415.5,210.6 432.4,206.5 449.7,202.5 467.4,198.5 485.4,194.6 503.9,190.7 522.6,186.8 541.7,183 561.2,179.3 581,175.6 601.2,171.9 621.7,168.3 642.5,164.7 663.7,161.2 685.2,157.7 707,154.3 729.1,150.9 751.6,147.5 774.3,144.2 797.4,141 820.8,137.7 844.5,134.6 868.5,131.4 892.8,128.3 917.4,125.3 942.3,122.2 967.5,119.2 993,116.3 1018.8,113.4 1044.9,110.5 1071.2,107.7 1097.9,104.9 1124.8,102.1 1152,99.3 L1152,97 1124.8,99.7 1097.9,102.4 1071.2,105.2 1044.9,107.9 1018.8,110.8 993,113.6 967.5,116.5 942.3,119.4 917.4,122.4 892.8,125.4 868.5,128.4 844.5,131.5 820.8,134.6 797.4,137.7 774.3,140.9 751.6,144.1 729.1,147.3 707,150.6 685.2,154 663.7,157.4 642.5,160.8 621.7,164.2 601.2,167.7 581,171.3 561.2,174.8 541.7,178.5 522.6,182.1 503.9,185.8 485.4,189.6 467.4,193.4 449.7,197.2 432.4,201 415.5,204.9 399,208.9 382.9,212.8 367.1,216.8 351.8,220.8 336.9,224.8 322.4,228.9 308.3,232.9 294.7,237 281.5,241.1 268.8,245.1 256.5,249.1 244.7,253.1 233.4,257.1 222.7,261 212.4,264.8 202.7,268.5 193.6,272.2 185,275.6 177.1,279 169.8,282.1 163.2,285 157.4,287.6 152.4,289.9 148.3,291.8 145.3,293.3 143.8,294Z"/>
<path id="b45" d="M143.8,303.9 145.3,303.1 148.3,301.5 152.4,299.5 157.4,297 163.2,294.2 169.8,291 177.1,287.7 185,284.1 193.6,280.4 202.7,276.5 212.4,272.5 222.7,268.5 233.4,264.3 244.7,260.1 256.5,255.9 268.8,251.7 281.5,247.4 294.7,243.1 308.3,238.9 322.4,234.6 336.9,230.4 351.8,226.2 367.1,222 382.9,217.8 399,213.7 415.5,209.6 432.4,205.6 449.7,201.6 467.4,197.7 485.4,193.7 503.9,189.9 522.6,186 541.7,182.3 561.2,178.5 581,174.8 601.2,171.2 621.7,167.6 642.5,164.1 663.7,160.5 685.2,157.1 707,153.7 729.1,150.3 751.6,147 774.3,143.7 797.4,140.4 820.8,137.2 844.5,134 868.5,130.9 892.8,127.8 917.4,124.8 942.3,121.8 967.5,118.8 993,115.8 1018.8,112.9 1044.9,110.1 1071.2,107.2 1097.9,104.4 1124.8,101.7 1152,98.9 L1152,97 1124.8,99.7 1097.9,102.4 1071.2,105.2 1044.9,107.9 1018.8,110.8 993,113.6 967.5,116.5 942.3,119.4 917.4,122.4 892.8,125.4 868.5,128.4 844.5,131.5 820.8,134.6 797.4,137.7 774.3,140.9 751.6,144.1 729.1,147.3 707,150.6 685.2,154 663.7,157.4 642.5,160.8 621.7,164.2 601.2,167.7 581,171.3 561.2,174.8 541.7,178.5 522.6,182.1 503.9,185.8 485.4,189.6 467.4,193.4 449.7,197.2 432.4,201 415.5,204.9 399,208.9 382.9,212.8 367.1,216.8 351.8,220.8 336.9,224.8 322.4,228.9 308.3,232.9 294.7,237 281.5,241.1 268.8,245.1 256.5,249.1 244.7,253.1 233.4,257.1 222.7,261 212.4,264.8 202.7,268.5 193.6,272.2 185,275.6 177.1,279 169.8,282.1 163.2,285 157.4,287.6 152.4,289.9 148.3,291.8 145.3,293.3 143.8,294Z"/>
<path id="b46" d="M143.8,301.8 145.3,301.1 148.3,299.5 152.4,297.5 157.4,295.1 163.2,292.3 169.8,289.2 177.1,285.9 185,282.4 193.6,278.7 202.7,274.9 212.4,270.9 222.7,266.9 233.4,262.8 244.7,258.7 256.5,254.5 268.8,250.3 281.5,246.1 294.7,241.9 308.3,237.7 322.4,233.5 336.9,229.3 351.8,225.1 367.1,220.9 382.9,216.8 399,212.7 415.5,208.7 432.4,204.7 449.7,200.7 467.4,196.8 485.4,192.9 503.9,189.1 522.6,185.3 541.7,181.5 561.2,177.8 581,174.1 601.2,170.5 621.7,166.9 642.5,163.4 663.7,159.9 685.2,156.5 707,153.1 729.1,149.7 751.6,146.4 774.3,143.1 797.4,139.9 820.8,136.7 844.5,133.5 868.5,130.4 892.8,127.3 917.4,124.3 942.3,121.3 967.5,118.3 993,115.4 1018.8,112.5 1044.9,109.6 1071.2,106.8 1097.9,104 1124.8,101.3 1152,98.6 L1152,97 1124.8,99.7 1097.9,102.4 1071.2,105.2 1044.9,107.9 1018.8,110.8 993,113.6 967.5,116.5 942.3,119.4 917.4,122.4 892.8,125.4 868.5,128.4 844.5,131.5 820.8,134.6 797.4,137.7 774.3,140.9 751.6,144.1 729.1,147.3 707,150.6 685.2,154 663.7,157.4 642.5,160.8 621.7,164.2 601.2,167.7 581,171.3 561.2,174.8 541.7,178.5 522.6,182.1 503.9,185.8 485.4,189.6 467.4,193.4 449.7,197.2 432.4,201 415.5,204.9 399,208.9 382.9,212.8 367.1,216.8 351.8,220.8 336.9,224.8 322.4,228.9 308.3,232.9 294.7,237 281.5,241.1 268.8,245.1 256.5,249.1 244.7,253.1 233.4,257.1 222.7,261 212.4,264.8 202.7,268.5 193.6,272.2 185,275.6 177.1,279 169.8,282.1 163.2,285 157.4,287.6 152.4,289.9 148.3,291.8 145.3,293.3 143.8,294Z"/>
<path id="b47" d="M143.8,299.8 145.3,299.1 148.3,297.6 152.4,295.6 157.4,293.2 163.2,290.4 169.8,287.4 177.1,284.1 185,280.6 193.6,277 202.7,273.3 212.4,269.4 222.7,265.4 233.4,261.4 244.7,257.3 256.5,253.2 268.8,249 281.5,244.8 294.7,240.6 308.3,236.5 322.4,232.3 336.9,228.1 351.8,224 367.1,219.9 382.9,215.8 399,211.8 415.5,207.7 432.4,203.8 449.7,199.8 467.4,195.9 485.4,192.1 503.9,188.2 522.6,184.5 541.7,180.7 561.2,177 581,173.4 601.2,169.8 621.7,166.2 642.5,162.7 663.7,159.3 685.2,155.8 707,152.4 729.1,149.1 751.6,145.8 774.3,142.5 797.4,139.3 820.8,136.1 844.5,133 868.5,129.9 892.8,126.8 917.4,123.8 942.3,120.8 967.5,117.9 993,114.9 1018.8,112.1 1044.9,109.2 1071.2,106.4 1097.9,103.6 1124.8,100.9 1152,98.2 L1152,97 1124.8,99.7 1097.9,102.4 1071.2,105.2 1044.9,107.9 1018.8,110.8 993,113.6 967.5,116.5 942.3,119.4 917.4,122.4 892.8,125.4 868.5,128.4 844.5,131.5 820.8,134.6 797.4,137.7 774.3,140.9 751.6,144.1 729.1,147.3 707,150.6 685.2,154 663.7,157.4 642.5,160.8 621.7,164.2 601.2,167.7 581,171.3 561.2,174.8 541.7,178.5 522.6,182.1 503.9,185.8 485.4,189.6 467.4,193.4 449.7,197.2 432.4,201 415.5,204.9 399,208.9 382.9,212.8 367.1,216.8 351.8,220.8 336.9,224.8 322.4,228.9 308.3,232.9 294.7,237 281.5,241.1 268.8,245.1 256.5,249.1 244.7,253.1 233.4,257.1 222.7,261 212.4,264.8 202.7,268.5 193.6,272.2 185,275.6 177.1,279 169.8,282.1 163.2,285 157.4,287.6 152.4,289.9 148.3,291.8 145.3,293.3 143.8,294Z"/>
<path id="b48" d="M143.8,297.8 145.3,297.1 148.3,295.6 152.4,293.7 157.4,291.3 163.2,288.6 169.8,285.6 177.1,282.4 185,279 193.6,275.4 202.7,271.7 212.4,267.8 222.7,263.9 233.4,259.9 244.7,255.9 256.5,251.8 268.8,247.7 281.5,243.6 294.7,239.4 308.3,235.3 322.4,231.1 336.9,227 351.8,222.9 367.1,218.9 382.9,214.8 399,210.8 415.5,206.8 432.4,202.8 449.7,198.9 467.4,195.1 485.4,191.2 503.9,187.4 522.6,183.7 541.7,180 561.2,176.3 581,172.7 601.2,169.1 621.7,165.6 642.5,162.1 663.7,158.6 685.2,155.2 707,151.8 729.1,148.5 751.6,145.2 774.3,142 797.4,138.8 820.8,135.6 844.5,132.5 868.5,129.4 892.8,126.3 917.4,123.3 942.3,120.4 967.5,117.4 993,114.5 1018.8,111.6 1044.9,108.8 1071.2,106 1097.9,103.2 1124.8,100.5 1152,97.8 L1152,97 1124.8,99.7 1097.9,102.4 1071.2,105.2 1044.9,107.9 1018.8,110.8 993,113.6 967.5,116.5 942.3,119.4 917.4,122.4 892.8,125.4 868.5,128.4 844.5,131.5 820.8,134.6 797.4,137.7 774.3,140.9 751.6,144.1 729.1,147.3 707,150.6 685.2,154 663.7,157.4 642.5,160.8 621.7,164.2 601.2,167.7 581,171.3 561.2,174.8 541.7,178.5 522.6,182.1 503.9,185.8 485.4,189.6 467.4,193.4 449.7,197.2 432.4,201 415.5,204.9 399,208.9 382.9,212.8 367.1,216.8 351.8,220.8 336.9,224.8 322.4,228.9 308.3,232.9 294.7,237 281.5,241.1 268.8,245.1 256.5,249.1 244.7,253.1 233.4,257.1 222.7,261 212.4,264.8 202.7,268.5 193.6,272.2 185,275.6 177.1,279 169.8,282.1 163.2,285 157.4,287.6 152.4,289.9 148.3,291.8 145.3,293.3 143.8,294Z"/>
<path id="b49" d="M143.8,295.9 145.3,295.2 148.3,293.7 152.4,291.8 157.4,289.4 163.2,286.8 169.8,283.8 177.1,280.7 185,277.3 193.6,273.8 202.7,270.1 212.4,266.3 222.7,262.4 233.4,258.5 244.7,254.5 256.5,250.5 268.8,246.4 281.5,242.3 294.7,238.2 308.3,234.1 322.4,230 336.9,225.9 351.8,221.9 367.1,217.8 382.9,213.8 399,209.8 415.5,205.9 432.4,201.9 449.7,198.1 467.4,194.2 485.4,190.4 503.9,186.6 522.6,182.9 541.7,179.2 561.2,175.6 581,172 601.2,168.4 621.7,164.9 642.5,161.4 663.7,158 685.2,154.6 707,151.2 729.1,147.9 751.6,144.7 774.3,141.4 797.4,138.2 820.8,135.1 844.5,132 868.5,128.9 892.8,125.9 917.4,122.9 942.3,119.9 967.5,117 993,114.1 1018.8,111.2 1044.9,108.4 1071.2,105.6 1097.9,102.8 1124.8,100.1 1152,97.4 L1152,97 1124.8,99.7 1097.9,102.4 1071.2,105.2 1044.9,107.9 1018.8,110.8 993,113.6 967.5,116.5 942.3,119.4 917.4,122.4 892.8,125.4 868.5,128.4 844.5,131.5 820.8,134.6 797.4,137.7 774.3,140.9 751.6,144.1 729.1,147.3 707,150.6 685.2,154 663.7,157.4 642.5,160.8 621.7,164.2 601.2,167.7 581,171.3 561.2,174.8 541.7,178.5 522.6,182.1 503.9,185.8 485.4,189.6 467.4,193.4 449.7,197.2 432.4,201 415.5,204.9 399,208.9 382.9,212.8 367.1,216.8 351.8,220.8 336.9,224.8 322.4,228.9 308.3,232.9 294.7,237 281.5,241.1 268.8,245.1 256.5,249.1 244.7,253.1 233.4,257.1 222.7,261 212.4,264.8 202.7,268.5 193.6,272.2 185,275.6 177.1,279 169.8,282.1 163.2,285 157.4,287.6 152.4,289.9 148.3,291.8 145.3,293.3 143.8,294Z"/>
</defs>
<g>
<use href="#b0" fill="#fdedda"/>
<use href="#b1" fill="#fdead5"/>
<use href="#b2" fill="#fde8d0"/>
<use href="#b3" fill="#fde6cb"/>
<use href="#b4" fill="#fde4c7"/>
<use href="#b5" fill="#fde1c2"/>
<use href="#b6" fill="#fddfbd"/>
<use href="#b7" fill="#fdddb9"/>
<use href="#b8" fill="#fddbb4"/>
<use href="#b9" fill="#fdd9b0"/>
<use href="#b10" fill="#fdd7ab"/>
<use href="#b11" fill="#fdd5a7"/>
<use href="#b12" fill="#fdd3a2"/>
<use href="#b13" fill="#fdd19e"/>
<use href="#b14" fill="#fdcf99"/>
<use href="#b15" fill="#fdcc95"/>
<use href="#b16" fill="#fdca91"/>
<use href="#b17" fill="#fdc88c"/>
<use href="#b18" fill="#fdc688"/>
<use href="#b19" fill="#fdc483"/>
<use href="#b20" fill="#fdc27f"/>
<use href="#b21" fill="#fdc07b"/>
<use href="#b22" fill="#fdbe76"/>
<use href="#b23" fill="#fdbc72"/>
<use href="#b24" fill="#feba6e"/>
<use href="#b25" fill="#feb869"/>
<use href="#b26" fill="#feb665"/>
<use href="#b27" fill="#feb461"/>
<use href="#b28" fill="#feb25d"/>
<use href="#b29" fill="#feb058"/>
<use href="#b30" fill="#feae54"/>
<use href="#b31" fill="#feac50"/>
<use href="#b32" fill="#feaa4c"/>
<use href="#b33" fill="#fea847"/>
<use href="#b34" fill="#fea643"/>
<use href="#b35" fill="#fea43f"/>
<use href="#b36" fill="#fea23b"/>
<use href="#b37" fill="#fea036"/>
<use href="#b38" fill="#fe9e32"/>
<use href="#b39" fill="#fe9c2e"/>
<use href="#b40" fill="#fe9b2a"/>
<use href="#b41" fill="#fe9926"/>
<use href="#b42" fill="#fe9721"/>
<use href="#b43" fill="#fe951d"/>
<use href="#b44" fill="#fe9319"/>
<use href="#b45" fill="#fe9115"/>
<use href="#b46" fill="#fe8f11"/>
<use href="#b47" fill="#fe8d0c"/>
<use href="#b48" fill="#fe8b08"/>
<use href="#b49" fill="#fe8904"/>
</g>
<g clip-path="url(#up)">
<use href="#b0" fill="#1b98c6"/>
<use href="#b1" fill="#1d99c6"/>
<use href="#b2" fill="#1e9ac7"/>
<use href="#b3" fill="#209ac7"/>
<use href="#b4" fill="#229bc8"/>
<use href="#b5" fill="#249cc8"/>
<use href="#b6" fill="#279dc9"/>
<use href="#b7" fill="#299fca"/>
<use href="#b8" fill="#2ca0ca"/>
<use href="#b9" fill="#2ea1cb"/>
<use href="#b10" fill="#31a2cc"/>
<use href="#b11" fill="#34a4cc"/>
<use href="#b12" fill="#37a5cd"/>
<use href="#b13" fill="#3aa7ce"/>
<use href="#b14" fill="#3da8cf"/>
<use href="#b15" fill="#41aad0"/>
<use href="#b16" fill="#44abd1"/>
<use href="#b17" fill="#47add1"/>
<use href="#b18" fill="#4baed2"/>
<use href="#b19" fill="#4eb0d3"/>
<use href="#b20" fill="#52b2d4"/>
<use href="#b21" fill="#56b4d5"/>
<use href="#b22" fill="#59b5d6"/>
<use href="#b23" fill="#5db7d7"/>
<use href="#b24" fill="#61b9d8"/>
<use href="#b25" fill="#65bbd9"/>
<use href="#b26" fill="#69bcda"/>
<use href="#b27" fill="#6dbedb"/>
<use href="#b28" fill="#71c0dc"/>
<use href="#b29" fill="#75c2dd"/>
<use href="#b30" fill="#79c4de"/>
<use href="#b31" fill="#7dc6df"/>
<use href="#b32" fill="#81c8e0"/>
<use href="#b33" fill="#86cae1"/>
<use href="#b34" fill="#8acce2"/>
<use href="#b35" fill="#8ecee4"/>
<use href="#b36" fill="#93d0e5"/>
<use href="#b37" fill="#97d2e6"/>
<use href="#b38" fill="#9cd4e7"/>
<use href="#b39" fill="#a0d7e8"/>
<use href="#b40" fill="#a5d9e9"/>
<use href="#b41" fill="#a9dbeb"/>
<use href="#b42" fill="#aeddec"/>
<use href="#b43" fill="#b3dfed"/>
<use href="#b44" fill="#b7e1ee"/>
<use href="#b45" fill="#bce4ef"/>
<use href="#b46" fill="#c1e6f1"/>
<use href="#b47" fill="#c6e8f2"/>
<use href="#b48" fill="#cbebf3"/>
<use href="#b49" fill="#d0edf4"/>
</g>
</g>
<rect x="143.8" y="543.3" width="1008.2" height="83.80000000000007" fill="url(#go)"/>
<g clip-path="url(#cb)"><rect x="143.8" y="543.3" width="1008.2" height="83.80000000000007" fill="url(#gb)" clip-path="url(#ub)"/></g>
<path d="M143.8,473.61H1152.0M143.8,468.94H1152.0M143.8,465.13H1152.0M143.8,461.90H1152.0M143.8,459.11H1152.0M143.8,456.64H1152.0M143.8,439.94H1152.0M143.8,431.46H1152.0M143.8,425.44H1152.0M143.8,420.77H1152.0M143.8,416.96H1152.0M143.8,413.73H1152.0M143.8,410.94H1152.0M143.8,408.47H1152.0M143.8,391.77H1152.0M143.8,383.29H1152.0M143.8,377.27H1152.0M143.8,372.60H1152.0M143.8,368.79H1152.0M143.8,365.56H1152.0M143.8,362.77H1152.0M143.8,360.30H1152.0M143.8,343.60H1152.0M143.8,335.12H1152.0M143.8,329.10H1152.0M143.8,324.43H1152.0M143.8,320.62H1152.0M143.8,317.39H1152.0M143.8,314.60H1152.0M143.8,312.13H1152.0M143.8,295.43H1152.0M143.8,286.95H1152.0M143.8,280.93H1152.0M143.8,276.26H1152.0M143.8,272.45H1152.0M143.8,269.22H1152.0M143.8,266.43H1152.0M143.8,263.96H1152.0M143.8,247.26H1152.0M143.8,238.78H1152.0M143.8,232.76H1152.0M143.8,228.09H1152.0M143.8,224.28H1152.0M143.8,221.05H1152.0M143.8,218.26H1152.0M143.8,215.79H1152.0M143.8,199.09H1152.0M143.8,190.61H1152.0M143.8,184.59H1152.0M143.8,179.92H1152.0M143.8,176.11H1152.0M143.8,172.88H1152.0M143.8,170.09H1152.0M143.8,167.62H1152.0M143.8,150.92H1152.0M143.8,142.44H1152.0M143.8,136.42H1152.0M143.8,131.75H1152.0M143.8,127.94H1152.0M143.8,124.71H1152.0M143.8,121.92H1152.0M143.8,119.45H1152.0M143.8,102.75H1152.0" stroke="#0c2f47" stroke-opacity="0.2" stroke-width="0.8" fill="none"/>
<path d="M143.8,454.44H1152.0M143.8,406.27H1152.0M143.8,358.10H1152.0M143.8,309.93H1152.0M143.8,261.76H1152.0M143.8,213.59H1152.0M143.8,165.42H1152.0M143.8,117.25H1152.0" stroke="#1d3b48" stroke-opacity="0.9" stroke-width="1.25" fill="none"/>
<path d="M162.21,94.7V479.2M201.80,94.7V479.2M241.39,94.7V479.2M280.98,94.7V479.2M320.58,94.7V479.2M360.17,94.7V479.2M399.76,94.7V479.2M439.35,94.7V479.2M478.94,94.7V479.2M518.54,94.7V479.2M558.13,94.7V479.2M597.72,94.7V479.2M637.31,94.7V479.2M676.90,94.7V479.2M716.50,94.7V479.2M756.09,94.7V479.2M795.68,94.7V479.2M835.27,94.7V479.2M874.86,94.7V479.2M914.46,94.7V479.2M954.05,94.7V479.2M993.64,94.7V479.2M1033.23,94.7V479.2M1072.82,94.7V479.2M1112.42,94.7V479.2" stroke="#1d3b48" stroke-opacity="0.72" stroke-width="0.9" fill="none"/>
<path d="M143.8,610.34H1152.0M143.8,593.58H1152.0M143.8,576.82H1152.0M143.8,560.06H1152.0M162.21,543.3V627.1M201.80,543.3V627.1M241.39,543.3V627.1M280.98,543.3V627.1M320.58,543.3V627.1M360.17,543.3V627.1M399.76,543.3V627.1M439.35,543.3V627.1M478.94,543.3V627.1M518.54,543.3V627.1M558.13,543.3V627.1M597.72,543.3V627.1M637.31,543.3V627.1M676.90,543.3V627.1M716.50,543.3V627.1M756.09,543.3V627.1M795.68,543.3V627.1M835.27,543.3V627.1M874.86,543.3V627.1M914.46,543.3V627.1M954.05,543.3V627.1M993.64,543.3V627.1M1033.23,543.3V627.1M1072.82,543.3V627.1M1112.42,543.3V627.1" stroke="#1a1a1a" stroke-opacity="0.72" stroke-width="0.8" fill="none"/>
<g clip-path="url(#cm)" fill="none">
<polyline points="143.8,411.5 145.3,409.7 148.3,406.1 152.4,401.3 157.4,395.7 163.2,389.5 169.8,382.9 177.1,375.9 185,368.8 193.6,361.5 202.7,354.2 212.4,346.8 222.7,339.5 233.4,332.3 244.7,325.1 256.5,318.1 268.8,311.1 281.5,304.3 294.7,297.6 308.3,291.1 322.4,284.6 336.9,278.4 351.8,272.2 367.1,266.2 382.9,260.3 399,254.5 415.5,248.9 432.4,243.4 449.7,238 467.4,232.7 485.4,227.6 503.9,222.5 522.6,217.5 541.7,212.7 561.2,207.9 581,203.3 601.2,198.7 621.7,194.2 642.5,189.9 663.7,185.5 685.2,181.3 707,177.2 729.1,173.1 751.6,169.1 774.3,165.2 797.4,161.3 820.8,157.5 844.5,153.8 868.5,150.2 892.8,146.6 917.4,143 942.3,139.5 967.5,136.1 993,132.7 1018.8,129.4 1044.9,126.1 1071.2,122.9 1097.9,119.8 1124.8,116.6 1152,113.5" stroke="#0c2f47" stroke-opacity="0.9" stroke-width="0.75"/>
<polyline points="143.8,370.2 145.3,368.9 148.3,366.3 152.4,362.8 157.4,358.7 163.2,354.1 169.8,349.1 177.1,343.7 185,338.2 193.6,332.5 202.7,326.6 212.4,320.7 222.7,314.8 233.4,308.8 244.7,302.8 256.5,296.9 268.8,291 281.5,285.2 294.7,279.5 308.3,273.8 322.4,268.2 336.9,262.7 351.8,257.2 367.1,251.9 382.9,246.6 399,241.4 415.5,236.4 432.4,231.4 449.7,226.5 467.4,221.6 485.4,216.9 503.9,212.3 522.6,207.7 541.7,203.2 561.2,198.8 581,194.5 601.2,190.2 621.7,186 642.5,181.9 663.7,177.9 685.2,173.9 707,170 729.1,166.1 751.6,162.4 774.3,158.6 797.4,155 820.8,151.4 844.5,147.8 868.5,144.3 892.8,140.9 917.4,137.5 942.3,134.2 967.5,130.9 993,127.7 1018.8,124.5 1044.9,121.3 1071.2,118.2 1097.9,115.2 1124.8,112.2 1152,109.2" stroke="#0c2f47" stroke-opacity="0.9" stroke-width="0.75"/>
<polyline points="143.8,339.3 145.3,338.3 148.3,336.2 152.4,333.5 157.4,330.2 163.2,326.6 169.8,322.5 177.1,318.2 185,313.7 193.6,308.9 202.7,304.1 212.4,299.2 222.7,294.1 233.4,289.1 244.7,284 256.5,278.9 268.8,273.8 281.5,268.7 294.7,263.6 308.3,258.6 322.4,253.7 336.9,248.7 351.8,243.9 367.1,239 382.9,234.3 399,229.6 415.5,225 432.4,220.4 449.7,215.9 467.4,211.5 485.4,207.1 503.9,202.8 522.6,198.6 541.7,194.4 561.2,190.3 581,186.2 601.2,182.3 621.7,178.3 642.5,174.5 663.7,170.6 685.2,166.9 707,163.2 729.1,159.6 751.6,156 774.3,152.4 797.4,149 820.8,145.5 844.5,142.1 868.5,138.8 892.8,135.5 917.4,132.3 942.3,129.1 967.5,125.9 993,122.8 1018.8,119.7 1044.9,116.7 1071.2,113.7 1097.9,110.8 1124.8,107.9 1152,105" stroke="#0c2f47" stroke-opacity="0.9" stroke-width="0.75"/>
<polyline points="143.8,314.6 145.3,313.7 148.3,312.1 152.4,309.8 157.4,307.1 163.2,304 169.8,300.7 177.1,297 185,293.2 193.6,289.2 202.7,285 212.4,280.8 222.7,276.4 233.4,272 244.7,267.6 256.5,263.1 268.8,258.6 281.5,254.1 294.7,249.6 308.3,245.1 322.4,240.6 336.9,236.2 351.8,231.8 367.1,227.4 382.9,223.1 399,218.8 415.5,214.6 432.4,210.3 449.7,206.2 467.4,202.1 485.4,198 503.9,194 522.6,190.1 541.7,186.2 561.2,182.3 581,178.5 601.2,174.8 621.7,171.1 642.5,167.4 663.7,163.8 685.2,160.3 707,156.8 729.1,153.3 751.6,149.9 774.3,146.5 797.4,143.2 820.8,139.9 844.5,136.7 868.5,133.5 892.8,130.3 917.4,127.2 942.3,124.2 967.5,121.1 993,118.1 1018.8,115.2 1044.9,112.2 1071.2,109.4 1097.9,106.5 1124.8,103.7 1152,100.9" stroke="#0c2f47" stroke-opacity="0.9" stroke-width="0.75"/>
<polyline points="143.8,294 145.3,293.3 148.3,291.8 152.4,289.9 157.4,287.6 163.2,285 169.8,282.1 177.1,279 185,275.6 193.6,272.2 202.7,268.5 212.4,264.8 222.7,261 233.4,257.1 244.7,253.1 256.5,249.1 268.8,245.1 281.5,241.1 294.7,237 308.3,232.9 322.4,228.9 336.9,224.8 351.8,220.8 367.1,216.8 382.9,212.8 399,208.9 415.5,204.9 432.4,201 449.7,197.2 467.4,193.4 485.4,189.6 503.9,185.8 522.6,182.1 541.7,178.5 561.2,174.8 581,171.3 601.2,167.7 621.7,164.2 642.5,160.8 663.7,157.4 685.2,154 707,150.6 729.1,147.3 751.6,144.1 774.3,140.9 797.4,137.7 820.8,134.6 844.5,131.5 868.5,128.4 892.8,125.4 917.4,122.4 942.3,119.4 967.5,116.5 993,113.6 1018.8,110.8 1044.9,107.9 1071.2,105.2 1097.9,102.4 1124.8,99.7 1152,97" stroke="#0c2f47" stroke-opacity="0.35" stroke-width="0.75"/>
<polyline points="143.2,464.4 143.6,464.3 143.9,464.9 144.2,463.7 144.5,463.2 144.9,463.3 145.2,464.5 145.5,464.8 145.8,464.8 146,464.4 146.2,464.7 146.5,463 146.8,463.6 147.1,463.1 147.5,463.8 147.8,463.3 148.1,463.6 148.4,463.9 148.8,463.9 149,464.4 149.1,464.1 149.4,462.8 149.7,463.1 150.1,463.3 150.4,464.5 150.7,465.5 151,464.5 151.4,466.3 151.7,466.7 152,466 152.3,464.9 152.6,464.4 152.7,460.3 152.8,454.9 153,454 153.3,454.5 153.6,454.7 154,454 154.3,453.4 154.6,450.1 154.9,446.9 155.3,443.2 155.6,441 155.9,433.4 156,431.5 156.2,424.4 156.6,432.7 156.8,437.9 156.9,437.4 157.2,435.6 157.5,433.7 157.7,432.9 157.9,432.9 158.2,434.7 158.5,436.1 158.8,437.9 159.2,437.9 159.5,437.5 159.8,436.3 160.1,436.2 160.4,436.1 160.5,436.9 160.8,436 161.1,434.1 161.4,433.1 161.8,431.3 162.1,431.5 162.4,431.2 162.8,430.1 163.1,429.2 163.4,427.6 163.7,426 164.1,423.3 164.4,421.2 164.7,419.6 165,417.8 165.4,414.8 165.6,413.7 165.7,412.5 166,408.9 166.3,406.8 166.5,404.5 166.7,405.4 167,406.5 167.3,407.8 167.6,409.7 168,408.4 168.3,408.1 168.6,408 168.9,408.8 169.3,408.6 169.6,408.2 169.9,408.1 170.2,410.9 170.6,411.7 170.7,412 170.9,412.6 171.2,412.1 171.5,412 171.9,412.8 172.2,413.8 172.4,413.7 172.5,412.4 172.8,410.6 173.2,407.8 173.5,406.3 173.8,402.8 174.1,400 174.5,396.8 174.6,396.4 174.8,391.4 175.1,383 175.2,380.1 175.4,378.9 175.8,378.7 176.1,377.3 176.2,377.3 176.4,371.8 176.7,362.8 177.1,364.1 177.4,366.3 177.5,367.1 177.7,364.9 178,362.9 178.4,360.1 178.6,359.2 178.7,355.2 179,347 179.2,339.8 179.3,336.5 179.5,333.8 179.7,343.7 179.8,349.6 180,345.6 180.1,344.1 180.3,344.1 180.6,346.9 180.9,348.3 181,349 181.3,349.2 181.6,349.6 181.8,349.1 181.9,349.6 182.3,351 182.6,351.5 182.9,351.5 183.3,351.6 183.4,351.4 183.6,351.7 183.9,352 184.2,351.8 184.6,352.2 184.9,351.6 185.2,352.6 185.5,356.4 185.9,362.2 186,362.8 186.2,361.6 186.5,358.7 186.7,356.1 186.8,356.4 187.2,357.3 187.5,358.8 187.8,360.5 188.1,361.2 188.5,361.5 188.6,362.3 188.8,363 189.1,365.3 189.4,368.7 189.5,369.5 189.8,370.5 190.1,372.6 190.4,371.1 190.7,370 190.8,369.5 191.1,370.5 191.4,371.7 191.7,371.9 191.8,372.6 192,372.7 192.4,374.3 192.7,375.9 192.8,377.3 193,378.9 193.3,383.7 193.7,387.4 193.9,388.8 194,387.9 194.3,385.2 194.6,384.3 195,382.1 195.2,381.9 195.3,382 195.6,382.6 195.9,382.8 196.2,383.3 196.3,384 196.6,387.6 196.9,390 197,391.3 197.2,390.1 197.6,387.6 197.9,386.1 198.2,383.9 198.4,383.3 198.5,383.5 198.9,383.8 199.2,383.4 199.5,381.6 199.8,381.7 200,381.9 200.2,381.2 200.5,378.9 200.8,377.3 201,376.8 201.1,376.8 201.5,375.5 201.7,373.9 201.8,372.9 202.1,369.7 202.4,365.9 202.6,365.3 202.8,364.4 203.1,365.5 203.3,365.9 203.4,366 203.7,367.6 204.1,368.6 204.4,369.5 204.7,369.1 205,368.3 205.2,368.8 205.4,369.6 205.7,368.8 206,369.7 206.1,369.9 206.3,371.3 206.7,373.8 206.9,375.8 207,375.4 207.3,374.9 207.6,373.7 208,372.9 208.3,373 208.6,372.4 208.9,371.9 209.3,371.7 209.6,371.4 209.8,371.4 209.9,371.4 210.2,372.3 210.6,373.3 210.9,373.1 211.2,372.5 211.5,373.2 211.6,373 211.9,373.5 212.2,373.5 212.5,373.1 212.8,372.6 213.2,372.8 213.5,372.6 213.8,372.3 214.1,371.6 214.5,371.3 214.8,372.2 214.9,372.6 215.1,371.8 215.4,370.7 215.8,371.1 216.1,371.9 216.4,372.4 216.7,372.6 217.1,372.9 217.4,372.1 217.7,372.1 218,371.4 218.2,371.4 218.4,371.6 218.7,370.3 219,370.2 219.3,368.5 219.6,367.2 219.8,367.4 220,367.6 220.3,367.1 220.6,366.4 220.9,365.8 221.3,365.1 221.5,366.5 221.6,366.1 221.9,364.1 222.2,363.3 222.6,362.7 222.9,363.8 223,363.8 223.2,362.1 223.5,361.7 223.9,361.4 224.2,360.8 224.5,359.6 224.8,359.2 225.2,358 225.5,357.3 225.8,355.4 226.1,354.1 226.5,351.8 226.8,362.8 227.1,360.8 227.4,357.1 227.8,357.6 228.1,357.8 228.2,358.1 228.4,357.6 228.7,357.1 229.1,355.5 229.4,355.6 229.7,354.8 230,354.8 230.4,355.9 230.7,355.5 231,354.6 231.3,353.8 231.4,353.6 231.7,353.3 232,353.5 232.3,353 232.6,353.8 233,354.6 233.3,355.9 233.6,356.4 233.9,357.3 234.3,357.5 234.6,355.7 234.8,356.3 234.9,355.4 235.2,355.5 235.6,355.8 235.9,355.9 236.2,356.1 236.3,355.9 236.5,355 236.8,354.7 237.2,354.6 237.5,353.5 237.8,354 238,353.3 238.1,353 238.5,352.3 238.8,351.9 239.1,352.2 239.4,352.1 239.6,351.8 239.8,352.5 240.1,352.9 240.4,352.7 240.7,352.4 241.1,352.8 241.3,351.8 241.4,352.8 241.7,352.4 242,351.4 242.4,352.1 242.7,351.5 242.9,350.6 243,350.7 243.3,349 243.7,347.2 244,346.4 244.3,344.5 244.6,344.5 244.8,343.2 245,342.8 245.3,341.2 245.6,339.6 245.9,338.6 246.3,337.3 246.6,335.9 246.9,335 247.2,334.7 247.6,332.9 247.8,332.2 247.9,331 248.2,327.8 248.3,326.6 248.6,326.8 248.9,327.3 249,327.1 249.2,324.3 249.5,321.4 249.9,319.3 250.2,316.8 250.5,313.5 250.7,312.1 250.8,311.2 251.2,309.1 251.5,304.4 251.6,302.6 251.8,297.4 252,292.5 252.1,299 252.3,312.1 252.5,312.5 252.8,318 253.1,308.9 253.2,305.3 253.4,304.1 253.8,302.7 254.1,305.4 254.4,306.6 254.7,310.4 255.1,308.4 255.4,308.8 255.7,306.9 255.9,307.2 256,306.7 256.4,307.9 256.7,305.9 257,306 257.3,305.5 257.7,304.7 257.8,304.6 258,304.9 258.3,307.3 258.6,308.6 258.7,308.7 259,308.1 259.3,309.3 259.6,308.5 259.8,308.3 259.9,308.4 260.3,309.3 260.6,310.4 260.9,312.8 261,312.6 261.2,315.3 261.5,318 261.6,316.6 261.9,313.8 262,312.6 262.2,311.9 262.5,312.7 262.9,312.6 263.1,311.7 263.2,311.2 263.5,311.3 263.8,309.8 264.2,309.8 264.4,309.1 264.5,309.7 264.8,309.7 265.1,308.4 265.5,308.5 265.8,307.5 265.9,307.9 266.1,307.6 266.4,306.1 266.8,304.5 267.1,304.3 267.4,304 267.8,303.2 268.1,302.6 268.4,302.8 268.7,303.8 269.1,304.1 269.3,304.4 269.4,303.3 269.7,304.3 270,305.4 270.4,306.5 270.7,306.1 271,304 271.1,307.9 271.3,307.3 271.7,305.4 271.8,304.9 272,303.7 272.3,303.1 272.5,302.2 272.6,301.5 273,299.8 273.3,298.3 273.6,296.5 273.9,295.1 274.3,294.8 274.4,295 274.6,293.4 274.9,289.9 275.2,286 275.3,284.3 275.6,282.5 275.7,280.9 275.9,276.5 276.2,269.2 276.5,272.4 276.9,268.5 277,266.4 277.2,263 277.4,259.2 277.5,260.8 277.6,262.8 277.8,260.1 277.9,258.8 278.2,266 278.3,269.2 278.5,265.3 278.6,262.8 278.8,264.1 279,264.7 279.1,266.6 279.5,275.4 279.8,273.1 279.9,271.8 280.1,269.2 280.3,267.8 280.4,268 280.8,267.7 280.9,267.8 281.1,266.3 281.4,263.3 281.5,262.8 281.7,263.2 282.1,263.8 282.4,264.8 282.5,265.2 282.7,265 283,265.7 283.4,265.7 283.6,266.2 283.7,265.8 284,265.5 284.3,265.7 284.7,267.1 285,268.7 285.3,269.8 285.6,270.5 285.8,270.8 286,271.3 286.3,273.4 286.4,273.9 286.6,273.9 286.9,274.7 287.3,272.1 287.6,270.1 287.9,270.6 288.3,270.9 288.4,271.6 288.6,271.9 288.9,272.4 289.2,272.5 289.4,273 289.6,273.5 289.9,273.9 290.2,275 290.5,276.5 290.7,277.1 290.9,277.8 291.2,279.9 291.5,281.2 291.7,282.8 291.8,281.3 292.2,277 292.3,275.4 292.5,275.5 292.8,276.2 293.1,276.9 293.3,278 293.5,277.9 293.8,278.5 294,278.1 294.1,277.7 294.4,278.4 294.8,278.4 295,278.9 295.1,279 295.4,278.1 295.7,277.6 296.1,276.9 296.4,274.6 296.7,273.8 296.8,273.2 297,272 297.4,270.8 297.6,270.3 297.7,270.7 298,271.4 298.3,272.3 298.7,272.8 298.9,272.8 299,272.9 299.3,272.8 299.6,273.4 300,273.7 300.3,272.1 300.6,271.1 300.9,270.9 301.3,271.6 301.6,271.7 301.9,271.6 302.1,271.8 302.2,271.4 302.6,271.4 302.9,272 303.2,271.8 303.5,272.8 303.9,272.7 304,272.6 304.2,272.4 304.5,272.2 304.8,272.8 305,272.8 305.2,273.4 305.5,275.8 305.8,278 306.1,277.1 306.5,275.9 306.6,275.8 306.8,277.1 307.1,277 307.3,277.2 307.5,277.2 307.8,277.1 308.1,277.3 308.3,277.1 308.4,277.1 308.8,277.9 309.1,279.1 309.4,280.9 309.7,281.7 310.1,281.8 310.4,282.2 310.6,281.7 310.7,282.5 311,285.6 311.4,283.5 311.7,282.8 312,281.4 312.1,281.2 312.3,282 312.7,282.8 313,283.6 313.2,283.7 313.3,283.7 313.6,284.8 314,285.3 314.3,284.4 314.5,283.7 314.6,283.6 314.9,281.9 315.3,279.9 315.6,281.3 315.9,282.7 316,283.4 316.2,283.1 316.6,283.1 316.9,283.1 317.2,282 317.5,281.3 317.9,281.9 318.2,282.9 318.5,283 318.7,284 318.8,284.3 319.2,286 319.5,285.5 319.8,285.6 320.1,285.9 320.5,285.6 320.8,287.6 321,289.2 321.1,290.5 321.4,292.4 321.8,295.4 322,297.9 322.1,297 322.4,295.5 322.6,293.9 322.7,292.9 323.1,291.5 323.3,289.2 323.4,289.7 323.7,291.9 323.9,292.8 324,292.4 324.4,293 324.7,292.9 325,292.6 325.3,292.3 325.5,292.1 325.7,292.3 326,291.7 326.3,291.8 326.7,291.5 327,289.9 327.3,289.9 327.6,289.4 328,288.5 328.2,287.3 328.3,287.4 328.6,289 328.9,289.8 329,289.9 329.3,290.1 329.6,290.4 329.9,290.8 330.2,291 330.3,291.2 330.6,291 330.9,292 331.2,292.8 331.5,292.1 331.9,293.2 332.2,292.6 332.5,292.8 332.8,292.3 333.2,291.6 333.5,292.6 333.6,292.3 333.8,292.2 334.1,291.8 334.5,290.8 334.8,291.7 335.1,291.9 335.4,291.3 335.8,291.2 336.1,291.1 336.4,291.7 336.7,292.9 337,293 337.1,293.5 337.4,293.8 337.7,293.2 338,292.8 338.4,292.2 338.5,292.1 338.7,292.2 339,291.6 339.3,290.5 339.7,290.6 340,289.5 340.2,290.1 340.3,289.7 340.6,289 341,288 341.3,287.1 341.4,286.3 341.6,286.7 341.9,287.3 342.3,288.1 342.6,288.2 342.8,287.8 342.9,287.7 343.2,288.4 343.6,288.4 343.9,288.1 344.2,288.2 344.5,288.7 344.9,289.3 345.1,289.8 345.2,290.3 345.5,292 345.8,293.1 346.1,294.4 346.2,294.3 346.5,293.1 346.8,292.6 346.9,292.7 347.2,292.7 347.5,292.9 347.8,292.7 348.1,292.6 348.5,292.3 348.8,292.8 349.1,292.6 349.4,292.8 349.8,292.3 350.1,292.2 350.2,291.9 350.4,292.2 350.7,291.4 351.1,291.9 351.4,291.5 351.7,290.3 352,290.1 352.4,289.2 352.7,288.3 352.8,288 353,286.8 353.3,286.2 353.6,285.3 353.7,283.8 353.9,280.4 354,281.3 354.3,283.6 354.6,286.3 355,285.9 355.3,286.2 355.6,285.3 355.9,284.9 356.3,283.8 356.6,283.4 356.8,283 356.9,282.7 357.2,281.9 357.6,281.1 357.9,280.2 358,279.2 358.2,278.5 358.3,277.8 358.5,278.2 358.9,278.8 359.2,278.6 359.4,278.2 359.5,278 359.8,279.1 360.1,279.4 360.2,279.1 360.5,278.4 360.8,278.1 361.1,280.4 361.5,282.3 361.7,282.8 361.8,282.5 362.1,282 362.4,281.6 362.8,281.2 363.1,281.6 363.4,281.8 363.5,282.4 363.7,282.7 364.1,282 364.4,282 364.7,281.4 365,280.7 365.4,280.2 365.7,280.7 366,280.2 366.3,279.5 366.7,279.2 367,279.6 367.3,279.1 367.6,279.1 368,279.7 368.2,280.1 368.3,280.2 368.6,280.2 368.9,280.4 369.3,279.8 369.6,279.6 369.9,280.1 370,280.1 370.2,280.2 370.6,280.4 370.9,280 371.2,279.8 371.5,279.5 371.9,279.5 372.2,278.6 372.5,278.4 372.8,278.5 373.1,278.7 373.3,278.4 373.5,277.9 373.8,277.5 374.1,278.4 374.4,278.4 374.8,278.1 375.1,277.3 375.4,276.3 375.7,276 376.1,275.2 376.2,275.2 376.4,274.5 376.7,274.7 377,273.3 377.4,271.9 377.7,269.7 378,268.8 378.2,267.3 378.3,268.4 378.7,270.4 378.9,272.4 379,272.8 379.3,271.5 379.6,271.1 379.9,270 380,269.9 380.3,269.8 380.6,270 380.9,270.2 381.3,270.5 381.4,270.3 381.6,270.3 381.9,270.3 382.2,271.4 382.6,271.8 382.9,272.2 383.2,272.3 383.3,274.3 383.5,273.9 383.9,274 384.2,273.5 384.5,273.8 384.7,273.5 384.8,272.9 385.2,272.6 385.5,273 385.8,273.9 386.1,273.4 386.5,273 386.6,273.4 386.8,273.2 387.1,272.8 387.4,272.6 387.8,272.7 388.1,272.2 388.4,271.9 388.7,271.7 389.1,272.1 389.4,271.4 389.7,271.4 389.8,272 390,271.7 390.3,271.7 390.7,271.5 391,271 391.3,271.1 391.6,270.6 392,270.1 392.3,269.7 392.6,269.5 392.9,268.4 393.2,268.3 393.3,268.6 393.6,268.3 393.9,268.4 394.1,268.8 394.2,268.6 394.6,268.8 394.9,268.2 395.2,267.8 395.5,268 395.9,267.2 396.2,267.5 396.4,267.6 396.5,267.7 396.8,267.8 397.2,267.5 397.5,267.5 397.8,267.2 397.9,267 398.1,266.2 398.5,265.1 398.8,264.4 399,264.1 399.1,264.2 399.4,263 399.7,262.5 399.8,261.7 400.1,259.2 400.4,262.6 400.7,265.6 400.8,267 401.1,266.4 401.4,266 401.7,264.4 401.8,264.1 402,263.5 402.4,263.7 402.7,262.8 403,262.2 403.1,262.1 403.3,262.1 403.7,262.6 404,261.8 404.3,261.7 404.6,261.6 405,260.4 405.3,259.4 405.6,258.3 405.9,257.7 406.3,257.1 406.4,256.5 406.6,257.9 406.9,258.6 407.1,259.5 407.2,259.6 407.6,258.2 407.8,257.1 407.9,257.8 408.2,259.8 408.5,262.1 408.7,263.1 408.9,262.6 409.2,261.6 409.5,260.1 409.8,259.2 410.2,258.7 410.5,258 410.8,258.5 411,258.3 411.1,258 411.5,256.9 411.8,256.2 412.1,255.7 412.5,255 412.8,254.4 413.1,253 413.4,251.3 413.8,250.1 414.1,248.6 414.4,248.3 414.7,247 414.8,246.7 415.1,245.4 415.4,243.4 415.6,246.7 415.7,246 416,243.7 416.1,243.4 416.4,242.6 416.7,241.1 417,239.4 417.2,239.1 417.3,240 417.7,243 418,241.8 418.2,240.8 418.3,240.8 418.6,240.5 419,241.6 419.3,242.6 419.4,243.2 419.6,243.2 419.9,243.6 420.3,244 420.4,244 420.6,245.4 420.9,247.1 421,248 421.2,243.8 421.5,239.7 421.6,239.9 421.9,239.8 422.2,239.6 422.5,240.1 422.8,240.8 422.9,240.2 423.2,237.8 423.5,236 423.8,234.5 424.2,232.7 424.3,232 424.5,232.1 424.8,231.9 425,232.3 425.1,231.7 425.5,231 425.8,230.1 426.1,228.5 426.4,229.6 426.8,231.1 426.9,231.2 427.1,233.1 427.4,235.9 427.5,237.2 427.7,234.6 428,232.3 428.1,232.1 428.4,232.9 428.7,233.1 429,232.1 429.4,230.8 429.7,230 430,230.1 430.3,229 430.7,226.6 430.9,225.4 431,225 431.3,225.5 431.7,225.1 432,225.2 432.3,223.6 432.6,222.1 432.7,221.8 433,221.1 433.3,220.6 433.5,219.7 433.6,220.9 433.9,224.5 434.3,221.1 434.5,219.1 434.6,218.6 434.9,217.3 435.2,216.9 435.3,216.4 435.6,214.9 435.9,212.5 436,211.8 436.2,208.7 436.5,203.7 436.6,202.5 436.9,203.9 437,205.1 437.2,203.6 437.5,200.2 437.6,199.7 437.8,200.8 437.9,201.6 438.2,204.7 438.3,206.9 438.5,205.4 438.7,204 438.8,205.1 439.1,208.8 439.2,206.4 439.5,205.3 439.8,203.5 439.9,202.4 440.1,204.5 440.4,207.5 440.8,209.6 441,210.8 441.1,210.6 441.4,208.4 441.7,209.4 442,211.2 442.1,212.2 442.4,214.1 442.7,215.6 443,219.9 443.1,221.2 443.4,219.2 443.7,216.7 444,215.1 444.2,213.6 444.3,213.6 444.7,211.4 444.8,211.2 445,212.8 445.3,214.4 445.6,213 446,211.4 446.2,210.7 446.3,212.1 446.6,215.1 446.9,216.1 447.3,217.6 447.6,216.6 447.9,216 448.2,218 448.6,219.5 448.9,221.5 449.2,222 449.5,222.2 449.7,222.1 449.9,221 450.2,219.4 450.3,218.5 450.5,218.5 450.8,217.6 451.2,216.5 451.5,215.1 451.6,214.3 451.8,214.8 452.2,215.3 452.3,215.2 452.5,214.8 452.8,213.9 453.1,214.9 453.5,216.7 453.6,217.1 453.8,216.8 454.1,216.8 454.4,217 454.8,217.9 455.1,219.9 455.3,220.7 455.4,220.4 455.7,219.8 456.1,219.3 456.2,219.2 456.4,220.1 456.7,222.1 457,223.3 457.4,221.7 457.7,221.4 457.8,221.8 458,222.3 458.3,223.6 458.7,224.6 459,224.3 459.3,222.7 459.4,222.3 459.6,222.4 460,223.9 460.2,223.4 460.3,222.4 460.6,220.6 460.7,220 460.9,219 461.3,217.5 461.5,217.2 461.6,217.4 461.9,217.8 462.2,218.9 462.6,221 462.9,222.3 463.2,223.3 463.3,223.8 463.5,223.6 463.9,222.8 464.2,223.5 464.4,223.3 464.5,223.2 464.8,221.4 465.2,220.9 465.3,220.8 465.5,220.2 465.8,220.1 466,220 466.1,220.8 466.5,223.6 466.8,223.7 467.1,223.5 467.4,223.4 467.8,222.6 468.1,223 468.4,222.9 468.7,222.8 469,222.3 469.1,222.8 469.4,223.1 469.7,224.1 470,223.4 470.4,222 470.5,222.3 470.7,222.7 471,222.6 471.4,223.3 471.7,223.6 472,224 472.3,223 472.7,223.2 473,222.5 473.3,223.9 473.6,225.2 473.7,225.3 474,227 474.3,229.7 474.4,230.5 474.6,232.2 474.9,233.8 475.3,232 475.4,231.4 475.6,232.6 475.9,234.9 476.2,236.2 476.6,236.5 476.9,237 477.1,237.2 477.2,236.5 477.5,233.4 477.6,232.3 477.9,232.2 478.1,232.5 478.2,233.5 478.4,235 478.5,234.5 478.8,234.2 479.2,232.9 479.5,232.6 479.8,233.2 480.1,234.1 480.5,235 480.8,234.9 481.1,235 481.4,234.9 481.8,235.7 481.9,235.9 482.1,235.7 482.4,235.6 482.7,235.7 483,236.2 483.1,235.7 483.3,234.7 483.4,234.5 483.7,234.5 484,234.2 484.4,233.8 484.7,232.2 484.9,233.8 485,233.9 485.3,233.9 485.7,234.1 486,234.3 486.3,233.9 486.6,234.1 486.9,233.3 487,233.3 487.3,232.7 487.6,232.8 487.9,232.3 488.3,232 488.6,231.8 488.7,232 488.8,228.5 488.9,228.6 489.2,228 489.6,227 489.7,226.9 489.9,226.3 490.2,226.6 490.6,225.9 490.9,225.1 491.1,225.9 491.2,225.9 491.5,226.4 491.9,226.9 492.2,226 492.5,224.9 492.7,224.5 492.8,223.4 493.2,220.1 493.3,218.8 493.5,219.5 493.7,220.2 493.8,220 494.1,220.5 494.5,219.3 494.8,218.7 495.1,217.5 495.4,218 495.8,218.8 496.1,217.7 496.4,217.5 496.7,216.9 496.8,216.3 497.1,214.8 497.4,212.8 497.6,212.2 497.7,211.5 498,208.1 498.3,210 498.4,210.6 498.7,212 499,210.9 499.3,210.4 499.6,209.6 499.7,210.3 500,211.9 500.3,214.2 500.6,214.4 500.9,213 501,213.5 501.3,214.5 501.5,214.7 501.6,213.6 501.9,211.9 502.3,210.9 502.5,210.1 502.6,210.3 502.9,211.3 503.2,212.6 503.5,213.6 503.6,213.6 503.9,212.7 504,212.1 504.2,212.7 504.5,213.3 504.9,214.6 505,214.7 505.2,213.8 505.5,213.2 505.7,212.4 505.8,212.4 506.2,211.9 506.5,212.1 506.8,212.8 507.1,213.6 507.4,213.2 507.5,213.9 507.8,216.3 508,218 508.1,217.9 508.4,218.1 508.8,218 509.1,217 509.4,217.1 509.5,216.9 509.7,217.4 510.1,218.3 510.4,218.9 510.7,219 510.9,219.6 511.1,218.3 511.3,215.2 511.4,215 511.7,214.2 512,214.5 512.4,215.1 512.7,215.9 513,216.5 513.3,217.2 513.4,217 513.7,217.7 514,218.9 514.3,219.4 514.5,220.6 514.6,220.7 515,220.7 515.3,220.6 515.6,219.9 515.9,219.7 516.3,220 516.6,220.8 516.9,222.1 517.2,221.4 517.6,220.5 517.8,220.3 517.9,220.8 518.2,220.4 518.4,220.5 518.5,220.1 518.9,218.7 519.2,218.4 519.3,218.1 519.5,217.8 519.8,216.9 520.2,216 520.4,216 520.5,216.8 520.8,216.7 521.1,217.4 521.5,216.4 521.8,216 522.1,215 522.3,214.4 522.4,214.3 522.8,214 523.1,212.6 523.2,213 523.4,213.5 523.7,213.7 523.9,214.4 524.1,215.2 524.4,215.5 524.7,216.5 524.8,216.5 525,216 525.4,216.2 525.7,215.6 525.9,218.5 526,221.4 526.2,228.2 526.3,227.7 526.4,227.3 526.6,228 527,224.7 527.1,223.6 527.3,222.7 527.6,222 527.9,222.4 528.3,222.3 528.4,222.3 528.6,222.5 528.9,221.7 529.2,222 529.4,221.4 529.6,221.8 529.9,221.9 530.2,222.1 530.4,221.5 530.5,221 530.9,220 531.2,218.7 531.5,216.6 531.8,215.2 532.2,214.2 532.3,213.7 532.5,215.6 532.6,216.4 532.8,215.9 533.1,215.1 533.5,215.1 533.7,214.7 533.8,214.4 534.1,214.5 534.4,214.4 534.8,213.4 535,213.2 535.1,213.4 535.4,214.3 535.7,214.5 536.1,214 536.4,215.1 536.5,214.9 536.7,214.5 537,215.7 537.4,216.2 537.7,216 537.9,215.6 538,215.7 538.3,215.1 538.7,215.7 539,214.8 539.3,215 539.6,215.6 539.7,215.3 540,214.9 540.3,215 540.5,214.7 540.6,214.2 540.9,211.8 541,211.6 541.3,212.1 541.6,211.2 541.7,211.4 541.9,210.8 542.2,210.9 542.6,209.8 542.9,210 543.2,209.6 543.3,209.3 543.5,209.6 543.8,210.1 544.2,210.9 544.5,210.2 544.8,209.8 544.9,209.9 545.1,211.8 545.4,213.2 545.5,212.9 545.8,212.3 546.1,211.1 546.4,210.8 546.8,211.4 547,211.8 547.1,212 547.4,211.3 547.7,211.7 548.1,212.2 548.2,212.4 548.4,212.3 548.7,212.1 549,211.4 549.1,211 549.4,210.6 549.7,209.5 550,209.2 550.3,208.4 550.7,207.7 551,207.5 551.3,206.6 551.4,206.9 551.6,206 552,204.3 552.3,204.1 552.6,203.9 552.9,204 553,203.8 553.3,203.3 553.6,201.6 553.9,200.6 554,200.1 554.2,202.4 554.6,200.8 554.8,200.4 554.9,201.1 555.2,200.8 555.5,201.4 555.9,201.2 556.2,198.9 556.4,197.8 556.5,197.3 556.8,195.7 557.2,194.1 557.5,193.3 557.8,192 558,191.3 558.1,190.3 558.3,188.6 558.5,187.9 558.8,185.2 558.9,184.3 559.1,186.1 559.2,187.1 559.4,185.7 559.5,185.1 559.8,187 560.1,189.4 560.3,190.1 560.4,190.4 560.7,190.2 560.9,190.3 561.1,189.6 561.4,189 561.5,188.3 561.7,186.2 562,183.8 562.2,181.6 562.4,181.5 562.7,180.9 563,180.8 563.3,179.2 563.7,177 563.9,180.4 564,180.6 564.3,181.1 564.4,182 564.6,180.6 565,180.4 565.3,179 565.6,177 565.8,175.7 565.9,175.9 566.3,176.3 566.4,177 566.6,177.7 566.9,179 567.1,179.2 567.2,178.8 567.6,177.3 567.9,176.5 568.2,175.6 568.5,176.1 568.9,175.3 569.2,174.9 569.5,176.6 569.7,177.5 569.8,178.3 570.2,179.2 570.5,180.3 570.8,180.3 571.1,177.7 571.4,177.1 571.5,177.1 571.8,176.8 571.9,176.5 572.1,178.3 572.3,180.2 572.4,180.6 572.7,181.3 572.8,182.5 573.1,186.2 573.3,186.1 573.4,186.3 573.5,187.6 573.7,185.8 573.9,185 574.1,186.7 574.2,187.6 574.4,186.1 574.7,185 575,186.6 575.3,188.4 575.4,188 575.7,185.4 575.9,184.3 576,185 576.4,186.9 576.7,187.8 576.8,188.9 577,189.1 577.1,189.5 577.3,188.2 577.5,186.9 577.7,186.9 578,187.1 578.1,187.2 578.3,187 578.6,188.2 579,188.5 579.3,189.8 579.6,190.3 579.8,190.7 579.9,190.2 580.3,187.7 580.4,187.1 580.6,185.4 580.9,183.5 581.2,184.2 581.4,184.7 581.6,184.4 581.9,182.9 582.1,181.8 582.2,181.6 582.5,181.1 582.6,181.2 582.9,181.2 583.2,180.3 583.4,180.2 583.5,180.9 583.8,181.3 584.2,180.5 584.5,180.4 584.8,179.1 585,178.9 585.1,181.3 585.5,181.3 585.8,182.1 586.1,180.9 586.3,180.7 586.4,181.7 586.7,184.2 586.8,184.6 587.1,184.2 587.4,184.1 587.7,180.7 588.1,178.9 588.3,177.8 588.4,177.8 588.7,176.9 589,176.1 589.3,175.6 589.4,175.7 589.7,174.3 589.8,174.1 590,174.9 590.3,176.1 590.6,176.6 590.7,176.5 591,176.1 591.1,175.8 591.3,174.9 591.6,174 591.9,173.6 592,173.8 592.3,174.7 592.6,176.2 592.9,177.2 593.3,177.6 593.4,177.4 593.6,177.9 593.8,178.4 593.9,178.1 594.1,176.9 594.2,177.2 594.6,178.5 594.7,180.3 594.9,180.1 595.2,180.7 595.3,181.1 595.6,181 595.7,181.3 595.9,180.9 596.1,181.6 596.2,181.9 596.5,180.6 596.7,179.6 596.9,179.6 597.2,179.6 597.5,181.3 597.6,181.5 597.8,182.3 598.2,182.7 598.4,183.8 598.5,183.5 598.8,184.1 599.1,183.1 599.2,183 599.5,184.5 599.8,186.4 600,187.4 600.1,187.2 600.4,186 600.6,185.8 600.8,185.4 601.1,185 601.4,183.8 601.7,183.2 602,182.5 602.1,182.9 602.4,183.4 602.7,184.3 602.8,184.3 603,185.2 603.4,185.9 603.5,186.1 603.7,184.2 604,183 604.1,182.5 604.3,183.4 604.7,185.3 604.8,185.7 605,185.9 605.3,185.9 605.4,185.8 605.6,185.9 606,184.8 606.3,183.8 606.4,183.4 606.6,183.2 606.9,181.6 607,181.2 607.3,181.8 607.6,182.1 607.9,181.9 608.2,183.8 608.6,184.9 608.9,184.4 609.2,184.1 609.5,183.9 609.9,184.1 610.2,185.6 610.5,186 610.7,185.4 610.8,185 611.1,184.7 611.2,185.5 611.5,189.6 611.6,190.4 611.8,190.9 611.9,191.3 612.1,190.4 612.3,189.7 612.5,189.8 612.8,190.3 613.1,190.7 613.4,191.1 613.8,190.1 613.9,189.5 614.1,189.7 614.4,189.4 614.6,189.7 614.7,190.4 615.1,191.2 615.4,196.6 615.7,198.6 615.9,200.2 616.1,199.7 616.3,198.4 616.4,198.2 616.7,198.2 616.8,198.1 617,198.3 617.4,199.8 617.7,198.8 618,197.5 618.3,198.2 618.7,198.9 619,196.9 619.3,195.9 619.4,195.9 619.6,196.8 620,197.7 620.1,197.9 620.3,195.8 620.4,195.5 620.6,196.3 620.9,196.7 621.1,195.9 621.3,195.7 621.6,195.4 621.9,194.8 622,194.9 622.2,195.8 622.6,197.5 622.7,198.2 622.9,198.3 623.2,197.7 623.5,199 623.6,199.5 623.9,199.5 624.2,200.5 624.5,200.2 624.6,200.4 624.8,199.8 625.2,197.9 625.3,196.7 625.5,198.6 625.6,199.4 625.8,200.2 626.1,200.2 626.2,200.7 626.5,200.7 626.8,200 626.9,200.1 627.1,200.1 627.3,199.8 627.4,199.8 627.8,199.8 628.1,199.7 628.4,199.6 628.6,199.7 628.7,199.8 629.1,199.3 629.4,200.1 629.7,199.5 629.9,199 630,199 630.4,198.3 630.7,198.3 631,197.9 631.1,197.8 631.3,200 631.5,200.7 631.6,203.9 631.7,201.8 632,202.5 632.1,203 632.3,202.8 632.6,203.9 632.9,204 633,204.3 633.3,203.9 633.6,203.3 633.8,202.3 633.9,202.7 634.3,202.5 634.4,202.5 634.6,201.1 634.9,201.9 635.3,201.5 635.4,201.5 635.6,202.1 635.9,203.2 636.2,203.3 636.6,202.6 636.9,203.1 637.2,203.1 637.5,202.7 637.9,202.8 638.1,202.4 638.2,201.8 638.5,200.3 638.7,198.1 638.8,197.7 639.2,197.3 639.4,196.4 639.5,197 639.8,196.2 640.1,196 640.3,195.5 640.5,195.4 640.7,195.5 640.8,195.9 641.1,196.9 641.4,197.1 641.5,197.3 641.8,196.5 642.1,195.5 642.2,195 642.4,195.1 642.7,194.5 643.1,195.6 643.2,196 643.4,195.7 643.7,195.6 644,196.6 644.4,197.5 644.5,197.4 644.7,198.9 645,195.1 645.3,193.2 645.4,192.5 645.7,192.5 646,192.6 646.3,193.4 646.5,192.7 646.6,192.4 647,191.8 647.3,192.2 647.5,191.9 647.6,192 647.9,191.6 648.3,190.8 648.4,190.3 648.6,190.7 648.9,190.9 649,191.5 649.2,191.1 649.6,191.5 649.7,191.8 649.9,191 650.2,191.1 650.5,191.5 650.9,191.5 651,191.7 651.2,192 651.4,192.8 651.5,192.6 651.8,193.8 652.2,193.7 652.5,193.1 652.8,193.4 653.1,192.1 653.3,192 653.5,192.1 653.7,193 653.8,192.8 654.1,193.8 654.5,193.8 654.8,193.7 655.1,194.3 655.4,193.5 655.8,191.8 656.1,190.1 656.4,190.1 656.7,189.8 657.1,189.9 657.2,189.8 657.4,190.1 657.7,189.6 658,190.2 658.2,189.6 658.4,189.8 658.7,189.7 659,190.3 659.3,191.5 659.4,191.2 659.7,191 660,191 660.2,191.2 660.3,190.9 660.6,191.1 661,190.6 661.1,190.8 661.3,191.7 661.6,191.4 661.9,191.5 662,193.1 662.3,192.9 662.6,192.8 662.9,193.1 663.2,193.5 663.3,192.3 663.6,193.3 663.7,193.8 663.9,194.2 664.2,193.8 664.5,194.5 664.8,194.3 664.9,194.1 665.2,194 665.5,193 665.8,194.5 666.2,193.9 666.5,192.7 666.6,192.8 666.8,192.4 666.9,192.1 667.1,192.4 667.5,191.8 667.8,192.7 668,192.9 668.1,192.9 668.4,192.7 668.8,191.4 669,190.8 669.1,190.1 669.4,188.1 669.7,187.3 670.1,187.1 670.3,187.1 670.4,187.4 670.7,187.2 671,186.4 671.2,186.4 671.4,186.8 671.7,187.1 672,187.1 672.3,186.9 672.7,185.6 672.8,185.8 673,185.9 673.3,186 673.4,185.8 673.6,184.3 674,182.5 674.3,183.2 674.6,183.9 675,183.5 675.3,183.7 675.6,182.8 675.9,183.4 676.3,182.5 676.6,183.1 676.8,183.4 676.9,183.1 677,182.1 677.2,182 677.6,181.6 677.9,181.4 678.1,183.2 678.2,183.5 678.5,184.9 678.9,184.8 679.2,184.9 679.5,183.8 679.8,183 679.9,182.9 680.1,182.4 680.5,182.5 680.8,182.3 681,182 681.1,181.7 681.4,180.3 681.7,179.2 681.8,179.4 682.1,179.4 682.4,179.9 682.5,179.4 682.7,177.3 683.1,175.5 683.2,175.3 683.4,174.2 683.7,173.4 683.8,174.8 684,174 684.4,173 684.7,172 685,174.3 685.3,175.5 685.7,174.8 686,173.8 686.2,173 686.3,173.2 686.6,173.9 686.9,174.3 687,174.1 687.3,173.1 687.5,172.4 687.6,172.9 687.9,173.7 688.3,174.3 688.5,175.7 688.6,175.4 688.9,174.5 689,173.8 689.2,175 689.6,176 689.9,176.5 690,176.7 690.2,175.7 690.5,175 690.9,176 691.2,176.2 691.4,175.6 691.5,174.8 691.8,173.5 692,172.5 692.2,172.6 692.5,172.7 692.8,173.1 693.1,173.4 693.5,172.7 693.8,172.6 694.1,173.5 694.4,173.7 694.8,173.7 695.1,174.6 695.2,174.4 695.4,175.3 695.7,175.8 695.8,176 696.1,175.8 696.4,175.5 696.6,175.1 696.7,175.5 697,177.3 697.3,177.6 697.7,176.9 697.8,176.9 698,175.7 698.2,174.4 698.3,173.8 698.6,173 698.8,173.4 699,173.9 699.2,174.2 699.3,173.9 699.6,173.9 699.9,175.3 700.1,175.6 700.3,177.7 700.4,178.3 700.6,176.3 700.7,175.5 700.9,175.6 701.2,176.4 701.5,177 701.6,176.8 701.9,176.1 702.2,175 702.4,174.7 702.5,175.7 702.9,176 703,176.3 703.2,177.2 703.5,178 703.8,178.3 704.2,177 704.5,176.3 704.6,175.9 704.8,175.4 705.1,175.5 705.5,175 705.8,175.6 706.1,174.2 706.4,174.6 706.8,175.8 707.1,176 707.4,175.8 707.5,176 707.7,174.8 708.1,173.8 708.4,173.6 708.7,173.7 709,173.3 709.4,172.3 709.6,172.1 709.7,172.7 710,172.9 710.2,173.5 710.3,172.1 710.4,171.3 710.7,170.8 710.9,170 711,169.1 711.1,168.1 711.3,167.8 711.6,167.7 712,166.3 712.2,165.6 712.3,166.4 712.6,167.2 712.9,166.5 713.3,167 713.6,166.1 713.9,166.4 714,166 714.2,165.5 714.5,164.2 714.9,164.2 715.2,165.9 715.5,165.5 715.8,166.3 716.2,167 716.3,167 716.5,166.7 716.6,166.1 716.8,165 717,165 717.1,165.2 717.4,167.1 717.5,167 717.8,166.6 718.1,165 718.2,164.5 718.4,163.9 718.7,164.2 718.8,164.3 719.1,164.7 719.3,165 719.4,164.6 719.6,164.5 719.8,164.4 720.1,165.1 720.4,165.8 720.7,166.2 721.1,165.9 721.3,165.9 721.4,165.5 721.7,165.9 722,166.3 722.4,167.3 722.6,169 722.7,168.9 722.8,169 723,166.7 723.2,168.3 723.3,168.3 723.7,169.6 723.9,170.5 724,170.1 724.3,169.7 724.6,169.1 725,168.3 725.3,168 725.4,168.2 725.6,168.5 725.9,168.6 726.1,169.4 726.3,169.4 726.4,169.4 726.6,170 726.9,171 727,171.1 727.2,169.9 727.3,169.2 727.6,168.9 727.9,168.7 728,168.8 728.2,168 728.5,166.8 728.9,167.5 729.2,167.2 729.4,166.7 729.5,166.7 729.8,165.9 730.2,164.9 730.3,164.8 730.5,164.6 730.8,165.1 731,164.7 731.1,164 731.5,164.2 731.8,163.1 732.1,163.6 732.4,164.7 732.7,164.6 732.8,164.6 733.1,164.9 733.3,165.1 733.4,164.8 733.7,163.4 734.1,163.5 734.4,163.8 734.6,164.5 734.7,164.6 735,164.8 735.2,165.2 735.4,164.7 735.5,163.9 735.7,163.7 736,164.1 736.1,164.3 736.3,163.6 736.7,163.3 737,163.2 737.3,162.2 737.5,161.6 737.6,162 738,162 738.2,162.1 738.3,162.2 738.6,162.5 738.9,162.6 739.3,161.9 739.4,162.4 739.6,163 739.9,162.2 740.3,162.2 740.6,161.3 740.8,161 740.9,161.4 741.2,162.4 741.4,162.9 741.6,162.4 741.9,162.7 742.1,163.4 742.2,163.8 742.5,163.7 742.9,163.8 743.2,162.8 743.3,163.3 743.5,162.9 743.8,162.3 744,162.3 744.2,162.3 744.5,162.4 744.7,162.1 744.8,162.1 745.1,162.9 745.5,163.6 745.8,163.1 746.1,161.9 746.4,161 746.7,160.8 746.8,161.4 747.1,162.9 747.4,162.5 747.7,163.7 747.8,164.1 748.1,163.6 748.3,163.7 748.4,163.6 748.7,163.1 748.9,162.7 749,162.9 749.3,163.8 749.4,164.1 749.7,164.9 749.8,165.1 750,164.5 750.3,164.4 750.4,164.2 750.7,165.4 750.9,166.6 751,167.3 751.3,168.4 751.6,168.8 752,169 752.3,167.5 752.4,167.4 752.6,168.1 752.7,168.5 752.9,166.8 753.3,166.8 753.6,167 753.9,167.7 754.2,168.5 754.6,168.7 754.9,169 755.2,169 755.4,168.3 755.5,168.5 755.9,168.5 756,168.2 756.2,167.9 756.5,166.8 756.8,167.1 757.2,166.2 757.5,166.1 757.8,166.6 758.1,168 758.5,167.9 758.7,168.5 758.8,168.4 759.1,168.9 759.3,170.5 759.5,170.9 759.7,171.3 759.8,173.1 759.9,175.1 760,172.7 760.1,172.6 760.4,173.2 760.8,173.2 761,173.3 761.1,173.3 761.4,173.7 761.5,173.5 761.7,174 761.9,174.8 762.1,174.3 762.4,173.8 762.7,172.3 762.8,172.1 763,173 763.2,173.7 763.4,173.3 763.7,172.7 764,172.3 764.1,171.9" stroke="#0c2f47" stroke-width="1.1" stroke-linejoin="round"/>
<polyline points="143.8,473.9 145.3,470.9 148.3,465 152.4,457.4 157.4,448.8 163.2,439.4 169.8,429.6 177.1,419.6 185,409.5 193.6,399.5 202.7,389.7 212.4,380 222.7,370.5 233.4,361.3 244.7,352.3 256.5,343.6 268.8,335.1 281.5,326.9 294.7,318.9 308.3,311.2 322.4,303.6 336.9,296.3 351.8,289.3 367.1,282.4 382.9,275.7 399,269.2 415.5,262.9 432.4,256.7 449.7,250.7 467.4,244.9 485.4,239.2 503.9,233.6 522.6,228.2 541.7,223 561.2,217.8 581,212.8 601.2,207.8 621.7,203 642.5,198.3 663.7,193.7 685.2,189.2 707,184.8 729.1,180.5 751.6,176.2 774.3,172.1 797.4,168 820.8,164 844.5,160.1 868.5,156.3 892.8,152.5 917.4,148.8 942.3,145.1 967.5,141.5 993,138 1018.8,134.6 1044.9,131.1 1071.2,127.8 1097.9,124.5 1124.8,121.2 1152,118.1" stroke="#0c2f47" stroke-width="2.15"/>
</g>
<g clip-path="url(#cb)" fill="none"><polyline points="143.2,624.8 143.6,624.9 143.9,625.2 144.2,625.1 144.5,625.1 144.9,625.3 145.2,625.7 145.5,625.9 145.8,626 146,626 146.2,626.1 146.5,625.9 146.8,626.2 147.1,626.2 147.5,626.5 147.8,626.5 148.1,626.7 148.4,626.9 148.8,627 149,627.3 149.1,627.2 149.4,627.1 149.7,627.3 150.1,627.5 150.4,627.9 150.7,628.2 151,628.2 151.4,628.7 151.7,628.9 152,628.9 152.3,628.8 152.6,628.8 152.7,627.9 152.8,626.6 153,626.5 153.3,626.8 153.6,627 154,627 154.3,626.9 154.6,626.3 154.9,625.6 155.3,624.7 155.6,624.3 155.9,622.3 156,621.8 156.2,619.8 156.6,622.4 156.8,624 156.9,623.9 157.2,623.5 157.5,623.1 157.7,622.9 157.9,623 158.2,623.7 158.5,624.2 158.8,624.8 159.2,625 159.5,625 159.8,624.8 160.1,624.9 160.4,625 160.5,625.3 160.8,625.1 161.1,624.7 161.4,624.6 161.8,624.2 162.1,624.4 162.4,624.4 162.8,624.3 163.1,624.1 163.4,623.8 163.7,623.4 164.1,622.8 164.4,622.2 164.7,621.9 165,621.4 165.4,620.6 165.6,620.3 165.7,619.9 166,618.8 166.3,618.2 166.5,617.5 166.7,617.9 167,618.4 167.3,619 167.6,619.8 168,619.5 168.3,619.5 168.6,619.6 168.9,620.1 169.3,620.1 169.6,620.1 169.9,620.2 170.2,621.3 170.6,621.7 170.7,621.9 170.9,622.2 171.2,622.2 171.5,622.3 171.9,622.7 172.2,623.1 172.4,623.2 172.5,622.8 172.8,622.3 173.2,621.5 173.5,621.1 173.8,619.9 174.1,619.1 174.5,618 174.6,617.9 174.8,616 175.1,612.6 175.2,611.4 175.4,611 175.8,611 176.1,610.5 176.2,610.6 176.4,608.1 176.7,603.9 177.1,604.7 177.4,605.9 177.5,606.3 177.7,605.4 178,604.5 178.4,603.2 178.6,602.8 178.7,600.7 179,596.3 179.2,592.1 179.3,590.1 179.5,588.4 179.7,594.7 179.8,598.1 180,595.9 180.1,595.1 180.3,595.2 180.6,596.9 180.9,597.8 181,598.3 181.3,598.5 181.6,598.9 181.8,598.7 181.9,599 182.3,600 182.6,600.3 182.9,600.5 183.3,600.7 183.4,600.6 183.6,600.9 183.9,601.2 184.2,601.2 184.6,601.6 184.9,601.4 185.2,602.1 185.5,604.3 185.9,607.4 186,607.8 186.2,607.3 186.5,605.9 186.7,604.6 186.8,604.8 187.2,605.4 187.5,606.3 187.8,607.4 188.1,607.9 188.5,608.2 188.6,608.6 188.8,609.1 189.1,610.4 189.4,612.2 189.5,612.6 189.8,613.2 190.1,614.3 190.4,613.7 190.7,613.3 190.8,613.1 191.1,613.7 191.4,614.4 191.7,614.7 191.8,615 192,615.1 192.4,616 192.7,616.9 192.8,617.6 193,618.4 193.3,620.6 193.7,622.3 193.9,623 194,622.7 194.3,621.7 194.6,621.5 195,620.6 195.2,620.7 195.3,620.8 195.6,621.1 195.9,621.3 196.2,621.7 196.3,622 196.6,623.6 196.9,624.8 197,625.3 197.2,625 197.6,624.1 197.9,623.6 198.2,622.8 198.4,622.6 198.5,622.8 198.9,623 199.2,623 199.5,622.4 199.8,622.6 200,622.7 200.2,622.4 200.5,621.6 200.8,621 201,620.8 201.1,620.9 201.5,620.5 201.7,619.8 201.8,619.4 202.1,618 202.4,616.3 202.6,616 202.8,615.7 203.1,616.4 203.3,616.7 203.4,616.8 203.7,617.7 204.1,618.3 204.4,618.9 204.7,618.8 205,618.6 205.2,618.9 205.4,619.3 205.7,619.1 206,619.6 206.1,619.8 206.3,620.6 206.7,621.9 206.9,622.9 207,622.7 207.3,622.7 207.6,622.2 208,622 208.3,622.2 208.6,622.1 208.9,621.9 209.3,622 209.6,622 209.8,622.1 209.9,622.1 210.2,622.7 210.6,623.3 210.9,623.3 211.2,623.2 211.5,623.7 211.6,623.6 211.9,623.9 212.2,624.1 212.5,624 212.8,623.9 213.2,624.2 213.5,624.2 213.8,624.2 214.1,624 214.5,624 214.8,624.6 214.9,624.8 215.1,624.5 215.4,624.1 215.8,624.5 216.1,625 216.4,625.3 216.7,625.6 217.1,625.9 217.4,625.6 217.7,625.8 218,625.5 218.2,625.6 218.4,625.8 218.7,625.3 219,625.4 219.3,624.7 219.6,624.2 219.8,624.4 220,624.6 220.3,624.4 220.6,624.2 220.9,624.1 221.3,623.9 221.5,624.7 221.6,624.5 221.9,623.7 222.2,623.4 222.6,623.2 222.9,623.9 223,624 223.2,623.2 223.5,623.1 223.9,623.1 224.2,622.9 224.5,622.4 224.8,622.4 225.2,621.9 225.5,621.7 225.8,620.8 226.1,620.2 226.5,619.1 226.8,625 227.1,624.2 227.4,622.4 227.8,622.8 228.1,623 228.2,623.2 228.4,623.1 228.7,622.9 229.1,622.2 229.4,622.4 229.7,622.1 230,622.2 230.4,623 230.7,622.9 231,622.5 231.3,622.2 231.4,622.2 231.7,622.1 232,622.4 232.3,622.2 232.6,622.8 233,623.4 233.3,624.2 233.6,624.6 233.9,625.2 234.3,625.5 234.6,624.6 234.8,625.1 234.9,624.7 235.2,624.8 235.6,625.1 235.9,625.3 236.2,625.6 236.3,625.5 236.5,625.1 236.8,625.1 237.2,625.1 237.5,624.7 237.8,625.1 238,624.8 238.1,624.7 238.5,624.5 238.8,624.4 239.1,624.7 239.4,624.7 239.6,624.6 239.8,625.1 240.1,625.5 240.4,625.5 240.7,625.5 241.1,625.8 241.3,625.4 241.4,626 241.7,625.9 242,625.5 242.4,626 242.7,625.8 242.9,625.4 243,625.5 243.3,624.7 243.7,623.8 244,623.5 244.3,622.5 244.6,622.7 244.8,621.9 245,621.8 245.3,620.9 245.6,620.1 245.9,619.6 246.3,619 246.6,618.2 246.9,617.8 247.2,617.8 247.6,616.7 247.8,616.4 247.9,615.6 248.2,613.6 248.3,612.9 248.6,613.1 248.9,613.6 249,613.5 249.2,611.7 249.5,609.8 249.9,608.4 250.2,606.7 250.5,604.4 250.7,603.5 250.8,602.8 251.2,601.3 251.5,597.7 251.6,596.3 251.8,592 252,587.8 252.1,593.5 252.3,604.2 252.5,604.5 252.8,608.7 253.1,602 253.2,599.1 253.4,598.3 253.8,597.3 254.1,599.7 254.4,600.8 254.7,603.8 255.1,602.4 255.4,602.9 255.7,601.5 255.9,601.8 256,601.5 256.4,602.6 256.7,601.1 257,601.3 257.3,601.1 257.7,600.6 257.8,600.5 258,600.8 258.3,602.9 258.6,604.1 258.7,604.2 259,603.9 259.3,604.9 259.6,604.4 259.8,604.4 259.9,604.5 260.3,605.4 260.6,606.3 260.9,608.3 261,608.2 261.2,610.3 261.5,612.4 261.6,611.4 261.9,609.5 262,608.6 262.2,608.2 262.5,608.9 262.9,609 263.1,608.4 263.2,608 263.5,608.2 263.8,607.3 264.2,607.4 264.4,606.9 264.5,607.4 264.8,607.6 265.1,606.7 265.5,606.9 265.8,606.3 265.9,606.6 266.1,606.5 266.4,605.4 266.8,604.2 267.1,604.3 267.4,604.1 267.8,603.6 268.1,603.2 268.4,603.6 268.7,604.5 269.1,604.9 269.3,605.3 269.4,604.4 269.7,605.3 270,606.3 270.4,607.4 270.7,607.2 271,605.6 271.1,608.9 271.3,608.5 271.7,607 271.8,606.7 272,605.8 272.3,605.5 272.5,604.8 272.6,604.3 273,603 273.3,601.9 273.6,600.5 273.9,599.4 274.3,599.2 274.4,599.5 274.6,598.2 274.9,595.2 275.2,591.7 275.3,590.1 275.6,588.5 275.7,587 275.9,582.7 276.2,575.2 276.5,578.7 276.9,574.7 277,572.4 277.2,568.7 277.4,564.4 277.5,566.4 277.6,568.7 277.8,565.7 277.9,564.2 278.2,572.5 278.3,576 278.5,571.9 278.6,569.1 278.8,570.6 279,571.4 279.1,573.5 279.5,583.1 279.8,580.8 279.9,579.4 280.1,576.8 280.3,575.3 280.4,575.6 280.8,575.5 280.9,575.6 281.1,574 281.4,570.8 281.5,570.3 281.7,570.8 282.1,571.7 282.4,573 282.5,573.4 282.7,573.3 283,574.2 283.4,574.3 283.6,575 283.7,574.6 284,574.4 284.3,574.7 284.7,576.4 285,578.3 285.3,579.7 285.6,580.5 285.8,580.9 286,581.5 286.3,583.9 286.4,584.4 286.6,584.5 286.9,585.4 287.3,582.9 287.6,581 287.9,581.6 288.3,582.1 288.4,582.8 288.6,583.3 288.9,584 289.2,584.1 289.4,584.7 289.6,585.4 289.9,585.9 290.2,587.2 290.5,588.8 290.7,589.6 290.9,590.3 291.2,592.5 291.5,593.9 291.7,595.6 291.8,594.2 292.2,590 292.3,588.5 292.5,588.7 292.8,589.5 293.1,590.3 293.3,591.6 293.5,591.5 293.8,592.2 294,591.9 294.1,591.6 294.4,592.4 294.8,592.5 295,593.2 295.1,593.3 295.4,592.5 295.7,592.1 296.1,591.6 296.4,589.3 296.7,588.6 296.8,588.1 297,586.9 297.4,585.8 297.6,585.4 297.7,585.8 298,586.8 298.3,587.8 298.7,588.5 298.9,588.6 299,588.8 299.3,588.8 299.6,589.6 300,590 300.3,588.4 300.6,587.5 300.9,587.4 301.3,588.3 301.6,588.6 301.9,588.6 302.1,588.8 302.2,588.5 302.6,588.7 302.9,589.4 303.2,589.4 303.5,590.5 303.9,590.6 304,590.5 304.2,590.4 304.5,590.3 304.8,591 305,591.1 305.2,591.9 305.5,594.4 305.8,596.8 306.1,596.1 306.5,595 306.6,595 306.8,596.3 307.1,596.4 307.3,596.7 307.5,596.7 307.8,596.8 308.1,597.1 308.3,597 308.4,597 308.8,598 309.1,599.3 309.4,601.3 309.7,602.2 310.1,602.4 310.4,603 310.6,602.5 310.7,603.3 311,606.4 311.4,604.6 311.7,604.1 312,602.9 312.1,602.7 312.3,603.5 312.7,604.4 313,605.3 313.2,605.6 313.3,605.5 313.6,606.7 314,607.4 314.3,606.7 314.5,606.1 314.6,606 314.9,604.6 315.3,602.7 315.6,604.2 315.9,605.7 316,606.5 316.2,606.2 316.6,606.4 316.9,606.5 317.2,605.6 317.5,605.1 317.9,605.8 318.2,606.9 318.5,607.2 318.7,608.2 318.8,608.5 319.2,610.3 319.5,610 319.8,610.2 320.1,610.6 320.5,610.4 320.8,612.4 321,614 321.1,615.2 321.4,617.1 321.8,619.9 322,622.1 322.1,621.5 322.4,620.3 322.6,619 322.7,618.1 323.1,617 323.3,614.9 323.4,615.5 323.7,617.6 323.9,618.5 324,618.2 324.4,618.9 324.7,618.9 325,618.8 325.3,618.7 325.5,618.5 325.7,618.8 326,618.4 326.3,618.6 326.7,618.5 327,617.2 327.3,617.4 327.6,617 328,616.3 328.2,615.3 328.3,615.5 328.6,617 328.9,617.9 329,618.1 329.3,618.3 329.6,618.7 329.9,619.2 330.2,619.5 330.3,619.8 330.6,619.7 330.9,620.7 331.2,621.6 331.5,621.1 331.9,622.3 332.2,621.9 332.5,622.1 332.8,621.8 333.2,621.3 333.5,622.4 333.6,622.2 333.8,622.1 334.1,622 334.5,621.1 334.8,622.1 335.1,622.4 335.4,622.1 335.8,622.1 336.1,622.2 336.4,622.8 336.7,624 337,624.2 337.1,624.7 337.4,625.1 337.7,624.7 338,624.5 338.4,624.1 338.5,624 338.7,624.2 339,623.8 339.3,623 339.7,623.2 340,622.3 340.2,623 340.3,622.6 340.6,622.1 341,621.3 341.3,620.6 341.4,619.9 341.6,620.4 341.9,621.1 342.3,622 342.6,622.2 342.8,622 342.9,621.9 343.2,622.7 343.6,622.8 343.9,622.7 344.2,622.9 344.5,623.5 344.9,624.2 345.1,624.7 345.2,625.3 345.5,627 345.8,628 346.1,629.3 346.2,629.3 346.5,628.4 346.8,628 346.9,628.1 347.2,628.3 347.5,628.5 347.8,628.5 348.1,628.6 348.5,628.5 348.8,629 349.1,629 349.4,629.3 349.8,629 350.1,629.1 350.2,628.8 350.4,629.2 350.7,628.6 351.1,629.2 351.4,628.9 351.7,628.1 352,627.9 352.4,627.3 352.7,626.6 352.8,626.4 353,625.4 353.3,625 353.6,624.1 353.7,622.8 353.9,619.6 354,620.5 354.3,622.9 354.6,625.5 355,625.3 355.3,625.7 355.6,625 355.9,624.8 356.3,623.9 356.6,623.6 356.8,623.4 356.9,623.1 357.2,622.4 357.6,621.8 357.9,621 358,620.1 358.2,619.5 358.3,618.8 358.5,619.4 358.9,620.1 359.2,620 359.4,619.8 359.5,619.6 359.8,620.8 360.1,621.2 360.2,621 360.5,620.4 360.8,620.2 361.1,622.7 361.5,624.6 361.7,625.3 361.8,624.9 362.1,624.6 362.4,624.4 362.8,624.1 363.1,624.7 363.4,624.9 363.5,625.6 363.7,626 364.1,625.5 364.4,625.6 364.7,625.1 365,624.6 365.4,624.2 365.7,624.9 366,624.5 366.3,623.9 366.7,623.8 367,624.3 367.3,624 367.6,624.1 368,624.8 368.2,625.3 368.3,625.5 368.6,625.6 368.9,625.9 369.3,625.5 369.6,625.4 369.9,626.1 370,626.1 370.2,626.3 370.6,626.6 370.9,626.4 371.2,626.3 371.5,626.2 371.9,626.3 372.2,625.5 372.5,625.4 372.8,625.7 373.1,626 373.3,625.8 373.5,625.4 373.8,625.1 374.1,626.2 374.4,626.3 374.8,626.2 375.1,625.4 375.4,624.6 375.7,624.4 376.1,623.7 376.2,623.8 376.4,623.2 376.7,623.5 377,622.2 377.4,620.8 377.7,618.7 378,617.8 378.2,616.3 378.3,617.5 378.7,619.8 378.9,622.1 379,622.4 379.3,621.2 379.6,621 379.9,619.9 380,619.8 380.3,619.8 380.6,620.2 380.9,620.6 381.3,621 381.4,620.8 381.6,620.9 381.9,621 382.2,622.4 382.6,622.9 382.9,623.5 383.2,623.7 383.3,625.8 383.5,625.6 383.9,625.7 384.2,625.4 384.5,625.9 384.7,625.7 384.8,625.1 385.2,624.9 385.5,625.5 385.8,626.5 386.1,626.1 386.5,625.9 386.6,626.4 386.8,626.2 387.1,625.9 387.4,625.8 387.8,626.1 388.1,625.7 388.4,625.5 388.7,625.4 389.1,626 389.4,625.4 389.7,625.5 389.8,626.2 390,626 390.3,626.1 390.7,626 391,625.6 391.3,625.9 391.6,625.5 392,625.2 392.3,624.8 392.6,624.7 392.9,623.7 393.2,623.7 393.3,624.1 393.6,623.9 393.9,624.1 394.1,624.6 394.2,624.4 394.6,624.8 394.9,624.3 395.2,624 395.5,624.3 395.9,623.6 396.2,624.1 396.4,624.3 396.5,624.4 396.8,624.7 397.2,624.5 397.5,624.6 397.8,624.4 397.9,624.2 398.1,623.5 398.5,622.4 398.8,621.8 399,621.5 399.1,621.6 399.4,620.4 399.7,620 399.8,619.1 400.1,616.4 400.4,620.4 400.7,623.9 400.8,625.5 401.1,624.9 401.4,624.6 401.7,623 401.8,622.7 402,622.1 402.4,622.5 402.7,621.6 403,621.1 403.1,621 403.3,621 403.7,621.8 404,621 404.3,621 404.6,621 405,619.8 405.3,618.8 405.6,617.6 405.9,617 406.3,616.5 406.4,615.8 406.6,617.5 406.9,618.6 407.1,619.7 407.2,619.9 407.6,618.4 407.8,617.1 407.9,618 408.2,620.5 408.5,623.3 408.7,624.4 408.9,623.9 409.2,623 409.5,621.4 409.8,620.4 410.2,620 410.5,619.3 410.8,620.1 411,619.9 411.1,619.6 411.5,618.4 411.8,617.7 412.1,617.3 412.5,616.6 412.8,616 413.1,614.4 413.4,612.4 413.8,611 414.1,609.4 414.4,609.1 414.7,607.6 414.8,607.3 415.1,605.6 415.4,603.2 415.6,607.6 415.7,606.7 416,603.7 416.1,603.5 416.4,602.5 416.7,600.5 417,598.5 417.2,598.1 417.3,599.4 417.7,603.6 418,602.1 418.2,600.9 418.3,600.9 418.6,600.6 419,602.2 419.3,603.7 419.4,604.5 419.6,604.7 419.9,605.3 420.3,606 420.4,606 420.6,608 420.9,610.3 421,611.5 421.2,606.2 421.5,600.7 421.6,601.1 421.9,601 422.2,600.9 422.5,601.7 422.8,602.7 422.9,601.9 423.2,598.8 423.5,596.5 423.8,594.4 424.2,592 424.3,591 424.5,591.2 424.8,591.2 425,591.9 425.1,590.9 425.5,590.1 425.8,588.9 426.1,586.7 426.4,588.4 426.8,590.7 426.9,591 427.1,593.8 427.4,598 427.5,599.9 427.7,596.2 428,593.1 428.1,592.8 428.4,594.1 428.7,594.6 429,593.2 429.4,591.4 429.7,590.4 430,590.6 430.3,589.2 430.7,585.7 430.9,584 431,583.4 431.3,584.3 431.7,583.9 432,584.1 432.3,581.8 432.6,579.6 432.7,579.2 433,578.2 433.3,577.5 433.5,576.2 433.6,578.2 433.9,583.8 434.3,578.7 434.5,575.5 434.6,574.7 434.9,572.7 435.2,572.2 435.3,571.5 435.6,569.1 435.9,565.3 436,564 436.2,558.8 436.5,550 436.6,547.8 436.9,550.5 437,552.7 437.2,550 437.5,543.9 437.6,543 437.8,545.2 437.9,546.8 438.2,552.5 438.3,556.4 438.5,553.9 438.7,551.5 438.8,553.5 439.1,560.1 439.2,556 439.5,554.1 439.8,550.9 439.9,548.9 440.1,552.9 440.4,558.4 440.8,562.2 441,564.5 441.1,564.2 441.4,560.5 441.7,562.3 442,565.6 442.1,567.3 442.4,570.7 442.7,573.3 443,580.5 443.1,582.6 443.4,579.6 443.7,575.6 444,573 444.2,570.6 444.3,570.7 444.7,567 444.8,566.8 445,569.6 445.3,572.5 445.6,570.3 446,567.6 446.2,566.4 446.3,569 446.6,574.2 446.9,575.9 447.3,578.6 447.6,577 447.9,576.2 448.2,579.6 448.6,582.2 448.9,585.5 449.2,586.5 449.5,586.9 449.7,586.8 449.9,585.1 450.2,582.7 450.3,581.3 450.5,581.4 450.8,580.1 451.2,578.3 451.5,576.1 451.6,575 451.8,575.8 452.2,576.9 452.3,576.7 452.5,576 452.8,574.8 453.1,576.6 453.5,579.7 453.6,580.4 453.8,579.9 454.1,580.2 454.4,580.6 454.8,582.2 455.1,585.6 455.3,586.9 455.4,586.5 455.7,585.7 456.1,585 456.2,584.9 456.4,586.4 456.7,589.8 457,591.7 457.4,589.5 457.7,589.1 457.8,589.8 458,590.6 458.3,592.8 458.7,594.5 459,594.2 459.3,591.8 459.4,591.2 459.6,591.5 460,594 460.2,593.3 460.3,591.8 460.6,589 460.7,588.2 460.9,586.6 461.3,584.3 461.5,584 461.6,584.4 461.9,585 462.2,587 462.6,590.5 462.9,592.7 463.2,594.4 463.3,595.2 463.5,595 463.9,594 464.2,595.2 464.4,594.8 464.5,594.8 464.8,592 465.2,591.5 465.3,591.3 465.5,590.5 465.8,590.4 466,590.4 466.1,591.7 466.5,596.2 466.8,596.6 467.1,596.3 467.4,596.3 467.8,595.2 468.1,596 468.4,596 468.7,595.9 469,595.2 469.1,596.1 469.4,596.7 469.7,598.3 470,597.5 470.4,595.4 470.5,595.9 470.7,596.7 471,596.6 471.4,597.8 471.7,598.5 472,599.3 472.3,597.8 472.7,598.2 473,597.3 473.3,599.6 473.6,601.8 473.7,602 474,604.6 474.3,608.9 474.4,610.1 474.6,612.7 474.9,615.1 475.3,612.7 475.4,611.8 475.6,613.6 475.9,617.1 476.2,619 476.6,619.7 476.9,620.5 477.1,620.9 477.2,619.8 477.5,615.6 477.6,614.1 477.9,614 478.1,614.5 478.2,616 478.4,618.2 478.5,617.6 478.8,617.3 479.2,615.6 479.5,615.2 479.8,616.3 480.1,617.7 480.5,619.1 480.8,619.1 481.1,619.4 481.4,619.4 481.8,620.7 481.9,620.9 482.1,620.9 482.4,620.8 482.7,621 483,621.8 483.1,621.3 483.3,619.9 483.4,619.6 483.7,619.8 484,619.5 484.4,619.1 484.7,617 484.9,619.4 485,619.5 485.3,619.6 485.7,620 486,620.5 486.3,620 486.6,620.4 486.9,619.4 487,619.4 487.3,618.7 487.6,619.1 487.9,618.5 488.3,618.1 488.6,618 488.7,618.4 488.8,613.2 488.9,613.3 489.2,612.6 489.6,611.2 489.7,611.1 489.9,610.4 490.2,610.9 490.6,610 490.9,608.9 491.1,610.2 491.2,610.2 491.5,611.2 491.9,612 492.2,610.8 492.5,609.3 492.7,608.7 492.8,607.2 493.2,602 493.3,599.9 493.5,601.1 493.7,602.4 493.8,602.1 494.1,603 494.5,601.3 494.8,600.4 495.1,598.6 495.4,599.6 495.8,601 496.1,599.4 496.4,599.1 496.7,598.3 496.8,597.3 497.1,595 497.4,591.8 497.6,590.8 497.7,589.6 498,583.9 498.3,587.2 498.4,588.4 498.7,590.9 499,589.2 499.3,588.5 499.6,587.2 499.7,588.4 500,591.2 500.3,595.4 500.6,595.8 500.9,593.5 501,594.4 501.3,596.4 501.5,596.6 501.6,594.9 501.9,592.2 502.3,590.5 502.5,589.3 502.6,589.7 502.9,591.6 503.2,593.9 503.5,595.7 503.6,595.8 503.9,594.3 504,593.3 504.2,594.4 504.5,595.6 504.9,598 505,598.1 505.2,596.8 505.5,595.8 505.7,594.6 505.8,594.7 506.2,594 506.5,594.5 506.8,595.8 507.1,597.2 507.4,596.6 507.5,597.8 507.8,602.1 508,604.9 508.1,604.8 508.4,605.3 508.8,605.2 509.1,603.8 509.4,604.1 509.5,603.7 509.7,604.7 510.1,606.3 510.4,607.4 510.7,607.6 510.9,608.8 511.1,606.6 511.3,601.7 511.4,601.4 511.7,600.2 512,600.9 512.4,601.9 512.7,603.4 513,604.6 513.3,605.8 513.4,605.6 513.7,606.8 514,608.9 514.3,609.8 514.5,611.9 514.6,612.1 515,612.2 515.3,612.1 515.6,611.2 515.9,611.1 516.3,611.7 516.6,613.1 516.9,615.3 517.2,614.3 517.6,613 517.8,612.8 517.9,613.5 518.2,613 518.4,613.3 518.5,612.7 518.9,610.7 519.2,610.3 519.3,609.9 519.5,609.4 519.8,608.2 520.2,606.7 520.4,606.9 520.5,608.3 520.8,608.3 521.1,609.4 521.5,607.9 521.8,607.4 522.1,605.9 522.3,605.1 522.4,604.9 522.8,604.5 523.1,602.3 523.2,603 523.4,604 523.7,604.5 523.9,605.8 524.1,607.1 524.4,607.7 524.7,609.5 524.8,609.6 525,608.9 525.4,609.3 525.7,608.4 525.9,613.3 526,618 526.2,628.6 526.3,627.8 526.4,627.3 526.6,628.4 527,623.6 527.1,621.9 527.3,620.5 527.6,619.6 527.9,620.4 528.3,620.4 528.4,620.4 528.6,620.8 528.9,619.7 529.2,620.3 529.4,619.3 529.6,620.1 529.9,620.4 530.2,620.9 530.4,620 530.5,619.2 530.9,617.8 531.2,615.9 531.5,612.6 531.8,610.4 532.2,608.8 532.3,608 532.5,611.4 532.6,612.7 532.8,611.9 533.1,610.7 533.5,610.9 533.7,610.3 533.8,609.8 534.1,610.2 534.4,610.1 534.8,608.6 535,608.3 535.1,608.7 535.4,610.4 535.7,610.8 536.1,610.1 536.4,612.1 536.5,611.8 536.7,611.2 537,613.4 537.4,614.3 537.7,614.1 537.9,613.5 538,613.9 538.3,612.9 538.7,614.2 539,612.8 539.3,613.3 539.6,614.4 539.7,613.9 540,613.3 540.3,613.7 540.5,613.1 540.6,612.5 540.9,608.5 541,608.2 541.3,609.2 541.6,607.7 541.7,608.1 541.9,607.2 542.2,607.4 542.6,605.7 542.9,606.2 543.2,605.7 543.3,605.1 543.5,605.8 543.8,606.7 544.2,608.4 544.5,607.2 544.8,606.6 544.9,606.8 545.1,610.2 545.4,612.7 545.5,612.3 545.8,611.4 546.1,609.5 546.4,609.1 546.8,610.3 547,611 547.1,611.4 547.4,610.4 547.7,611.1 548.1,612.2 548.2,612.5 548.4,612.4 548.7,612.3 549,611.2 549.1,610.6 549.4,609.9 549.7,608.3 550,607.7 550.3,606.6 550.7,605.5 551,605.3 551.3,603.7 551.4,604.3 551.6,602.8 552,599.9 552.3,599.7 552.6,599.5 552.9,599.8 553,599.4 553.3,598.6 553.6,595.7 553.9,593.9 554,592.9 554.2,597.3 554.6,594.5 554.8,593.9 554.9,595.2 555.2,594.8 555.5,596.1 555.9,595.9 556.2,591.6 556.4,589.6 556.5,588.8 556.8,585.8 557.2,582.8 557.5,581.3 557.8,578.8 558,577.6 558.1,575.6 558.3,572.2 558.5,570.8 558.8,565.3 558.9,563.3 559.1,567.2 559.2,569.4 559.4,566.5 559.5,565.2 559.8,569.4 560.1,574.5 560.3,576 560.4,576.6 560.7,576.4 560.9,576.8 561.1,575.4 561.4,574.3 561.5,572.8 561.7,568.6 562,563.7 562.2,558.9 562.4,558.7 562.7,557.5 563,557.4 563.3,554.1 563.7,549.3 563.9,556.9 564,557.5 564.3,558.6 564.4,560.8 564.6,557.7 565,557.4 565.3,554.5 565.6,550.1 565.8,547.2 565.9,547.7 566.3,548.8 566.4,550.3 566.6,552.1 566.9,555.2 567.1,555.7 567.2,554.8 567.6,551.7 567.9,549.8 568.2,548.1 568.5,549.4 568.9,547.5 569.2,546.9 569.5,550.9 569.7,552.9 569.8,554.7 570.2,556.9 570.5,559.6 570.8,559.6 571.1,554.1 571.4,552.8 571.5,552.8 571.8,552.2 571.9,551.7 572.1,555.7 572.3,560 572.4,561 572.7,562.7 572.8,565.4 573.1,573.4 573.3,573.2 573.4,573.8 573.5,576.4 573.7,572.9 573.9,571.1 574.1,574.8 574.2,576.8 574.4,573.7 574.7,571.6 575,575 575.3,578.8 575.4,578.1 575.7,572.7 575.9,570.6 576,572.1 576.4,576.2 576.7,578.2 576.8,580.6 577,581 577.1,582 577.3,579.3 577.5,576.6 577.7,576.8 578,577.4 578.1,577.6 578.3,577.3 578.6,579.8 579,580.8 579.3,583.4 579.6,584.7 579.8,585.6 579.9,584.6 580.3,579.5 580.4,578.4 580.6,574.9 580.9,570.9 581.2,572.6 581.4,573.8 581.6,573.1 581.9,570.1 582.1,567.9 582.2,567.4 582.5,566.4 582.6,566.7 582.9,566.7 583.2,564.8 583.4,564.8 583.5,566.3 583.8,567.3 584.2,565.7 584.5,565.8 584.8,563 585,562.5 585.1,568 585.5,568.1 585.8,570 586.1,567.5 586.3,567.1 586.4,569.4 586.7,574.9 586.8,575.7 587.1,575.1 587.4,574.9 587.7,567.8 588.1,563.9 588.3,561.5 588.4,561.6 588.7,559.5 589,557.9 589.3,556.8 589.4,557.3 589.7,554.2 589.8,553.7 590,555.5 590.3,558.5 590.6,559.8 590.7,559.6 591,558.8 591.1,558.1 591.3,556.1 591.6,554.2 591.9,553.5 592,554 592.3,556.2 592.6,559.6 592.9,562.2 593.3,563.2 593.4,562.8 593.6,564 593.8,565.3 593.9,564.6 594.1,561.9 594.2,562.7 594.6,565.7 594.7,569.7 594.9,569.5 595.2,571 595.3,571.9 595.6,571.7 595.7,572.5 595.9,571.6 596.1,573.2 596.2,574 596.5,571.2 596.7,569.1 596.9,569.1 597.2,569.4 597.5,573.3 597.6,573.7 597.8,575.5 598.2,576.6 598.4,579 598.5,578.5 598.8,579.9 599.1,577.7 599.2,577.7 599.5,580.9 599.8,585 600,587.2 600.1,586.8 600.4,584.5 600.6,584.1 600.8,583.5 601.1,582.7 601.4,580.3 601.7,579.1 602,577.6 602.1,578.7 602.4,579.9 602.7,581.9 602.8,582 603,583.9 603.4,585.5 603.5,585.9 603.7,582.1 604,579.6 604.1,578.5 604.3,580.6 604.7,584.8 604.8,585.7 605,586.2 605.3,586.4 605.4,586.2 605.6,586.4 606,584.4 606.3,582.4 606.4,581.4 606.6,581.2 606.9,577.7 607,576.9 607.3,578.5 607.6,579.3 607.9,578.9 608.2,583.2 608.6,585.5 608.9,584.8 609.2,584.2 609.5,583.9 609.9,584.5 610.2,587.8 610.5,588.8 610.7,587.6 610.8,586.8 611.1,586.4 611.2,588.1 611.5,596.8 611.6,598.4 611.8,599.4 611.9,600.4 612.1,598.6 612.3,597.3 612.5,597.4 612.8,598.7 613.1,599.7 613.4,600.6 613.8,598.6 613.9,597.4 614.1,597.9 614.4,597.6 614.6,598.1 614.7,599.7 615.1,601.6 615.4,612.3 615.7,616.3 615.9,619.3 616.1,618.4 616.3,616.1 616.4,615.8 616.7,616 616.8,615.7 617,616.2 617.4,619.3 617.7,617.5 618,615.1 618.3,616.7 618.7,618.1 619,614.4 619.3,612.6 619.4,612.6 619.6,614.5 620,616.4 620.1,616.7 620.3,612.8 620.4,612.2 620.6,614 620.9,614.8 621.1,613.4 621.3,613 621.6,612.6 621.9,611.6 622,611.8 622.2,613.6 622.6,617.1 622.7,618.4 622.9,618.7 623.2,617.7 623.5,620.3 623.6,621.4 623.9,621.4 624.2,623.5 624.5,623.1 624.6,623.4 624.8,622.3 625.2,618.9 625.3,616.7 625.5,620.4 625.6,622 625.8,623.6 626.1,623.7 626.2,624.7 626.5,624.8 626.8,623.5 626.9,623.8 627.1,623.9 627.3,623.5 627.4,623.4 627.8,623.7 628.1,623.7 628.4,623.6 628.6,623.9 628.7,624 629.1,623.2 629.4,624.9 629.7,624 629.9,623 630,623.1 630.4,621.8 630.7,622 631,621.4 631.1,621.2 631.3,625.6 631.5,626.9 631.6,632.1 631.7,629 632,630.4 632.1,631.4 632.3,631.2 632.6,632.1 632.9,632.1 633,632.1 633.3,632.1 633.6,632.1 633.8,630.9 633.9,631.6 634.3,631.4 634.4,631.5 634.6,629 634.9,630.5 635.3,630 635.4,630.1 635.6,631.3 635.9,632.1 636.2,632.1 636.6,632.1 636.9,632.1 637.2,632.1 637.5,632.1 637.9,632.1 638.1,632.1 638.2,631.7 638.5,629.1 638.7,625 638.8,624.4 639.2,623.8 639.4,622.1 639.5,623.3 639.8,621.9 640.1,621.6 640.3,620.7 640.5,620.6 640.7,620.9 640.8,621.6 641.1,623.8 641.4,624.2 641.5,624.7 641.8,623.2 642.1,621.4 642.2,620.6 642.4,620.8 642.7,619.9 643.1,622 643.2,622.9 643.4,622.4 643.7,622.4 644,624.4 644.4,626.4 644.5,626.1 644.7,629.1 645,621.9 645.3,618.3 645.4,617 645.7,617 646,617.3 646.3,619.1 646.5,617.9 646.6,617.3 647,616.1 647.3,617.1 647.5,616.6 647.6,616.8 647.9,616.2 648.3,614.7 648.4,613.8 648.6,614.6 648.9,615.1 649,616.4 649.2,615.7 649.6,616.7 649.7,617.4 649.9,615.8 650.2,616.2 650.5,617 650.9,617.2 651,617.7 651.2,618.5 651.4,620.1 651.5,619.8 651.8,622.3 652.2,622.1 652.5,621.1 652.8,621.8 653.1,619.5 653.3,619.3 653.5,619.5 653.7,621.4 653.8,621 654.1,623.2 654.5,623.4 654.8,623.3 655.1,624.7 655.4,623.1 655.8,620 656.1,616.6 656.4,616.7 656.7,616.3 657.1,616.6 657.2,616.5 657.4,617.1 657.7,616.2 658,617.5 658.2,616.5 658.4,617 658.7,617 659,618.2 659.3,620.7 659.4,620.2 659.7,620 660,620 660.2,620.5 660.3,619.9 660.6,620.5 661,619.7 661.1,620.1 661.3,622 661.6,621.6 661.9,622 662,625.2 662.3,624.9 662.6,624.8 662.9,625.6 663.2,626.5 663.3,624.1 663.6,626.2 663.7,627.2 663.9,628.2 664.2,627.5 664.5,629.1 664.8,628.6 664.9,628.3 665.2,628.4 665.5,626.5 665.8,629.5 666.2,628.5 666.5,626.2 666.6,626.5 666.8,625.8 666.9,625.1 667.1,625.9 667.5,624.9 667.8,626.7 668,627.4 668.1,627.4 668.4,627 668.8,624.6 669,623.5 669.1,622 669.4,618 669.7,616.7 670.1,616.2 670.3,616.5 670.4,617 670.7,616.9 671,615.3 671.2,615.3 671.4,616.2 671.7,616.9 672,617.2 672.3,616.8 672.7,614.3 672.8,614.8 673,615 673.3,615.4 673.4,615.1 673.6,612 674,608.3 674.3,609.8 674.6,611.6 675,610.7 675.3,611.3 675.6,609.4 675.9,610.9 676.3,609.1 676.6,610.5 676.8,611.4 676.9,610.8 677,608.7 677.2,608.4 677.6,607.7 677.9,607.4 678.1,611.4 678.2,612 678.5,615.2 678.9,615.3 679.2,615.4 679.5,613.4 679.8,611.7 679.9,611.6 680.1,610.6 680.5,611 680.8,610.7 681,610 681.1,609.4 681.4,606.5 681.7,604.1 681.8,604.8 682.1,604.8 682.4,606 682.5,604.9 682.7,600.3 683.1,596.4 683.2,595.9 683.4,593.6 683.7,591.8 683.8,595.2 684,593.4 684.4,591.1 684.7,588.9 685,594.5 685.3,597.3 685.7,595.9 686,593.8 686.2,592 686.3,592.6 686.6,594.3 686.9,595.2 687,594.7 687.3,592.7 687.5,591.1 687.6,592.4 687.9,594.4 688.3,595.8 688.5,599 688.6,598.6 688.9,596.5 689,595.1 689.2,597.9 689.6,600.3 689.9,601.6 690,602.1 690.2,599.8 690.5,598.4 690.9,600.9 691.2,601.4 691.4,600.1 691.5,598.4 691.8,595.4 692,593.1 692.2,593.6 692.5,593.9 692.8,594.9 693.1,595.8 693.5,594.2 693.8,594.1 694.1,596.3 694.4,597 694.8,597.1 695.1,599.3 695.2,598.9 695.4,601 695.7,602.5 695.8,602.9 696.1,602.6 696.4,602 696.6,601.3 696.7,602.2 697,606.4 697.3,607.3 697.7,605.7 697.8,605.7 698,603.2 698.2,600.3 698.3,598.9 698.6,597.2 698.8,598.2 699,599.3 699.2,600.2 699.3,599.6 699.6,599.6 699.9,603.1 700.1,603.9 700.3,608.6 700.4,610.1 700.6,605.5 700.7,603.9 700.9,604.1 701.2,606.2 701.5,607.6 701.6,607.2 701.9,605.8 702.2,603.3 702.4,602.7 702.5,605 702.9,606 703,606.7 703.2,608.7 703.5,610.8 703.8,611.7 704.2,608.7 704.5,607.4 704.6,606.4 704.8,605.5 705.1,605.7 705.5,604.6 705.8,606.3 706.1,603.1 706.4,604.2 706.8,607.2 707.1,607.6 707.4,607.5 707.5,607.9 707.7,605.3 708.1,603 708.4,602.7 708.7,603 709,602.2 709.4,600 709.6,599.7 709.7,601.1 710,601.8 710.2,603.4 710.3,600.1 710.4,598.1 710.7,597 710.9,595.1 711,593 711.1,590.7 711.3,590.1 711.6,589.9 712,586.7 712.2,585.1 712.3,587 712.6,589.2 712.9,587.5 713.3,589 713.6,586.8 713.9,587.7 714,586.8 714.2,585.8 714.5,582.6 714.9,582.6 715.2,587.1 715.5,586.1 715.8,588.4 716.2,590.2 716.3,590.3 716.5,589.5 716.6,588.1 716.8,585.6 717,585.6 717.1,586.2 717.4,590.8 717.5,590.7 717.8,589.9 718.1,586 718.2,584.9 718.4,583.6 718.7,584.2 718.8,584.6 719.1,585.8 719.3,586.6 719.4,585.7 719.6,585.4 719.8,585.3 720.1,587.3 720.4,589.1 720.7,590.1 721.1,589.6 721.3,589.8 721.4,588.6 721.7,589.9 722,590.8 722.4,593.6 722.6,597.8 722.7,597.5 722.8,597.8 723,592.3 723.2,596.3 723.3,596.5 723.7,599.6 723.9,601.9 724,601.1 724.3,600.2 724.6,598.8 725,597.2 725.3,596.6 725.4,597.1 725.6,598 725.9,598.4 726.1,600.4 726.3,600.3 726.4,600.5 726.6,602 726.9,604.4 727,604.7 727.2,601.8 727.3,600.3 727.6,599.8 727.9,599.2 728,599.7 728.2,597.6 728.5,595.1 728.9,596.7 729.2,596.3 729.4,595 729.5,595.1 729.8,593.3 730.2,590.9 730.3,590.6 730.5,590.2 730.8,591.6 731,590.7 731.1,589 731.5,589.7 731.8,587.1 732.1,588.5 732.4,591.4 732.7,591.2 732.8,591.4 733.1,592.3 733.3,592.8 733.4,592.1 733.7,588.6 734.1,589.1 734.4,589.9 734.6,591.7 734.7,592.1 735,592.9 735.2,593.9 735.4,592.5 735.5,590.8 735.7,590.2 736,591.5 736.1,591.8 736.3,590.2 736.7,589.7 737,589.5 737.3,587.2 737.5,585.8 737.6,586.8 738,587 738.2,587.2 738.3,587.4 738.6,588.3 738.9,588.8 739.3,587.2 739.4,588.4 739.6,590 739.9,588.2 740.3,588.3 740.6,586.1 740.8,585.6 740.9,586.5 741.2,589.2 741.4,590.6 741.6,589.5 741.9,590.2 742.1,592.2 742.2,593.3 742.5,593.2 742.9,593.5 743.2,591.2 743.3,592.5 743.5,591.4 743.8,590.1 744,590.2 744.2,590.2 744.5,590.7 744.7,590 744.8,589.9 745.1,592.3 745.5,594.2 745.8,593 746.1,589.9 746.4,587.9 746.7,587.5 746.8,589.1 747.1,592.9 747.4,592.1 747.7,595.2 747.8,596.4 748.1,595.3 748.3,595.6 748.4,595.4 748.7,594.3 748.9,593.2 749,594 749.3,596.1 749.4,597.1 749.7,599.2 749.8,599.7 750,598.4 750.3,598.2 750.4,597.8 750.7,600.8 750.9,604 751,605.7 751.3,608.5 751.6,609.7 752,610.2 752.3,606.8 752.4,606.6 752.6,608.3 752.7,609.3 752.9,605.3 753.3,605.4 753.6,606.1 753.9,608 754.2,609.9 754.6,610.6 754.9,611.5 755.2,611.6 755.4,609.9 755.5,610.5 755.9,610.6 756,610 756.2,609.2 756.5,606.7 756.8,607.8 757.2,605.5 757.5,605.4 757.8,606.9 758.1,610.4 758.5,610.3 758.7,611.8 758.8,611.8 759.1,613.1 759.3,616.9 759.5,618.1 759.7,618.9 759.8,623.2 759.9,628 760,622.5 760.1,622.2 760.4,623.9 760.8,623.9 761,624.2 761.1,624.2 761.4,625.3 761.5,625 761.7,626.3 761.9,628.1 762.1,627 762.4,626.1 762.7,622.6 762.8,622.3 763,624.5 763.2,626.2 763.4,625.2 763.7,624.1 764,623.2 764.1,622.2" stroke="#0c2f47" stroke-width="1.1" stroke-linejoin="round"/></g>
<rect x="143.8" y="94.7" width="1008.2" height="384.5" fill="none" stroke="#1c2a30" stroke-width="1.4"/>
<rect x="143.8" y="543.3" width="1008.2" height="83.80000000000007" fill="none" stroke="#1c2a30" stroke-width="1.4"/>
<path d="M162.2,479.2v4.5M162.2,627.1v4.5M201.8,479.2v4.5M201.8,627.1v4.5M241.4,479.2v4.5M241.4,627.1v4.5M281,479.2v4.5M281,627.1v4.5M320.6,479.2v4.5M320.6,627.1v4.5M360.2,479.2v4.5M360.2,627.1v4.5M399.8,479.2v4.5M399.8,627.1v4.5M439.4,479.2v4.5M439.4,627.1v4.5M478.9,479.2v4.5M478.9,627.1v4.5M518.5,479.2v4.5M518.5,627.1v4.5M558.1,479.2v4.5M558.1,627.1v4.5M597.7,479.2v4.5M597.7,627.1v4.5M637.3,479.2v4.5M637.3,627.1v4.5M676.9,479.2v4.5M676.9,627.1v4.5M716.5,479.2v4.5M716.5,627.1v4.5M756.1,479.2v4.5M756.1,627.1v4.5M795.7,479.2v4.5M795.7,627.1v4.5M835.3,479.2v4.5M835.3,627.1v4.5M874.9,479.2v4.5M874.9,627.1v4.5M914.5,479.2v4.5M914.5,627.1v4.5M954,479.2v4.5M954,627.1v4.5M993.6,479.2v4.5M993.6,627.1v4.5M1033.2,479.2v4.5M1033.2,627.1v4.5M1072.8,479.2v4.5M1072.8,627.1v4.5M1112.4,479.2v4.5M1112.4,627.1v4.5M1152,479.2v4.5M1152,627.1v4.5M143.8,454.4h-4.5M143.8,406.3h-4.5M143.8,358.1h-4.5M143.8,309.9h-4.5M143.8,261.8h-4.5M143.8,213.6h-4.5M143.8,165.4h-4.5M143.8,117.2h-4.5M143.8,610.3h-4.5M143.8,576.8h-4.5M143.8,543.3h-4.5" stroke="#0c2f47" stroke-width="1.2" fill="none"/>
<path d="M143.8,473.6h-2.6M143.8,468.9h-2.6M143.8,465.1h-2.6M143.8,461.9h-2.6M143.8,459.1h-2.6M143.8,456.6h-2.6M143.8,439.9h-2.6M143.8,431.5h-2.6M143.8,425.4h-2.6M143.8,420.8h-2.6M143.8,417h-2.6M143.8,413.7h-2.6M143.8,410.9h-2.6M143.8,408.5h-2.6M143.8,391.8h-2.6M143.8,383.3h-2.6M143.8,377.3h-2.6M143.8,372.6h-2.6M143.8,368.8h-2.6M143.8,365.6h-2.6M143.8,362.8h-2.6M143.8,360.3h-2.6M143.8,343.6h-2.6M143.8,335.1h-2.6M143.8,329.1h-2.6M143.8,324.4h-2.6M143.8,320.6h-2.6M143.8,317.4h-2.6M143.8,314.6h-2.6M143.8,312.1h-2.6M143.8,295.4h-2.6M143.8,286.9h-2.6M143.8,280.9h-2.6M143.8,276.3h-2.6M143.8,272.4h-2.6M143.8,269.2h-2.6M143.8,266.4h-2.6M143.8,264h-2.6M143.8,247.3h-2.6M143.8,238.8h-2.6M143.8,232.8h-2.6M143.8,228.1h-2.6M143.8,224.3h-2.6M143.8,221.1h-2.6M143.8,218.3h-2.6M143.8,215.8h-2.6M143.8,199.1h-2.6M143.8,190.6h-2.6M143.8,184.6h-2.6M143.8,179.9h-2.6M143.8,176.1h-2.6M143.8,172.9h-2.6M143.8,170.1h-2.6M143.8,167.6h-2.6M143.8,150.9h-2.6M143.8,142.4h-2.6M143.8,136.4h-2.6M143.8,131.8h-2.6M143.8,127.9h-2.6M143.8,124.7h-2.6M143.8,121.9h-2.6M143.8,119.5h-2.6M143.8,102.7h-2.6M143.8,593.6h-2.6M143.8,560.1h-2.6" stroke="#0c2f47" stroke-width="0.8" fill="none"/>
<g font-family="Liberation Sans, sans-serif" fill="#0c2f47"><g fill-opacity="0.9">
<text x="201.8" y="503.6" text-anchor="middle" font-size="20" textLength="46.599999999999994" lengthAdjust="spacingAndGlyphs">2012</text>
<text x="201.8" y="651.5" text-anchor="middle" font-size="20" textLength="46.599999999999994" lengthAdjust="spacingAndGlyphs">2012</text>
<text x="281" y="503.6" text-anchor="middle" font-size="20" textLength="47.199999999999996" lengthAdjust="spacingAndGlyphs">2014</text>
<text x="281" y="651.5" text-anchor="middle" font-size="20" textLength="47.199999999999996" lengthAdjust="spacingAndGlyphs">2014</text>
<text x="360.2" y="503.6" text-anchor="middle" font-size="20" textLength="46.8" lengthAdjust="spacingAndGlyphs">2016</text>
<text x="360.2" y="651.5" text-anchor="middle" font-size="20" textLength="46.8" lengthAdjust="spacingAndGlyphs">2016</text>
<text x="439.4" y="503.6" text-anchor="middle" font-size="20" textLength="47.8" lengthAdjust="spacingAndGlyphs">2018</text>
<text x="439.4" y="651.5" text-anchor="middle" font-size="20" textLength="47.8" lengthAdjust="spacingAndGlyphs">2018</text>
<text x="518.5" y="503.6" text-anchor="middle" font-size="20" textLength="51.8" lengthAdjust="spacingAndGlyphs">2020</text>
<text x="518.5" y="651.5" text-anchor="middle" font-size="20" textLength="51.8" lengthAdjust="spacingAndGlyphs">2020</text>
<text x="597.7" y="503.6" text-anchor="middle" font-size="20" textLength="50.0" lengthAdjust="spacingAndGlyphs">2022</text>
<text x="597.7" y="651.5" text-anchor="middle" font-size="20" textLength="50.0" lengthAdjust="spacingAndGlyphs">2022</text>
<text x="676.9" y="503.6" text-anchor="middle" font-size="20" textLength="51.599999999999994" lengthAdjust="spacingAndGlyphs">2024</text>
<text x="676.9" y="651.5" text-anchor="middle" font-size="20" textLength="51.599999999999994" lengthAdjust="spacingAndGlyphs">2024</text>
<text x="756.1" y="503.6" text-anchor="middle" font-size="20" textLength="50.599999999999994" lengthAdjust="spacingAndGlyphs">2026</text>
<text x="756.1" y="651.5" text-anchor="middle" font-size="20" textLength="50.599999999999994" lengthAdjust="spacingAndGlyphs">2026</text>
<text x="835.3" y="503.6" text-anchor="middle" font-size="20" textLength="50.599999999999994" lengthAdjust="spacingAndGlyphs">2028</text>
<text x="835.3" y="651.5" text-anchor="middle" font-size="20" textLength="50.599999999999994" lengthAdjust="spacingAndGlyphs">2028</text>
<text x="914.5" y="503.6" text-anchor="middle" font-size="20" textLength="51.199999999999996" lengthAdjust="spacingAndGlyphs">2030</text>
<text x="914.5" y="651.5" text-anchor="middle" font-size="20" textLength="51.199999999999996" lengthAdjust="spacingAndGlyphs">2030</text>
<text x="993.6" y="503.6" text-anchor="middle" font-size="20" textLength="49.599999999999994" lengthAdjust="spacingAndGlyphs">2032</text>
<text x="993.6" y="651.5" text-anchor="middle" font-size="20" textLength="49.599999999999994" lengthAdjust="spacingAndGlyphs">2032</text>
<text x="1072.8" y="503.6" text-anchor="middle" font-size="20" textLength="51.4" lengthAdjust="spacingAndGlyphs">2034</text>
<text x="1072.8" y="651.5" text-anchor="middle" font-size="20" textLength="51.4" lengthAdjust="spacingAndGlyphs">2034</text>
<text x="1152" y="503.6" text-anchor="middle" font-size="20" textLength="50.4" lengthAdjust="spacingAndGlyphs">2036</text>
<text x="1152" y="651.5" text-anchor="middle" font-size="20" textLength="50.4" lengthAdjust="spacingAndGlyphs">2036</text>
<text x="133.9" y="125.7" text-anchor="end" font-size="20" textLength="110.8" lengthAdjust="spacingAndGlyphs">$1,000,000</text>
<text x="133.9" y="173.8" text-anchor="end" font-size="20" textLength="92.5" lengthAdjust="spacingAndGlyphs">$100,000</text>
<text x="133.9" y="222" text-anchor="end" font-size="20" textLength="79.2" lengthAdjust="spacingAndGlyphs">$10,000</text>
<text x="133.9" y="270.2" text-anchor="end" font-size="20" textLength="65.3" lengthAdjust="spacingAndGlyphs">$1,000</text>
<text x="133.9" y="318.3" text-anchor="end" font-size="20" textLength="47.3" lengthAdjust="spacingAndGlyphs">$100</text>
<text x="133.9" y="366.5" text-anchor="end" font-size="20" textLength="33.6" lengthAdjust="spacingAndGlyphs">$10</text>
<text x="133.9" y="414.7" text-anchor="end" font-size="20" textLength="18.9" lengthAdjust="spacingAndGlyphs">$1</text>
<text x="133.9" y="462.8" text-anchor="end" font-size="20" textLength="37.2" lengthAdjust="spacingAndGlyphs">$0.1</text>
<text x="134.3" y="618" text-anchor="end" font-size="20" textLength="6.6" lengthAdjust="spacingAndGlyphs">1</text>
<text x="134.3" y="584.5" text-anchor="end" font-size="20" textLength="11.0" lengthAdjust="spacingAndGlyphs">3</text>
<text x="134.3" y="551" text-anchor="end" font-size="20" textLength="11.2" lengthAdjust="spacingAndGlyphs">5</text>
</g>
<text x="240.66" y="45.9" font-size="36" textLength="142.82" lengthAdjust="spacingAndGlyphs" stroke="#0c2f47" stroke-width="1.2" stroke-linejoin="round">Bitcoin</text>
<text x="400.82" y="45.9" font-size="36" textLength="121.47" lengthAdjust="spacingAndGlyphs" stroke="#0c2f47" stroke-width="1.2" stroke-linejoin="round">Power</text>
<text x="540.86" y="45.9" font-size="36" textLength="100.31" lengthAdjust="spacingAndGlyphs" stroke="#0c2f47" stroke-width="1.2" stroke-linejoin="round">Curve</text>
<text x="661.80" y="45.9" font-size="36" textLength="101.52" lengthAdjust="spacingAndGlyphs" stroke="#0c2f47" stroke-width="1.2" stroke-linejoin="round">Time</text>
<text x="780.98" y="45.9" font-size="36" textLength="178.54" lengthAdjust="spacingAndGlyphs" stroke="#0c2f47" stroke-width="1.2" stroke-linejoin="round">Contours</text>
<text x="428.75" y="75.9" font-size="24" textLength="159.32" lengthAdjust="spacingAndGlyphs" fill-opacity="0.9">x.com/apsk32</text>
<text x="597.07" y="75.9" font-size="24" textLength="5.40" lengthAdjust="spacingAndGlyphs" fill-opacity="0.9">|</text>
<text x="612.99" y="75.9" font-size="24" textLength="41.80" lengthAdjust="spacingAndGlyphs" fill-opacity="0.9">Mar</text>
<text x="663.67" y="75.9" font-size="24" textLength="24.46" lengthAdjust="spacingAndGlyphs" fill-opacity="0.9">16,</text>
<text x="697.45" y="75.9" font-size="24" textLength="56.32" lengthAdjust="spacingAndGlyphs" fill-opacity="0.9">2026</text>
<text x="454.25" y="535.4" font-size="23" textLength="64.30" lengthAdjust="spacingAndGlyphs" stroke="#0c2f47" stroke-width="1.0" stroke-linejoin="round">Years</text>
<text x="526.40" y="535.4" font-size="23" textLength="76.21" lengthAdjust="spacingAndGlyphs" stroke="#0c2f47" stroke-width="1.0" stroke-linejoin="round">Ahead</text>
<text x="611.80" y="535.4" font-size="23" textLength="21.03" lengthAdjust="spacingAndGlyphs" stroke="#0c2f47" stroke-width="1.0" stroke-linejoin="round">of</text>
<text x="642.60" y="535.4" font-size="23" textLength="37.22" lengthAdjust="spacingAndGlyphs" stroke="#0c2f47" stroke-width="1.0" stroke-linejoin="round">the</text>
<text x="689.25" y="535.4" font-size="23" textLength="74.96" lengthAdjust="spacingAndGlyphs" stroke="#0c2f47" stroke-width="1.0" stroke-linejoin="round">Power</text>
<text x="773.27" y="535.4" font-size="23" textLength="69.22" lengthAdjust="spacingAndGlyphs" stroke="#0c2f47" stroke-width="1.0" stroke-linejoin="round">Curve</text>
</g>
</svg>
</body></html>
